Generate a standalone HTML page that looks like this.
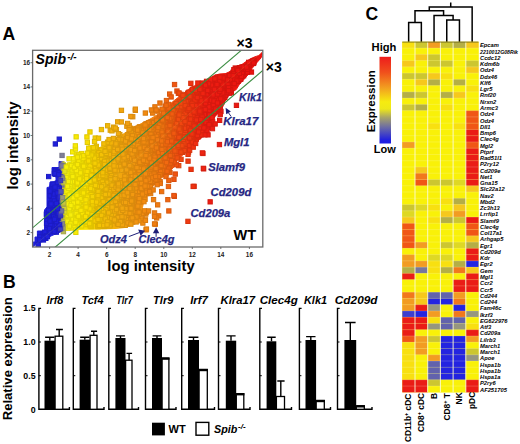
<!DOCTYPE html>
<html><head><meta charset="utf-8">
<style>
html,body{margin:0;padding:0;background:#fff;}
body{width:520px;height:444px;overflow:hidden;}
svg{display:block;font-family:"Liberation Sans",sans-serif;}
</style></head>
<body>
<svg width="520" height="444" viewBox="0 0 520 444">
<rect width="520" height="444" fill="#fff"/>
<!-- Panel A -->
<text x="2.4" y="40.3" font-size="17.6" font-weight="bold">A</text>
<defs><clipPath id="fr"><rect x="32.6" y="50.3" width="230.2" height="196.7"/></clipPath></defs>
<g clip-path="url(#fr)">
<defs><linearGradient id="sg" gradientUnits="userSpaceOnUse" x1="32.6" y1="0" x2="262.8" y2="0"><stop offset="0.0000" stop-color="#1f1fda"/><stop offset="0.1185" stop-color="#2020da"/><stop offset="0.1272" stop-color="#7878a0"/><stop offset="0.1358" stop-color="#c8c83c"/><stop offset="0.1433" stop-color="#f8f40a"/><stop offset="0.2288" stop-color="#fae200"/><stop offset="0.2908" stop-color="#f4c404"/><stop offset="0.3838" stop-color="#f2a60e"/><stop offset="0.4458" stop-color="#f29610"/><stop offset="0.5450" stop-color="#f17a10"/><stop offset="0.5946" stop-color="#f16210"/><stop offset="0.6380" stop-color="#f14a10"/><stop offset="0.6937" stop-color="#f03210"/><stop offset="0.7557" stop-color="#ee1e12"/><stop offset="1.0000" stop-color="#e9100e"/></linearGradient></defs><path d="M33.0 246.5 L40.0 242.0 L46.0 238.5 L52.0 235.5 L58.0 233.0 L61.7 231.5 L63.0 231.0 L70.0 229.8 L85.0 229.3 L100.0 229.0 L115.0 228.5 L125.0 227.5 L134.0 224.5 L138.7 221.0 L142.0 214.0 L142.5 207.3 L144.0 200.6 L149.0 193.8 L152.3 187.0 L159.0 180.0 L167.5 173.3 L174.0 167.0 L177.3 160.4 L183.6 154.1 L191.5 147.8 L197.8 141.5 L202.6 135.2 L207.3 128.9 L212.0 122.6 L215.2 116.3 L221.5 110.0 L225.0 101.0 L230.6 93.0 L236.3 89.5 L239.6 84.0 L243.0 80.5 L248.7 74.0 L252.0 68.5 L256.5 63.0 L261.0 58.0 L262.0 55.0 L262.0 52.5 L258.8 55.5 L254.3 57.0 L247.5 60.5 L241.9 64.5 L234.0 67.0 L231.8 70.5 L226.0 73.5 L219.4 74.0 L213.1 76.0 L205.2 80.5 L197.3 84.5 L191.0 87.5 L183.8 93.0 L172.3 102.0 L160.8 112.7 L149.2 119.6 L137.7 125.4 L126.2 132.3 L114.6 139.2 L103.0 146.2 L91.5 150.8 L80.0 157.7 L74.2 160.0 L67.0 164.0 L64.0 161.5 L59.0 161.5 L59.0 167.5 L52.0 167.5 L52.0 175.5 L56.0 177.0 L56.0 181.5 L50.0 182.0 L49.5 187.0 L47.0 187.5 L47.0 207.0 L44.5 210.0 L44.5 231.0 L37.4 231.0 L37.4 237.0 L35.0 237.0 L35.0 242.0 L33.2 242.0 Z" fill="url(#sg)" stroke="url(#sg)" stroke-width="1"/>
<rect x="107.2" y="188.4" width="4.3" height="4.3" fill="#f3b609" stroke="#daa308"/>
<rect x="58.9" y="225.3" width="4.3" height="4.3" fill="#5656b7" stroke="#4d4da4"/>
<rect x="109.8" y="208.1" width="4.3" height="4.3" fill="#f3b30a" stroke="#daa109"/>
<rect x="166.7" y="149.7" width="4.3" height="4.3" fill="#f16310" stroke="#d8590e"/>
<rect x="120.3" y="154.7" width="4.3" height="4.3" fill="#f2a40e" stroke="#d9930c"/>
<rect x="112.2" y="154.2" width="4.3" height="4.3" fill="#f3af0b" stroke="#da9d09"/>
<rect x="113.3" y="177.6" width="4.3" height="4.3" fill="#f3ae0b" stroke="#da9c09"/>
<rect x="102.8" y="156.7" width="4.3" height="4.3" fill="#f3bc07" stroke="#daa906"/>
<rect x="194.3" y="131.3" width="4.3" height="4.3" fill="#ef2c11" stroke="#d7270f"/>
<rect x="190.7" y="111.8" width="4.3" height="4.3" fill="#f03110" stroke="#d82c0e"/>
<rect x="76.5" y="174.6" width="4.3" height="4.3" fill="#f9e803" stroke="#e0d002"/>
<rect x="136.2" y="165.9" width="4.3" height="4.3" fill="#f29210" stroke="#d9830e"/>
<rect x="110.8" y="178.9" width="4.3" height="4.3" fill="#f3b10a" stroke="#da9f09"/>
<rect x="240.5" y="73.0" width="4.3" height="4.3" fill="#eb1510" stroke="#d3120e"/>
<rect x="242.2" y="70.3" width="4.3" height="4.3" fill="#ea1510" stroke="#d2120e"/>
<rect x="171.9" y="138.1" width="4.3" height="4.3" fill="#f15710" stroke="#d84e0e"/>
<rect x="174.2" y="109.1" width="4.3" height="4.3" fill="#f15110" stroke="#d8480e"/>
<rect x="132.4" y="167.4" width="4.3" height="4.3" fill="#f29710" stroke="#d9870e"/>
<rect x="130.2" y="219.3" width="4.3" height="4.3" fill="#f29910" stroke="#d9890e"/>
<rect x="164.2" y="128.0" width="4.3" height="4.3" fill="#f16910" stroke="#d85e0e"/>
<rect x="99.8" y="191.1" width="4.3" height="4.3" fill="#f4c105" stroke="#dbad04"/>
<rect x="121.9" y="164.1" width="4.3" height="4.3" fill="#f2a30e" stroke="#d9920c"/>
<rect x="69.9" y="171.4" width="4.3" height="4.3" fill="#f9ee07" stroke="#e0d606"/>
<rect x="212.1" y="84.3" width="4.3" height="4.3" fill="#ed1c12" stroke="#d51910"/>
<rect x="149.4" y="120.0" width="4.3" height="4.3" fill="#f18210" stroke="#d8750e"/>
<rect x="84.6" y="202.4" width="4.3" height="4.3" fill="#f9df00" stroke="#e0c800"/>
<rect x="69.2" y="174.6" width="4.3" height="4.3" fill="#f9ef07" stroke="#e0d706"/>
<rect x="135.3" y="178.0" width="4.3" height="4.3" fill="#f29310" stroke="#d9840e"/>
<rect x="211.0" y="101.6" width="4.3" height="4.3" fill="#ed1c12" stroke="#d51910"/>
<rect x="54.4" y="186.2" width="4.3" height="4.3" fill="#2020da" stroke="#1c1cc4"/>
<rect x="217.8" y="92.9" width="4.3" height="4.3" fill="#ed1b11" stroke="#d5180f"/>
<rect x="87.3" y="206.6" width="4.3" height="4.3" fill="#f8d901" stroke="#dfc300"/>
<rect x="70.0" y="166.0" width="4.3" height="4.3" fill="#f9ee07" stroke="#e0d606"/>
<rect x="77.6" y="191.9" width="4.3" height="4.3" fill="#f9e703" stroke="#e0cf02"/>
<rect x="233.8" y="74.5" width="4.3" height="4.3" fill="#eb1710" stroke="#d3140e"/>
<rect x="101.6" y="148.8" width="4.3" height="4.3" fill="#f4be06" stroke="#dbab05"/>
<rect x="116.8" y="143.8" width="4.3" height="4.3" fill="#f2a90d" stroke="#d9980b"/>
<rect x="138.6" y="163.3" width="4.3" height="4.3" fill="#f28f10" stroke="#d9800e"/>
<rect x="197.7" y="119.6" width="4.3" height="4.3" fill="#ef2711" stroke="#d7230f"/>
<rect x="125.2" y="150.2" width="4.3" height="4.3" fill="#f29f0f" stroke="#d98f0d"/>
<rect x="207.7" y="119.4" width="4.3" height="4.3" fill="#ee1d12" stroke="#d61a10"/>
<rect x="75.4" y="157.3" width="4.3" height="4.3" fill="#f9e904" stroke="#e0d103"/>
<rect x="156.5" y="213.7" width="4.3" height="4.3" fill="#f17910" stroke="#d86c0e"/>
<rect x="135.5" y="197.8" width="4.3" height="4.3" fill="#f29310" stroke="#d9840e"/>
<rect x="197.1" y="133.7" width="4.3" height="4.3" fill="#ef2811" stroke="#d7240f"/>
<rect x="158.0" y="179.5" width="4.3" height="4.3" fill="#f17610" stroke="#d86a0e"/>
<rect x="131.3" y="157.6" width="4.3" height="4.3" fill="#f29810" stroke="#d9880e"/>
<rect x="160.7" y="116.3" width="4.3" height="4.3" fill="#f17010" stroke="#d8640e"/>
<rect x="108.0" y="185.6" width="4.3" height="4.3" fill="#f3b509" stroke="#daa208"/>
<rect x="100.7" y="193.7" width="4.3" height="4.3" fill="#f4bf06" stroke="#dbab05"/>
<rect x="235.5" y="67.6" width="4.3" height="4.3" fill="#eb1610" stroke="#d3130e"/>
<rect x="41.3" y="237.8" width="4.3" height="4.3" fill="#1f1fda" stroke="#1b1bc4"/>
<rect x="73.3" y="218.7" width="4.3" height="4.3" fill="#f9eb05" stroke="#e0d304"/>
<rect x="145.1" y="170.2" width="4.3" height="4.3" fill="#f18710" stroke="#d8790e"/>
<rect x="69.9" y="167.7" width="4.3" height="4.3" fill="#f9ee07" stroke="#e0d606"/>
<rect x="196.9" y="129.7" width="4.3" height="4.3" fill="#ef2911" stroke="#d7240f"/>
<rect x="85.5" y="177.1" width="4.3" height="4.3" fill="#f9dd01" stroke="#e0c600"/>
<rect x="93.2" y="161.9" width="4.3" height="4.3" fill="#f6cd03" stroke="#ddb802"/>
<rect x="131.6" y="162.3" width="4.3" height="4.3" fill="#f29810" stroke="#d9880e"/>
<rect x="94.2" y="144.3" width="4.3" height="4.3" fill="#f5cb03" stroke="#dcb602"/>
<rect x="47.5" y="213.4" width="4.3" height="4.3" fill="#1f1fda" stroke="#1b1bc4"/>
<rect x="97.5" y="177.5" width="4.3" height="4.3" fill="#f4c404" stroke="#dbb003"/>
<rect x="143.7" y="147.5" width="4.3" height="4.3" fill="#f28910" stroke="#d97b0e"/>
<rect x="123.6" y="184.3" width="4.3" height="4.3" fill="#f2a10f" stroke="#d9900d"/>
<rect x="94.4" y="196.0" width="4.3" height="4.3" fill="#f5ca03" stroke="#dcb502"/>
<rect x="124.7" y="140.3" width="4.3" height="4.3" fill="#f29f0f" stroke="#d98f0d"/>
<rect x="152.7" y="159.1" width="4.3" height="4.3" fill="#f17e10" stroke="#d8710e"/>
<rect x="212.1" y="81.7" width="4.3" height="4.3" fill="#ed1c12" stroke="#d51910"/>
<rect x="96.9" y="196.8" width="4.3" height="4.3" fill="#f4c504" stroke="#dbb103"/>
<rect x="164.2" y="147.7" width="4.3" height="4.3" fill="#f16910" stroke="#d85e0e"/>
<rect x="204.4" y="110.6" width="4.3" height="4.3" fill="#ee1e12" stroke="#d61b10"/>
<rect x="186.4" y="103.2" width="4.3" height="4.3" fill="#f03910" stroke="#d8330e"/>
<rect x="126.8" y="163.0" width="4.3" height="4.3" fill="#f29d0f" stroke="#d98d0d"/>
<rect x="153.7" y="179.3" width="4.3" height="4.3" fill="#f17d10" stroke="#d8700e"/>
<rect x="83.3" y="166.1" width="4.3" height="4.3" fill="#fae200" stroke="#e1cb00"/>
<rect x="117.9" y="156.4" width="4.3" height="4.3" fill="#f2a70e" stroke="#d9960c"/>
<rect x="170.3" y="151.7" width="4.3" height="4.3" fill="#f15b10" stroke="#d8510e"/>
<rect x="163.8" y="171.8" width="4.3" height="4.3" fill="#f16910" stroke="#d85e0e"/>
<rect x="95.4" y="213.6" width="4.3" height="4.3" fill="#f5c803" stroke="#dcb402"/>
<rect x="84.4" y="183.5" width="4.3" height="4.3" fill="#f9df00" stroke="#e0c800"/>
<rect x="50.9" y="192.8" width="4.3" height="4.3" fill="#2020da" stroke="#1c1cc4"/>
<rect x="45.6" y="218.0" width="4.3" height="4.3" fill="#1f1fda" stroke="#1b1bc4"/>
<rect x="192.0" y="114.4" width="4.3" height="4.3" fill="#f02f10" stroke="#d82a0e"/>
<rect x="137.7" y="182.6" width="4.3" height="4.3" fill="#f29010" stroke="#d9810e"/>
<rect x="153.3" y="126.9" width="4.3" height="4.3" fill="#f17d10" stroke="#d8700e"/>
<rect x="92.4" y="167.7" width="4.3" height="4.3" fill="#f6cf03" stroke="#ddba02"/>
<rect x="41.1" y="231.4" width="4.3" height="4.3" fill="#1f1fda" stroke="#1b1bc4"/>
<rect x="127.5" y="193.3" width="4.3" height="4.3" fill="#f29c0f" stroke="#d98c0d"/>
<rect x="66.8" y="219.4" width="4.3" height="4.3" fill="#f8f108" stroke="#dfd807"/>
<rect x="86.9" y="173.6" width="4.3" height="4.3" fill="#f8da01" stroke="#dfc400"/>
<rect x="105.4" y="169.1" width="4.3" height="4.3" fill="#f3b908" stroke="#daa607"/>
<rect x="158.1" y="150.5" width="4.3" height="4.3" fill="#f17510" stroke="#d8690e"/>
<rect x="125.6" y="213.2" width="4.3" height="4.3" fill="#f29e0f" stroke="#d98e0d"/>
<rect x="201.7" y="110.1" width="4.3" height="4.3" fill="#ee2212" stroke="#d61e10"/>
<rect x="102.1" y="215.3" width="4.3" height="4.3" fill="#f4bd06" stroke="#dbaa05"/>
<rect x="204.9" y="128.1" width="4.3" height="4.3" fill="#ee1e12" stroke="#d61b10"/>
<rect x="102.0" y="206.3" width="4.3" height="4.3" fill="#f4be06" stroke="#dbab05"/>
<rect x="103.8" y="207.6" width="4.3" height="4.3" fill="#f3bb07" stroke="#daa806"/>
<rect x="128.6" y="206.1" width="4.3" height="4.3" fill="#f29b0f" stroke="#d98b0d"/>
<rect x="133.4" y="148.0" width="4.3" height="4.3" fill="#f29610" stroke="#d9870e"/>
<rect x="108.5" y="170.5" width="4.3" height="4.3" fill="#f3b409" stroke="#daa208"/>
<rect x="115.4" y="193.9" width="4.3" height="4.3" fill="#f2ab0c" stroke="#d9990a"/>
<rect x="73.7" y="162.5" width="4.3" height="4.3" fill="#f9eb05" stroke="#e0d304"/>
<rect x="161.6" y="127.7" width="4.3" height="4.3" fill="#f16e10" stroke="#d8630e"/>
<rect x="53.1" y="168.3" width="4.3" height="4.3" fill="#2020da" stroke="#1c1cc4"/>
<rect x="158.7" y="167.4" width="4.3" height="4.3" fill="#f17410" stroke="#d8680e"/>
<rect x="112.8" y="190.9" width="4.3" height="4.3" fill="#f3ae0b" stroke="#da9c09"/>
<rect x="69.8" y="181.2" width="4.3" height="4.3" fill="#f9ee07" stroke="#e0d606"/>
<rect x="122.5" y="163.3" width="4.3" height="4.3" fill="#f2a20f" stroke="#d9910d"/>
<rect x="174.5" y="107.3" width="4.3" height="4.3" fill="#f15110" stroke="#d8480e"/>
<rect x="95.6" y="223.7" width="4.3" height="4.3" fill="#f5c803" stroke="#dcb402"/>
<rect x="200.3" y="88.4" width="4.3" height="4.3" fill="#ef2411" stroke="#d7200f"/>
<rect x="124.2" y="192.8" width="4.3" height="4.3" fill="#f2a00f" stroke="#d9900d"/>
<rect x="94.0" y="187.2" width="4.3" height="4.3" fill="#f5cb03" stroke="#dcb602"/>
<rect x="118.2" y="205.4" width="4.3" height="4.3" fill="#f2a70e" stroke="#d9960c"/>
<rect x="83.8" y="217.3" width="4.3" height="4.3" fill="#fae100" stroke="#e1ca00"/>
<rect x="201.3" y="85.8" width="4.3" height="4.3" fill="#ee2212" stroke="#d61e10"/>
<rect x="152.7" y="166.0" width="4.3" height="4.3" fill="#f17e10" stroke="#d8710e"/>
<rect x="95.1" y="165.0" width="4.3" height="4.3" fill="#f5c903" stroke="#dcb402"/>
<rect x="142.6" y="147.7" width="4.3" height="4.3" fill="#f28a10" stroke="#d97c0e"/>
<rect x="195.2" y="123.4" width="4.3" height="4.3" fill="#ef2b11" stroke="#d7260f"/>
<rect x="158.3" y="116.6" width="4.3" height="4.3" fill="#f17510" stroke="#d8690e"/>
<rect x="104.3" y="194.0" width="4.3" height="4.3" fill="#f3ba07" stroke="#daa706"/>
<rect x="53.7" y="209.3" width="4.3" height="4.3" fill="#2020da" stroke="#1c1cc4"/>
<rect x="247.4" y="63.2" width="4.3" height="4.3" fill="#ea130f" stroke="#d2110d"/>
<rect x="62.5" y="217.5" width="4.3" height="4.3" fill="#dddb27" stroke="#c6c523"/>
<rect x="58.0" y="196.5" width="4.3" height="4.3" fill="#2d2dd1" stroke="#2828bc"/>
<rect x="180.6" y="142.3" width="4.3" height="4.3" fill="#f14410" stroke="#d83d0e"/>
<rect x="59.1" y="224.7" width="4.3" height="4.3" fill="#5b5bb3" stroke="#5151a1"/>
<rect x="156.2" y="131.2" width="4.3" height="4.3" fill="#f17910" stroke="#d86c0e"/>
<rect x="58.9" y="222.6" width="4.3" height="4.3" fill="#5454b8" stroke="#4b4ba5"/>
<rect x="54.5" y="194.9" width="4.3" height="4.3" fill="#2020da" stroke="#1c1cc4"/>
<rect x="106.1" y="151.6" width="4.3" height="4.3" fill="#f3b808" stroke="#daa507"/>
<rect x="146.8" y="150.0" width="4.3" height="4.3" fill="#f18510" stroke="#d8770e"/>
<rect x="155.7" y="109.0" width="4.3" height="4.3" fill="#f17a10" stroke="#d86d0e"/>
<rect x="115.4" y="199.2" width="4.3" height="4.3" fill="#f2ab0c" stroke="#d9990a"/>
<rect x="57.0" y="214.3" width="4.3" height="4.3" fill="#2020da" stroke="#1c1cc4"/>
<rect x="64.3" y="221.4" width="4.3" height="4.3" fill="#f8f30a" stroke="#dfda09"/>
<rect x="121.6" y="213.6" width="4.3" height="4.3" fill="#f2a30e" stroke="#d9920c"/>
<rect x="56.4" y="226.9" width="4.3" height="4.3" fill="#2020da" stroke="#1c1cc4"/>
<rect x="250.3" y="61.0" width="4.3" height="4.3" fill="#ea130f" stroke="#d2110d"/>
<rect x="52.0" y="192.4" width="4.3" height="4.3" fill="#2020da" stroke="#1c1cc4"/>
<rect x="184.1" y="113.8" width="4.3" height="4.3" fill="#f03d10" stroke="#d8360e"/>
<rect x="148.6" y="156.6" width="4.3" height="4.3" fill="#f18310" stroke="#d8750e"/>
<rect x="160.1" y="133.0" width="4.3" height="4.3" fill="#f17110" stroke="#d8650e"/>
<rect x="243.4" y="70.0" width="4.3" height="4.3" fill="#ea1410" stroke="#d2120e"/>
<rect x="189.2" y="126.9" width="4.3" height="4.3" fill="#f03410" stroke="#d82e0e"/>
<rect x="170.9" y="105.6" width="4.3" height="4.3" fill="#f15910" stroke="#d8500e"/>
<rect x="99.0" y="171.0" width="4.3" height="4.3" fill="#f4c205" stroke="#dbae04"/>
<rect x="145.0" y="138.6" width="4.3" height="4.3" fill="#f18710" stroke="#d8790e"/>
<rect x="84.7" y="194.4" width="4.3" height="4.3" fill="#f9df00" stroke="#e0c800"/>
<rect x="93.3" y="210.8" width="4.3" height="4.3" fill="#f6cd03" stroke="#ddb802"/>
<rect x="60.4" y="180.8" width="4.3" height="4.3" fill="#93937f" stroke="#848472"/>
<rect x="138.0" y="139.5" width="4.3" height="4.3" fill="#f29010" stroke="#d9810e"/>
<rect x="188.3" y="132.8" width="4.3" height="4.3" fill="#f03610" stroke="#d8300e"/>
<rect x="130.2" y="199.7" width="4.3" height="4.3" fill="#f29910" stroke="#d9890e"/>
<rect x="126.7" y="219.9" width="4.3" height="4.3" fill="#f29d0f" stroke="#d98d0d"/>
<rect x="175.5" y="102.0" width="4.3" height="4.3" fill="#f14e10" stroke="#d8460e"/>
<rect x="72.6" y="183.8" width="4.3" height="4.3" fill="#f9ec05" stroke="#e0d404"/>
<rect x="62.7" y="190.1" width="4.3" height="4.3" fill="#e3e120" stroke="#ccca1c"/>
<rect x="121.4" y="167.7" width="4.3" height="4.3" fill="#f2a30e" stroke="#d9920c"/>
<rect x="47.6" y="228.3" width="4.3" height="4.3" fill="#1f1fda" stroke="#1b1bc4"/>
<rect x="85.3" y="199.7" width="4.3" height="4.3" fill="#f9dd01" stroke="#e0c600"/>
<rect x="137.3" y="180.5" width="4.3" height="4.3" fill="#f29110" stroke="#d9820e"/>
<rect x="77.4" y="208.7" width="4.3" height="4.3" fill="#f9e703" stroke="#e0cf02"/>
<rect x="167.9" y="153.8" width="4.3" height="4.3" fill="#f16110" stroke="#d8570e"/>
<rect x="193.7" y="132.9" width="4.3" height="4.3" fill="#f02d10" stroke="#d8280e"/>
<rect x="118.0" y="209.2" width="4.3" height="4.3" fill="#f2a70e" stroke="#d9960c"/>
<rect x="199.4" y="107.6" width="4.3" height="4.3" fill="#ef2511" stroke="#d7210f"/>
<rect x="85.3" y="215.4" width="4.3" height="4.3" fill="#f9dd01" stroke="#e0c600"/>
<rect x="104.8" y="168.0" width="4.3" height="4.3" fill="#f3ba07" stroke="#daa706"/>
<rect x="132.0" y="177.9" width="4.3" height="4.3" fill="#f29710" stroke="#d9870e"/>
<rect x="55.6" y="171.8" width="4.3" height="4.3" fill="#2020da" stroke="#1c1cc4"/>
<rect x="111.4" y="213.1" width="4.3" height="4.3" fill="#f3b00b" stroke="#da9e09"/>
<rect x="46.5" y="174.4" width="4.3" height="4.3" fill="#1f1fda" stroke="#1b1bc4"/>
<rect x="122.8" y="215.3" width="4.3" height="4.3" fill="#f2a20f" stroke="#d9910d"/>
<rect x="86.3" y="210.8" width="4.3" height="4.3" fill="#f9db01" stroke="#e0c500"/>
<rect x="147.3" y="163.4" width="4.3" height="4.3" fill="#f18510" stroke="#d8770e"/>
<rect x="131.3" y="170.7" width="4.3" height="4.3" fill="#f29810" stroke="#d9880e"/>
<rect x="145.9" y="144.8" width="4.3" height="4.3" fill="#f18610" stroke="#d8780e"/>
<rect x="212.8" y="94.5" width="4.3" height="4.3" fill="#ed1c11" stroke="#d5190f"/>
<rect x="77.9" y="166.1" width="4.3" height="4.3" fill="#f9e703" stroke="#e0cf02"/>
<rect x="80.5" y="200.0" width="4.3" height="4.3" fill="#fae401" stroke="#e1cd00"/>
<rect x="148.3" y="183.9" width="4.3" height="4.3" fill="#f18310" stroke="#d8750e"/>
<rect x="90.2" y="168.2" width="4.3" height="4.3" fill="#f7d302" stroke="#debd01"/>
<rect x="55.1" y="217.2" width="4.3" height="4.3" fill="#2020da" stroke="#1c1cc4"/>
<rect x="72.1" y="165.9" width="4.3" height="4.3" fill="#f9ec06" stroke="#e0d405"/>
<rect x="143.4" y="183.0" width="4.3" height="4.3" fill="#f28910" stroke="#d97b0e"/>
<rect x="113.6" y="174.0" width="4.3" height="4.3" fill="#f2ad0c" stroke="#d99b0a"/>
<rect x="128.4" y="148.4" width="4.3" height="4.3" fill="#f29b0f" stroke="#d98b0d"/>
<rect x="82.2" y="214.8" width="4.3" height="4.3" fill="#fae300" stroke="#e1cc00"/>
<rect x="148.6" y="173.2" width="4.3" height="4.3" fill="#f18310" stroke="#d8750e"/>
<rect x="130.1" y="210.8" width="4.3" height="4.3" fill="#f29910" stroke="#d9890e"/>
<rect x="144.4" y="191.4" width="4.3" height="4.3" fill="#f28810" stroke="#d97a0e"/>
<rect x="190.0" y="117.8" width="4.3" height="4.3" fill="#f03210" stroke="#d82d0e"/>
<rect x="134.2" y="155.6" width="4.3" height="4.3" fill="#f29510" stroke="#d9860e"/>
<rect x="88.9" y="206.7" width="4.3" height="4.3" fill="#f8d602" stroke="#dfc001"/>
<rect x="201.8" y="102.2" width="4.3" height="4.3" fill="#ee2212" stroke="#d61e10"/>
<rect x="218.1" y="93.3" width="4.3" height="4.3" fill="#ed1b11" stroke="#d5180f"/>
<rect x="63.7" y="189.4" width="4.3" height="4.3" fill="#f8f40a" stroke="#dfdb09"/>
<rect x="133.7" y="190.3" width="4.3" height="4.3" fill="#f29510" stroke="#d9860e"/>
<rect x="130.6" y="196.7" width="4.3" height="4.3" fill="#f29910" stroke="#d9890e"/>
<rect x="187.5" y="93.9" width="4.3" height="4.3" fill="#f03710" stroke="#d8310e"/>
<rect x="229.9" y="80.2" width="4.3" height="4.3" fill="#ec1810" stroke="#d4150e"/>
<rect x="81.3" y="166.9" width="4.3" height="4.3" fill="#fae401" stroke="#e1cd00"/>
<rect x="51.6" y="207.7" width="4.3" height="4.3" fill="#2020da" stroke="#1c1cc4"/>
<rect x="101.6" y="186.2" width="4.3" height="4.3" fill="#f4be06" stroke="#dbab05"/>
<rect x="136.2" y="209.7" width="4.3" height="4.3" fill="#f29210" stroke="#d9830e"/>
<rect x="55.9" y="214.9" width="4.3" height="4.3" fill="#2020da" stroke="#1c1cc4"/>
<rect x="108.6" y="194.6" width="4.3" height="4.3" fill="#f3b409" stroke="#daa208"/>
<rect x="207.6" y="109.6" width="4.3" height="4.3" fill="#ee1d12" stroke="#d61a10"/>
<rect x="207.3" y="119.8" width="4.3" height="4.3" fill="#ee1d12" stroke="#d61a10"/>
<rect x="128.2" y="194.8" width="4.3" height="4.3" fill="#f29b0f" stroke="#d98b0d"/>
<rect x="71.4" y="156.6" width="4.3" height="4.3" fill="#f9ed06" stroke="#e0d505"/>
<rect x="106.5" y="205.0" width="4.3" height="4.3" fill="#f3b708" stroke="#daa407"/>
<rect x="150.2" y="180.3" width="4.3" height="4.3" fill="#f18110" stroke="#d8740e"/>
<rect x="45.7" y="223.2" width="4.3" height="4.3" fill="#1f1fda" stroke="#1b1bc4"/>
<rect x="148.1" y="130.0" width="4.3" height="4.3" fill="#f18410" stroke="#d8760e"/>
<rect x="166.1" y="136.6" width="4.3" height="4.3" fill="#f16510" stroke="#d85a0e"/>
<rect x="102.1" y="150.3" width="4.3" height="4.3" fill="#f4bd06" stroke="#dbaa05"/>
<rect x="56.4" y="224.6" width="4.3" height="4.3" fill="#2020da" stroke="#1c1cc4"/>
<rect x="148.5" y="191.4" width="4.3" height="4.3" fill="#f18310" stroke="#d8750e"/>
<rect x="196.8" y="88.8" width="4.3" height="4.3" fill="#ef2911" stroke="#d7240f"/>
<rect x="138.5" y="171.5" width="4.3" height="4.3" fill="#f28f10" stroke="#d9800e"/>
<rect x="108.1" y="128.0" width="4.3" height="4.3" fill="#f3b509" stroke="#daa208"/>
<rect x="90.2" y="206.6" width="4.3" height="4.3" fill="#f7d302" stroke="#debd01"/>
<rect x="178.4" y="134.3" width="4.3" height="4.3" fill="#f14810" stroke="#d8400e"/>
<rect x="119.2" y="209.7" width="4.3" height="4.3" fill="#f2a60e" stroke="#d9950c"/>
<rect x="177.8" y="137.0" width="4.3" height="4.3" fill="#f14910" stroke="#d8410e"/>
<rect x="61.1" y="163.1" width="4.3" height="4.3" fill="#b0b05a" stroke="#9e9e51"/>
<rect x="144.1" y="184.6" width="4.3" height="4.3" fill="#f28810" stroke="#d97a0e"/>
<rect x="74.2" y="213.1" width="4.3" height="4.3" fill="#f9ea05" stroke="#e0d204"/>
<rect x="55.2" y="180.9" width="4.3" height="4.3" fill="#2020da" stroke="#1c1cc4"/>
<rect x="215.5" y="102.0" width="4.3" height="4.3" fill="#ed1b11" stroke="#d5180f"/>
<rect x="202.1" y="110.1" width="4.3" height="4.3" fill="#ee2112" stroke="#d61d10"/>
<rect x="179.0" y="126.8" width="4.3" height="4.3" fill="#f14710" stroke="#d83f0e"/>
<rect x="109.4" y="173.5" width="4.3" height="4.3" fill="#f3b30a" stroke="#daa109"/>
<rect x="190.7" y="94.7" width="4.3" height="4.3" fill="#f03110" stroke="#d82c0e"/>
<rect x="165.8" y="141.7" width="4.3" height="4.3" fill="#f16510" stroke="#d85a0e"/>
<rect x="94.0" y="214.1" width="4.3" height="4.3" fill="#f5cb03" stroke="#dcb602"/>
<rect x="75.3" y="206.2" width="4.3" height="4.3" fill="#f9e904" stroke="#e0d103"/>
<rect x="120.6" y="212.1" width="4.3" height="4.3" fill="#f2a40e" stroke="#d9930c"/>
<rect x="47.0" y="210.9" width="4.3" height="4.3" fill="#1f1fda" stroke="#1b1bc4"/>
<rect x="180.3" y="113.0" width="4.3" height="4.3" fill="#f14410" stroke="#d83d0e"/>
<rect x="106.4" y="213.5" width="4.3" height="4.3" fill="#f3b708" stroke="#daa407"/>
<rect x="121.0" y="163.4" width="4.3" height="4.3" fill="#f2a40e" stroke="#d9930c"/>
<rect x="177.5" y="137.1" width="4.3" height="4.3" fill="#f14a10" stroke="#d8420e"/>
<rect x="113.7" y="182.9" width="4.3" height="4.3" fill="#f2ad0c" stroke="#d99b0a"/>
<rect x="161.4" y="149.1" width="4.3" height="4.3" fill="#f16e10" stroke="#d8630e"/>
<rect x="168.5" y="153.8" width="4.3" height="4.3" fill="#f15f10" stroke="#d8550e"/>
<rect x="86.1" y="169.7" width="4.3" height="4.3" fill="#f9dc01" stroke="#e0c600"/>
<rect x="163.1" y="104.1" width="4.3" height="4.3" fill="#f16b10" stroke="#d8600e"/>
<rect x="168.5" y="131.9" width="4.3" height="4.3" fill="#f15f10" stroke="#d8550e"/>
<rect x="103.7" y="220.5" width="4.3" height="4.3" fill="#f3bb07" stroke="#daa806"/>
<rect x="209.2" y="84.1" width="4.3" height="4.3" fill="#ee1d12" stroke="#d61a10"/>
<rect x="86.5" y="220.2" width="4.3" height="4.3" fill="#f9db01" stroke="#e0c500"/>
<rect x="152.1" y="120.9" width="4.3" height="4.3" fill="#f17f10" stroke="#d8720e"/>
<rect x="181.7" y="94.8" width="4.3" height="4.3" fill="#f14210" stroke="#d83b0e"/>
<rect x="141.3" y="181.8" width="4.3" height="4.3" fill="#f28c10" stroke="#d97e0e"/>
<rect x="76.2" y="163.2" width="4.3" height="4.3" fill="#f9e804" stroke="#e0d003"/>
<rect x="143.2" y="136.6" width="4.3" height="4.3" fill="#f28a10" stroke="#d97c0e"/>
<rect x="124.8" y="184.0" width="4.3" height="4.3" fill="#f29f0f" stroke="#d98f0d"/>
<rect x="212.4" y="86.8" width="4.3" height="4.3" fill="#ed1c12" stroke="#d51910"/>
<rect x="101.5" y="152.2" width="4.3" height="4.3" fill="#f4be06" stroke="#dbab05"/>
<rect x="212.7" y="103.9" width="4.3" height="4.3" fill="#ed1c11" stroke="#d5190f"/>
<rect x="107.5" y="158.0" width="4.3" height="4.3" fill="#f3b609" stroke="#daa308"/>
<rect x="166.8" y="125.6" width="4.3" height="4.3" fill="#f16310" stroke="#d8590e"/>
<rect x="134.1" y="165.4" width="4.3" height="4.3" fill="#f29510" stroke="#d9860e"/>
<rect x="206.4" y="109.2" width="4.3" height="4.3" fill="#ee1e12" stroke="#d61b10"/>
<rect x="198.5" y="104.2" width="4.3" height="4.3" fill="#ef2611" stroke="#d7220f"/>
<rect x="87.9" y="154.2" width="4.3" height="4.3" fill="#f8d801" stroke="#dfc200"/>
<rect x="215.7" y="91.2" width="4.3" height="4.3" fill="#ed1b11" stroke="#d5180f"/>
<rect x="68.5" y="211.3" width="4.3" height="4.3" fill="#f9ef07" stroke="#e0d706"/>
<rect x="72.1" y="188.9" width="4.3" height="4.3" fill="#f9ec06" stroke="#e0d405"/>
<rect x="150.1" y="165.5" width="4.3" height="4.3" fill="#f18110" stroke="#d8740e"/>
<rect x="115.6" y="221.3" width="4.3" height="4.3" fill="#f2aa0d" stroke="#d9990b"/>
<rect x="125.1" y="165.4" width="4.3" height="4.3" fill="#f29f0f" stroke="#d98f0d"/>
<rect x="135.7" y="195.3" width="4.3" height="4.3" fill="#f29310" stroke="#d9840e"/>
<rect x="203.1" y="106.2" width="4.3" height="4.3" fill="#ee2012" stroke="#d61c10"/>
<rect x="124.1" y="208.6" width="4.3" height="4.3" fill="#f2a00f" stroke="#d9900d"/>
<rect x="98.3" y="166.0" width="4.3" height="4.3" fill="#f4c304" stroke="#dbaf03"/>
<rect x="83.6" y="217.5" width="4.3" height="4.3" fill="#fae100" stroke="#e1ca00"/>
<rect x="54.9" y="205.6" width="4.3" height="4.3" fill="#2020da" stroke="#1c1cc4"/>
<rect x="140.7" y="220.9" width="4.3" height="4.3" fill="#f28d10" stroke="#d97e0e"/>
<rect x="233.1" y="65.9" width="4.3" height="4.3" fill="#eb1710" stroke="#d3140e"/>
<rect x="84.7" y="181.4" width="4.3" height="4.3" fill="#f9df00" stroke="#e0c800"/>
<rect x="149.6" y="143.5" width="4.3" height="4.3" fill="#f18210" stroke="#d8750e"/>
<rect x="184.4" y="106.0" width="4.3" height="4.3" fill="#f03d10" stroke="#d8360e"/>
<rect x="69.0" y="225.6" width="4.3" height="4.3" fill="#f9ef07" stroke="#e0d706"/>
<rect x="201.3" y="98.9" width="4.3" height="4.3" fill="#ee2212" stroke="#d61e10"/>
<rect x="227.1" y="88.8" width="4.3" height="4.3" fill="#ec1811" stroke="#d4150f"/>
<rect x="124.3" y="173.6" width="4.3" height="4.3" fill="#f2a00f" stroke="#d9900d"/>
<rect x="134.4" y="162.8" width="4.3" height="4.3" fill="#f29410" stroke="#d9850e"/>
<rect x="221.9" y="89.0" width="4.3" height="4.3" fill="#ec1a11" stroke="#d4170f"/>
<rect x="138.4" y="178.0" width="4.3" height="4.3" fill="#f29010" stroke="#d9810e"/>
<rect x="91.7" y="197.0" width="4.3" height="4.3" fill="#f6d002" stroke="#ddbb01"/>
<rect x="174.0" y="104.5" width="4.3" height="4.3" fill="#f15210" stroke="#d8490e"/>
<rect x="226.7" y="73.3" width="4.3" height="4.3" fill="#ec1811" stroke="#d4150f"/>
<rect x="99.4" y="203.5" width="4.3" height="4.3" fill="#f4c105" stroke="#dbad04"/>
<rect x="194.1" y="137.0" width="4.3" height="4.3" fill="#ef2c11" stroke="#d7270f"/>
<rect x="141.1" y="172.8" width="4.3" height="4.3" fill="#f28c10" stroke="#d97e0e"/>
<rect x="191.6" y="125.0" width="4.3" height="4.3" fill="#f03010" stroke="#d82b0e"/>
<rect x="60.8" y="212.7" width="4.3" height="4.3" fill="#a3a36a" stroke="#92925f"/>
<rect x="135.8" y="127.2" width="4.3" height="4.3" fill="#f29310" stroke="#d9840e"/>
<rect x="200.3" y="108.2" width="4.3" height="4.3" fill="#ef2411" stroke="#d7200f"/>
<rect x="93.1" y="135.9" width="4.3" height="4.3" fill="#f6cd03" stroke="#ddb802"/>
<rect x="215.1" y="74.9" width="4.3" height="4.3" fill="#ed1b11" stroke="#d5180f"/>
<rect x="153.3" y="122.9" width="4.3" height="4.3" fill="#f17d10" stroke="#d8700e"/>
<rect x="97.5" y="196.4" width="4.3" height="4.3" fill="#f4c404" stroke="#dbb003"/>
<rect x="89.3" y="152.4" width="4.3" height="4.3" fill="#f7d502" stroke="#debf01"/>
<rect x="221.6" y="86.2" width="4.3" height="4.3" fill="#ec1a11" stroke="#d4170f"/>
<rect x="63.3" y="192.1" width="4.3" height="4.3" fill="#f3f00f" stroke="#dad80d"/>
<rect x="74.0" y="184.2" width="4.3" height="4.3" fill="#f9ea05" stroke="#e0d204"/>
<rect x="60.3" y="189.9" width="4.3" height="4.3" fill="#8e8e85" stroke="#7f7f77"/>
<rect x="208.5" y="120.2" width="4.3" height="4.3" fill="#ee1d12" stroke="#d61a10"/>
<rect x="124.6" y="203.4" width="4.3" height="4.3" fill="#f29f0f" stroke="#d98f0d"/>
<rect x="201.9" y="96.2" width="4.3" height="4.3" fill="#ee2212" stroke="#d61e10"/>
<rect x="66.2" y="181.9" width="4.3" height="4.3" fill="#f8f109" stroke="#dfd808"/>
<rect x="75.6" y="212.1" width="4.3" height="4.3" fill="#f9e904" stroke="#e0d103"/>
<rect x="138.2" y="184.9" width="4.3" height="4.3" fill="#f29010" stroke="#d9810e"/>
<rect x="104.8" y="193.1" width="4.3" height="4.3" fill="#f3ba07" stroke="#daa706"/>
<rect x="236.0" y="79.1" width="4.3" height="4.3" fill="#eb1610" stroke="#d3130e"/>
<rect x="90.5" y="182.6" width="4.3" height="4.3" fill="#f7d202" stroke="#debd01"/>
<rect x="196.2" y="134.7" width="4.3" height="4.3" fill="#ef2911" stroke="#d7240f"/>
<rect x="241.3" y="66.6" width="4.3" height="4.3" fill="#eb1510" stroke="#d3120e"/>
<rect x="90.1" y="211.7" width="4.3" height="4.3" fill="#f7d302" stroke="#debd01"/>
<rect x="74.1" y="152.1" width="4.3" height="4.3" fill="#f9ea05" stroke="#e0d204"/>
<rect x="167.8" y="170.3" width="4.3" height="4.3" fill="#f16110" stroke="#d8570e"/>
<rect x="109.4" y="168.0" width="4.3" height="4.3" fill="#f3b30a" stroke="#daa109"/>
<rect x="196.2" y="117.4" width="4.3" height="4.3" fill="#ef2911" stroke="#d7240f"/>
<rect x="243.7" y="66.4" width="4.3" height="4.3" fill="#ea1410" stroke="#d2120e"/>
<rect x="75.6" y="215.7" width="4.3" height="4.3" fill="#f9e904" stroke="#e0d103"/>
<rect x="184.1" y="114.8" width="4.3" height="4.3" fill="#f03d10" stroke="#d8360e"/>
<rect x="137.4" y="189.8" width="4.3" height="4.3" fill="#f29110" stroke="#d9820e"/>
<rect x="85.7" y="194.0" width="4.3" height="4.3" fill="#f9dd01" stroke="#e0c600"/>
<rect x="201.6" y="115.4" width="4.3" height="4.3" fill="#ee2212" stroke="#d61e10"/>
<rect x="190.4" y="88.6" width="4.3" height="4.3" fill="#f03210" stroke="#d82d0e"/>
<rect x="221.3" y="90.3" width="4.3" height="4.3" fill="#ec1a11" stroke="#d4170f"/>
<rect x="111.7" y="151.9" width="4.3" height="4.3" fill="#f3b00b" stroke="#da9e09"/>
<rect x="53.4" y="222.1" width="4.3" height="4.3" fill="#2020da" stroke="#1c1cc4"/>
<rect x="110.0" y="180.0" width="4.3" height="4.3" fill="#f3b20a" stroke="#daa009"/>
<rect x="145.9" y="149.0" width="4.3" height="4.3" fill="#f18610" stroke="#d8780e"/>
<rect x="161.2" y="147.1" width="4.3" height="4.3" fill="#f16f10" stroke="#d8630e"/>
<rect x="134.4" y="159.8" width="4.3" height="4.3" fill="#f29410" stroke="#d9850e"/>
<rect x="77.6" y="215.5" width="4.3" height="4.3" fill="#f9e703" stroke="#e0cf02"/>
<rect x="109.3" y="156.6" width="4.3" height="4.3" fill="#f3b30a" stroke="#daa109"/>
<rect x="71.3" y="200.4" width="4.3" height="4.3" fill="#f9ed06" stroke="#e0d505"/>
<rect x="151.0" y="187.8" width="4.3" height="4.3" fill="#f18010" stroke="#d8730e"/>
<rect x="131.6" y="150.8" width="4.3" height="4.3" fill="#f29810" stroke="#d9880e"/>
<rect x="117.6" y="196.8" width="4.3" height="4.3" fill="#f2a80d" stroke="#d9970b"/>
<rect x="211.9" y="110.1" width="4.3" height="4.3" fill="#ed1c12" stroke="#d51910"/>
<rect x="133.7" y="126.4" width="4.3" height="4.3" fill="#f29510" stroke="#d9860e"/>
<rect x="118.2" y="142.1" width="4.3" height="4.3" fill="#f2a70e" stroke="#d9960c"/>
<rect x="232.3" y="72.1" width="4.3" height="4.3" fill="#eb1710" stroke="#d3140e"/>
<rect x="150.1" y="153.3" width="4.3" height="4.3" fill="#f18110" stroke="#d8740e"/>
<rect x="173.0" y="103.1" width="4.3" height="4.3" fill="#f15410" stroke="#d84b0e"/>
<rect x="89.1" y="224.4" width="4.3" height="4.3" fill="#f7d502" stroke="#debf01"/>
<rect x="114.4" y="185.0" width="4.3" height="4.3" fill="#f2ac0c" stroke="#d99a0a"/>
<rect x="124.7" y="124.1" width="4.3" height="4.3" fill="#f29f0f" stroke="#d98f0d"/>
<rect x="116.9" y="151.3" width="4.3" height="4.3" fill="#f2a90d" stroke="#d9980b"/>
<rect x="127.6" y="149.8" width="4.3" height="4.3" fill="#f29c0f" stroke="#d98c0d"/>
<rect x="139.7" y="175.3" width="4.3" height="4.3" fill="#f28e10" stroke="#d97f0e"/>
<rect x="130.5" y="187.2" width="4.3" height="4.3" fill="#f29910" stroke="#d9890e"/>
<rect x="187.2" y="110.2" width="4.3" height="4.3" fill="#f03710" stroke="#d8310e"/>
<rect x="104.4" y="174.9" width="4.3" height="4.3" fill="#f3ba07" stroke="#daa706"/>
<rect x="60.5" y="192.4" width="4.3" height="4.3" fill="#96967a" stroke="#87876d"/>
<rect x="81.3" y="183.0" width="4.3" height="4.3" fill="#fae401" stroke="#e1cd00"/>
<rect x="181.0" y="105.8" width="4.3" height="4.3" fill="#f14310" stroke="#d83c0e"/>
<rect x="126.1" y="148.0" width="4.3" height="4.3" fill="#f29e0f" stroke="#d98e0d"/>
<rect x="247.1" y="63.6" width="4.3" height="4.3" fill="#ea130f" stroke="#d2110d"/>
<rect x="149.8" y="151.1" width="4.3" height="4.3" fill="#f18210" stroke="#d8750e"/>
<rect x="61.1" y="206.6" width="4.3" height="4.3" fill="#b0b05a" stroke="#9e9e51"/>
<rect x="194.8" y="118.3" width="4.3" height="4.3" fill="#ef2b11" stroke="#d7260f"/>
<rect x="111.5" y="195.7" width="4.3" height="4.3" fill="#f3b00b" stroke="#da9e09"/>
<rect x="98.5" y="203.8" width="4.3" height="4.3" fill="#f4c205" stroke="#dbae04"/>
<rect x="218.8" y="109.3" width="4.3" height="4.3" fill="#ed1a11" stroke="#d5170f"/>
<rect x="155.1" y="166.6" width="4.3" height="4.3" fill="#f17b10" stroke="#d86e0e"/>
<rect x="209.0" y="122.8" width="4.3" height="4.3" fill="#ee1d12" stroke="#d61a10"/>
<rect x="68.2" y="176.8" width="4.3" height="4.3" fill="#f8f008" stroke="#dfd807"/>
<rect x="69.0" y="212.1" width="4.3" height="4.3" fill="#f9ef07" stroke="#e0d706"/>
<rect x="130.1" y="191.4" width="4.3" height="4.3" fill="#f29910" stroke="#d9890e"/>
<rect x="103.9" y="175.0" width="4.3" height="4.3" fill="#f3bb07" stroke="#daa806"/>
<rect x="217.5" y="118.2" width="4.3" height="4.3" fill="#ed1b11" stroke="#d5180f"/>
<rect x="155.5" y="125.7" width="4.3" height="4.3" fill="#f17a10" stroke="#d86d0e"/>
<rect x="77.8" y="192.3" width="4.3" height="4.3" fill="#f9e703" stroke="#e0cf02"/>
<rect x="82.8" y="179.1" width="4.3" height="4.3" fill="#fae200" stroke="#e1cb00"/>
<rect x="80.9" y="206.4" width="4.3" height="4.3" fill="#fae401" stroke="#e1cd00"/>
<rect x="81.2" y="170.3" width="4.3" height="4.3" fill="#fae401" stroke="#e1cd00"/>
<rect x="36.1" y="242.5" width="4.3" height="4.3" fill="#1f1fda" stroke="#1b1bc4"/>
<rect x="137.8" y="156.3" width="4.3" height="4.3" fill="#f29010" stroke="#d9810e"/>
<rect x="119.1" y="137.5" width="4.3" height="4.3" fill="#f2a60e" stroke="#d9950c"/>
<rect x="122.3" y="188.7" width="4.3" height="4.3" fill="#f2a20e" stroke="#d9910c"/>
<rect x="113.4" y="215.0" width="4.3" height="4.3" fill="#f3ae0b" stroke="#da9c09"/>
<rect x="145.6" y="160.7" width="4.3" height="4.3" fill="#f18710" stroke="#d8790e"/>
<rect x="190.5" y="98.0" width="4.3" height="4.3" fill="#f03210" stroke="#d82d0e"/>
<rect x="115.4" y="141.8" width="4.3" height="4.3" fill="#f2ab0c" stroke="#d9990a"/>
<rect x="89.0" y="200.4" width="4.3" height="4.3" fill="#f8d602" stroke="#dfc001"/>
<rect x="152.7" y="138.0" width="4.3" height="4.3" fill="#f17e10" stroke="#d8710e"/>
<rect x="182.9" y="104.6" width="4.3" height="4.3" fill="#f14010" stroke="#d8390e"/>
<rect x="96.2" y="157.3" width="4.3" height="4.3" fill="#f5c704" stroke="#dcb303"/>
<rect x="79.5" y="179.9" width="4.3" height="4.3" fill="#fae502" stroke="#e1ce01"/>
<rect x="167.2" y="129.1" width="4.3" height="4.3" fill="#f16210" stroke="#d8580e"/>
<rect x="70.0" y="204.5" width="4.3" height="4.3" fill="#f9ee07" stroke="#e0d606"/>
<rect x="60.9" y="169.4" width="4.3" height="4.3" fill="#a9a963" stroke="#989859"/>
<rect x="165.2" y="135.6" width="4.3" height="4.3" fill="#f16710" stroke="#d85c0e"/>
<rect x="65.8" y="171.3" width="4.3" height="4.3" fill="#f8f209" stroke="#dfd908"/>
<rect x="205.3" y="93.3" width="4.3" height="4.3" fill="#ee1e12" stroke="#d61b10"/>
<rect x="67.5" y="206.8" width="4.3" height="4.3" fill="#f8f008" stroke="#dfd807"/>
<rect x="125.2" y="221.4" width="4.3" height="4.3" fill="#f29f0f" stroke="#d98f0d"/>
<rect x="164.3" y="145.4" width="4.3" height="4.3" fill="#f16810" stroke="#d85d0e"/>
<rect x="84.9" y="222.5" width="4.3" height="4.3" fill="#f9de00" stroke="#e0c700"/>
<rect x="61.5" y="209.5" width="4.3" height="4.3" fill="#c1c145" stroke="#adad3e"/>
<rect x="117.0" y="191.9" width="4.3" height="4.3" fill="#f2a80d" stroke="#d9970b"/>
<rect x="109.9" y="152.6" width="4.3" height="4.3" fill="#f3b20a" stroke="#daa009"/>
<rect x="147.8" y="127.7" width="4.3" height="4.3" fill="#f18410" stroke="#d8760e"/>
<rect x="165.4" y="138.6" width="4.3" height="4.3" fill="#f16610" stroke="#d85b0e"/>
<rect x="143.6" y="211.9" width="4.3" height="4.3" fill="#f28910" stroke="#d97b0e"/>
<rect x="85.0" y="208.2" width="4.3" height="4.3" fill="#f9de01" stroke="#e0c700"/>
<rect x="139.1" y="131.5" width="4.3" height="4.3" fill="#f28f10" stroke="#d9800e"/>
<rect x="98.1" y="223.5" width="4.3" height="4.3" fill="#f4c304" stroke="#dbaf03"/>
<rect x="180.8" y="127.7" width="4.3" height="4.3" fill="#f14410" stroke="#d83d0e"/>
<rect x="137.5" y="195.0" width="4.3" height="4.3" fill="#f29110" stroke="#d9820e"/>
<rect x="149.0" y="130.2" width="4.3" height="4.3" fill="#f18210" stroke="#d8750e"/>
<rect x="58.3" y="192.2" width="4.3" height="4.3" fill="#3939ca" stroke="#3333b5"/>
<rect x="137.5" y="151.2" width="4.3" height="4.3" fill="#f29110" stroke="#d9820e"/>
<rect x="76.6" y="203.3" width="4.3" height="4.3" fill="#f9e803" stroke="#e0d002"/>
<rect x="109.8" y="128.7" width="4.3" height="4.3" fill="#f3b30a" stroke="#daa109"/>
<rect x="105.1" y="174.2" width="4.3" height="4.3" fill="#f3b908" stroke="#daa607"/>
<rect x="56.1" y="195.4" width="4.3" height="4.3" fill="#2020da" stroke="#1c1cc4"/>
<rect x="76.3" y="180.7" width="4.3" height="4.3" fill="#f9e803" stroke="#e0d002"/>
<rect x="155.3" y="162.2" width="4.3" height="4.3" fill="#f17b10" stroke="#d86e0e"/>
<rect x="65.1" y="213.3" width="4.3" height="4.3" fill="#f8f209" stroke="#dfd908"/>
<rect x="104.8" y="142.0" width="4.3" height="4.3" fill="#f3ba07" stroke="#daa706"/>
<rect x="79.2" y="161.6" width="4.3" height="4.3" fill="#fae602" stroke="#e1cf01"/>
<rect x="161.1" y="171.0" width="4.3" height="4.3" fill="#f16f10" stroke="#d8630e"/>
<rect x="166.5" y="153.3" width="4.3" height="4.3" fill="#f16410" stroke="#d85a0e"/>
<rect x="168.1" y="153.4" width="4.3" height="4.3" fill="#f16010" stroke="#d8560e"/>
<rect x="165.3" y="120.8" width="4.3" height="4.3" fill="#f16610" stroke="#d85b0e"/>
<rect x="96.4" y="136.0" width="4.3" height="4.3" fill="#f4c604" stroke="#dbb203"/>
<rect x="76.4" y="161.4" width="4.3" height="4.3" fill="#f9e803" stroke="#e0d002"/>
<rect x="135.5" y="157.8" width="4.3" height="4.3" fill="#f29310" stroke="#d9840e"/>
<rect x="141.7" y="141.6" width="4.3" height="4.3" fill="#f28b10" stroke="#d97d0e"/>
<rect x="112.8" y="149.5" width="4.3" height="4.3" fill="#f3ae0b" stroke="#da9c09"/>
<rect x="192.6" y="91.8" width="4.3" height="4.3" fill="#f02f10" stroke="#d82a0e"/>
<rect x="142.7" y="192.0" width="4.3" height="4.3" fill="#f28a10" stroke="#d97c0e"/>
<rect x="149.1" y="167.1" width="4.3" height="4.3" fill="#f18210" stroke="#d8750e"/>
<rect x="131.7" y="134.5" width="4.3" height="4.3" fill="#f29810" stroke="#d9880e"/>
<rect x="102.6" y="186.7" width="4.3" height="4.3" fill="#f4bd06" stroke="#dbaa05"/>
<rect x="156.8" y="123.0" width="4.3" height="4.3" fill="#f17810" stroke="#d86c0e"/>
<rect x="195.0" y="113.5" width="4.3" height="4.3" fill="#ef2b11" stroke="#d7260f"/>
<rect x="147.6" y="176.8" width="4.3" height="4.3" fill="#f18410" stroke="#d8760e"/>
<rect x="90.3" y="151.3" width="4.3" height="4.3" fill="#f7d302" stroke="#debd01"/>
<rect x="192.4" y="117.7" width="4.3" height="4.3" fill="#f02f10" stroke="#d82a0e"/>
<rect x="96.4" y="196.8" width="4.3" height="4.3" fill="#f4c604" stroke="#dbb203"/>
<rect x="143.6" y="187.6" width="4.3" height="4.3" fill="#f28910" stroke="#d97b0e"/>
<rect x="80.5" y="181.8" width="4.3" height="4.3" fill="#fae401" stroke="#e1cd00"/>
<rect x="92.4" y="160.8" width="4.3" height="4.3" fill="#f6cf03" stroke="#ddba02"/>
<rect x="123.7" y="209.1" width="4.3" height="4.3" fill="#f2a10f" stroke="#d9900d"/>
<rect x="93.6" y="206.7" width="4.3" height="4.3" fill="#f6cc03" stroke="#ddb702"/>
<rect x="119.9" y="205.8" width="4.3" height="4.3" fill="#f2a50e" stroke="#d9940c"/>
<rect x="128.2" y="126.1" width="4.3" height="4.3" fill="#f29b0f" stroke="#d98b0d"/>
<rect x="103.7" y="172.4" width="4.3" height="4.3" fill="#f3bb07" stroke="#daa806"/>
<rect x="117.6" y="204.1" width="4.3" height="4.3" fill="#f2a80d" stroke="#d9970b"/>
<rect x="199.9" y="114.1" width="4.3" height="4.3" fill="#ef2411" stroke="#d7200f"/>
<rect x="243.2" y="65.5" width="4.3" height="4.3" fill="#ea1410" stroke="#d2120e"/>
<rect x="166.1" y="144.5" width="4.3" height="4.3" fill="#f16510" stroke="#d85a0e"/>
<rect x="51.4" y="214.6" width="4.3" height="4.3" fill="#2020da" stroke="#1c1cc4"/>
<rect x="95.7" y="169.7" width="4.3" height="4.3" fill="#f5c804" stroke="#dcb403"/>
<rect x="186.0" y="119.4" width="4.3" height="4.3" fill="#f03a10" stroke="#d8340e"/>
<rect x="52.3" y="171.4" width="4.3" height="4.3" fill="#2020da" stroke="#1c1cc4"/>
<rect x="143.5" y="179.5" width="4.3" height="4.3" fill="#f28910" stroke="#d97b0e"/>
<rect x="210.3" y="95.0" width="4.3" height="4.3" fill="#ed1d12" stroke="#d51a10"/>
<rect x="194.7" y="124.8" width="4.3" height="4.3" fill="#ef2c11" stroke="#d7270f"/>
<rect x="123.4" y="200.6" width="4.3" height="4.3" fill="#f2a10f" stroke="#d9900d"/>
<rect x="207.8" y="119.1" width="4.3" height="4.3" fill="#ee1d12" stroke="#d61a10"/>
<rect x="103.7" y="150.4" width="4.3" height="4.3" fill="#f3bb07" stroke="#daa806"/>
<rect x="154.9" y="130.6" width="4.3" height="4.3" fill="#f17b10" stroke="#d86e0e"/>
<rect x="186.3" y="112.7" width="4.3" height="4.3" fill="#f03910" stroke="#d8330e"/>
<rect x="195.0" y="119.2" width="4.3" height="4.3" fill="#ef2b11" stroke="#d7260f"/>
<rect x="195.8" y="92.5" width="4.3" height="4.3" fill="#ef2a11" stroke="#d7250f"/>
<rect x="165.9" y="127.3" width="4.3" height="4.3" fill="#f16510" stroke="#d85a0e"/>
<rect x="169.6" y="121.2" width="4.3" height="4.3" fill="#f15c10" stroke="#d8520e"/>
<rect x="174.2" y="133.8" width="4.3" height="4.3" fill="#f15210" stroke="#d8490e"/>
<rect x="55.5" y="212.2" width="4.3" height="4.3" fill="#2020da" stroke="#1c1cc4"/>
<rect x="83.4" y="165.1" width="4.3" height="4.3" fill="#fae100" stroke="#e1ca00"/>
<rect x="192.1" y="127.9" width="4.3" height="4.3" fill="#f02f10" stroke="#d82a0e"/>
<rect x="191.1" y="139.1" width="4.3" height="4.3" fill="#f03110" stroke="#d82c0e"/>
<rect x="186.4" y="149.9" width="4.3" height="4.3" fill="#f03910" stroke="#d8330e"/>
<rect x="91.1" y="160.0" width="4.3" height="4.3" fill="#f7d102" stroke="#debc01"/>
<rect x="68.8" y="210.4" width="4.3" height="4.3" fill="#f9ef07" stroke="#e0d706"/>
<rect x="116.9" y="217.7" width="4.3" height="4.3" fill="#f2a90d" stroke="#d9980b"/>
<rect x="54.2" y="230.0" width="4.3" height="4.3" fill="#2020da" stroke="#1c1cc4"/>
<rect x="117.0" y="205.6" width="4.3" height="4.3" fill="#f2a90d" stroke="#d9980b"/>
<rect x="116.6" y="194.9" width="4.3" height="4.3" fill="#f2a90d" stroke="#d9980b"/>
<rect x="180.4" y="150.2" width="4.3" height="4.3" fill="#f14410" stroke="#d83d0e"/>
<rect x="93.4" y="205.2" width="4.3" height="4.3" fill="#f6cc03" stroke="#ddb702"/>
<rect x="151.8" y="124.6" width="4.3" height="4.3" fill="#f17f10" stroke="#d8720e"/>
<rect x="59.7" y="187.2" width="4.3" height="4.3" fill="#78789f" stroke="#6c6c8f"/>
<rect x="170.0" y="137.1" width="4.3" height="4.3" fill="#f15b10" stroke="#d8510e"/>
<rect x="74.0" y="218.5" width="4.3" height="4.3" fill="#f9ea05" stroke="#e0d204"/>
<rect x="143.0" y="145.5" width="4.3" height="4.3" fill="#f28a10" stroke="#d97c0e"/>
<rect x="124.9" y="211.6" width="4.3" height="4.3" fill="#f29f0f" stroke="#d98f0d"/>
<rect x="129.0" y="218.2" width="4.3" height="4.3" fill="#f29b0f" stroke="#d98b0d"/>
<rect x="58.4" y="168.5" width="4.3" height="4.3" fill="#3c3cc8" stroke="#3636b4"/>
<rect x="215.9" y="103.5" width="4.3" height="4.3" fill="#ed1b11" stroke="#d5180f"/>
<rect x="48.3" y="217.6" width="4.3" height="4.3" fill="#2020da" stroke="#1c1cc4"/>
<rect x="121.2" y="199.5" width="4.3" height="4.3" fill="#f2a30e" stroke="#d9920c"/>
<rect x="86.5" y="167.2" width="4.3" height="4.3" fill="#f9db01" stroke="#e0c500"/>
<rect x="54.0" y="185.0" width="4.3" height="4.3" fill="#2020da" stroke="#1c1cc4"/>
<rect x="192.4" y="134.5" width="4.3" height="4.3" fill="#f02f10" stroke="#d82a0e"/>
<rect x="107.8" y="152.4" width="4.3" height="4.3" fill="#f3b509" stroke="#daa208"/>
<rect x="106.9" y="216.9" width="4.3" height="4.3" fill="#f3b708" stroke="#daa407"/>
<rect x="157.6" y="114.9" width="4.3" height="4.3" fill="#f17610" stroke="#d86a0e"/>
<rect x="94.7" y="211.4" width="4.3" height="4.3" fill="#f5ca03" stroke="#dcb502"/>
<rect x="189.6" y="128.1" width="4.3" height="4.3" fill="#f03310" stroke="#d82d0e"/>
<rect x="81.3" y="187.9" width="4.3" height="4.3" fill="#fae401" stroke="#e1cd00"/>
<rect x="170.3" y="138.9" width="4.3" height="4.3" fill="#f15b10" stroke="#d8510e"/>
<rect x="67.4" y="164.2" width="4.3" height="4.3" fill="#f8f008" stroke="#dfd807"/>
<rect x="148.0" y="166.5" width="4.3" height="4.3" fill="#f18410" stroke="#d8760e"/>
<rect x="68.7" y="180.4" width="4.3" height="4.3" fill="#f9ef07" stroke="#e0d706"/>
<rect x="190.5" y="133.0" width="4.3" height="4.3" fill="#f03110" stroke="#d82c0e"/>
<rect x="229.2" y="90.5" width="4.3" height="4.3" fill="#ec1810" stroke="#d4150e"/>
<rect x="131.3" y="214.5" width="4.3" height="4.3" fill="#f29810" stroke="#d9880e"/>
<rect x="89.7" y="177.4" width="4.3" height="4.3" fill="#f7d402" stroke="#debe01"/>
<rect x="90.7" y="219.2" width="4.3" height="4.3" fill="#f7d202" stroke="#debd01"/>
<rect x="131.9" y="133.9" width="4.3" height="4.3" fill="#f29710" stroke="#d9870e"/>
<rect x="89.9" y="204.6" width="4.3" height="4.3" fill="#f7d402" stroke="#debe01"/>
<rect x="84.6" y="206.5" width="4.3" height="4.3" fill="#f9df00" stroke="#e0c800"/>
<rect x="157.8" y="126.1" width="4.3" height="4.3" fill="#f17610" stroke="#d86a0e"/>
<rect x="117.6" y="186.8" width="4.3" height="4.3" fill="#f2a80d" stroke="#d9970b"/>
<rect x="94.3" y="154.3" width="4.3" height="4.3" fill="#f5cb03" stroke="#dcb602"/>
<rect x="200.5" y="112.9" width="4.3" height="4.3" fill="#ef2411" stroke="#d7200f"/>
<rect x="171.9" y="103.8" width="4.3" height="4.3" fill="#f15710" stroke="#d84e0e"/>
<rect x="215.9" y="81.2" width="4.3" height="4.3" fill="#ed1b11" stroke="#d5180f"/>
<rect x="64.0" y="194.9" width="4.3" height="4.3" fill="#f8f30a" stroke="#dfda09"/>
<rect x="46.4" y="208.2" width="4.3" height="4.3" fill="#1f1fda" stroke="#1b1bc4"/>
<rect x="130.6" y="114.6" width="4.3" height="4.3" fill="#f29910" stroke="#d9890e"/>
<rect x="245.9" y="62.6" width="4.3" height="4.3" fill="#ea140f" stroke="#d2120d"/>
<rect x="100.1" y="193.4" width="4.3" height="4.3" fill="#f4c005" stroke="#dbac04"/>
<rect x="197.6" y="127.8" width="4.3" height="4.3" fill="#ef2811" stroke="#d7240f"/>
<rect x="60.4" y="218.4" width="4.3" height="4.3" fill="#94947d" stroke="#858570"/>
<rect x="218.6" y="79.3" width="4.3" height="4.3" fill="#ed1a11" stroke="#d5170f"/>
<rect x="44.2" y="212.0" width="4.3" height="4.3" fill="#1f1fda" stroke="#1b1bc4"/>
<rect x="158.1" y="181.3" width="4.3" height="4.3" fill="#f17510" stroke="#d8690e"/>
<rect x="143.3" y="126.5" width="4.3" height="4.3" fill="#f28910" stroke="#d97b0e"/>
<rect x="227.3" y="91.0" width="4.3" height="4.3" fill="#ec1811" stroke="#d4150f"/>
<rect x="42.0" y="234.6" width="4.3" height="4.3" fill="#1f1fda" stroke="#1b1bc4"/>
<rect x="51.3" y="184.5" width="4.3" height="4.3" fill="#2020da" stroke="#1c1cc4"/>
<rect x="130.8" y="219.6" width="4.3" height="4.3" fill="#f29910" stroke="#d9890e"/>
<rect x="129.7" y="188.1" width="4.3" height="4.3" fill="#f29a10" stroke="#d98a0e"/>
<rect x="90.5" y="152.0" width="4.3" height="4.3" fill="#f7d202" stroke="#debd01"/>
<rect x="126.1" y="169.6" width="4.3" height="4.3" fill="#f29e0f" stroke="#d98e0d"/>
<rect x="116.4" y="186.7" width="4.3" height="4.3" fill="#f2a90d" stroke="#d9980b"/>
<rect x="197.1" y="105.4" width="4.3" height="4.3" fill="#ef2811" stroke="#d7240f"/>
<rect x="174.5" y="139.5" width="4.3" height="4.3" fill="#f15110" stroke="#d8480e"/>
<rect x="124.4" y="183.4" width="4.3" height="4.3" fill="#f2a00f" stroke="#d9900d"/>
<rect x="102.7" y="174.4" width="4.3" height="4.3" fill="#f4bd06" stroke="#dbaa05"/>
<rect x="151.9" y="146.6" width="4.3" height="4.3" fill="#f17f10" stroke="#d8720e"/>
<rect x="157.1" y="116.2" width="4.3" height="4.3" fill="#f17710" stroke="#d86b0e"/>
<rect x="107.9" y="146.4" width="4.3" height="4.3" fill="#f3b509" stroke="#daa208"/>
<rect x="205.9" y="91.8" width="4.3" height="4.3" fill="#ee1e12" stroke="#d61b10"/>
<rect x="144.8" y="177.2" width="4.3" height="4.3" fill="#f18810" stroke="#d87a0e"/>
<rect x="153.4" y="152.5" width="4.3" height="4.3" fill="#f17d10" stroke="#d8700e"/>
<rect x="101.9" y="152.5" width="4.3" height="4.3" fill="#f4be06" stroke="#dbab05"/>
<rect x="176.5" y="124.4" width="4.3" height="4.3" fill="#f14c10" stroke="#d8440e"/>
<rect x="115.4" y="186.9" width="4.3" height="4.3" fill="#f2ab0c" stroke="#d9990a"/>
<rect x="182.2" y="104.6" width="4.3" height="4.3" fill="#f14110" stroke="#d83a0e"/>
<rect x="164.9" y="134.4" width="4.3" height="4.3" fill="#f16710" stroke="#d85c0e"/>
<rect x="140.2" y="180.7" width="4.3" height="4.3" fill="#f28d10" stroke="#d97e0e"/>
<rect x="152.0" y="161.2" width="4.3" height="4.3" fill="#f17f10" stroke="#d8720e"/>
<rect x="137.9" y="125.6" width="4.3" height="4.3" fill="#f29010" stroke="#d9810e"/>
<rect x="108.5" y="175.7" width="4.3" height="4.3" fill="#f3b409" stroke="#daa208"/>
<rect x="145.2" y="134.5" width="4.3" height="4.3" fill="#f18710" stroke="#d8790e"/>
<rect x="135.4" y="215.4" width="4.3" height="4.3" fill="#f29310" stroke="#d9840e"/>
<rect x="136.4" y="197.1" width="4.3" height="4.3" fill="#f29210" stroke="#d9830e"/>
<rect x="120.9" y="199.9" width="4.3" height="4.3" fill="#f2a40e" stroke="#d9930c"/>
<rect x="91.8" y="175.7" width="4.3" height="4.3" fill="#f6d002" stroke="#ddbb01"/>
<rect x="95.2" y="197.3" width="4.3" height="4.3" fill="#f5c903" stroke="#dcb402"/>
<rect x="100.8" y="212.0" width="4.3" height="4.3" fill="#f4bf06" stroke="#dbab05"/>
<rect x="115.2" y="221.4" width="4.3" height="4.3" fill="#f2ab0c" stroke="#d9990a"/>
<rect x="88.7" y="145.9" width="4.3" height="4.3" fill="#f8d602" stroke="#dfc001"/>
<rect x="72.9" y="202.4" width="4.3" height="4.3" fill="#f9eb05" stroke="#e0d304"/>
<rect x="48.1" y="219.3" width="4.3" height="4.3" fill="#2020da" stroke="#1c1cc4"/>
<rect x="85.2" y="171.5" width="4.3" height="4.3" fill="#f9de01" stroke="#e0c700"/>
<rect x="189.5" y="129.9" width="4.3" height="4.3" fill="#f03310" stroke="#d82d0e"/>
<rect x="92.6" y="207.8" width="4.3" height="4.3" fill="#f6ce03" stroke="#ddb902"/>
<rect x="140.4" y="193.9" width="4.3" height="4.3" fill="#f28d10" stroke="#d97e0e"/>
<rect x="121.0" y="148.2" width="4.3" height="4.3" fill="#f2a40e" stroke="#d9930c"/>
<rect x="106.0" y="183.5" width="4.3" height="4.3" fill="#f3b808" stroke="#daa507"/>
<rect x="91.4" y="210.7" width="4.3" height="4.3" fill="#f7d102" stroke="#debc01"/>
<rect x="201.4" y="124.5" width="4.3" height="4.3" fill="#ee2212" stroke="#d61e10"/>
<rect x="82.8" y="184.1" width="4.3" height="4.3" fill="#fae200" stroke="#e1cb00"/>
<rect x="207.6" y="112.9" width="4.3" height="4.3" fill="#ee1d12" stroke="#d61a10"/>
<rect x="127.3" y="169.1" width="4.3" height="4.3" fill="#f29c0f" stroke="#d98c0d"/>
<rect x="150.8" y="127.8" width="4.3" height="4.3" fill="#f18010" stroke="#d8730e"/>
<rect x="211.1" y="85.5" width="4.3" height="4.3" fill="#ed1c12" stroke="#d51910"/>
<rect x="182.3" y="123.1" width="4.3" height="4.3" fill="#f14110" stroke="#d83a0e"/>
<rect x="56.4" y="214.3" width="4.3" height="4.3" fill="#2020da" stroke="#1c1cc4"/>
<rect x="232.3" y="75.7" width="4.3" height="4.3" fill="#eb1710" stroke="#d3140e"/>
<rect x="171.6" y="119.0" width="4.3" height="4.3" fill="#f15810" stroke="#d84f0e"/>
<rect x="75.4" y="205.1" width="4.3" height="4.3" fill="#f9e904" stroke="#e0d103"/>
<rect x="140.5" y="179.5" width="4.3" height="4.3" fill="#f28d10" stroke="#d97e0e"/>
<rect x="207.6" y="116.3" width="4.3" height="4.3" fill="#ee1d12" stroke="#d61a10"/>
<rect x="151.5" y="165.4" width="4.3" height="4.3" fill="#f17f10" stroke="#d8720e"/>
<rect x="162.2" y="115.4" width="4.3" height="4.3" fill="#f16d10" stroke="#d8620e"/>
<rect x="85.6" y="190.2" width="4.3" height="4.3" fill="#f9dd01" stroke="#e0c600"/>
<rect x="201.5" y="99.7" width="4.3" height="4.3" fill="#ee2212" stroke="#d61e10"/>
<rect x="108.2" y="177.6" width="4.3" height="4.3" fill="#f3b509" stroke="#daa208"/>
<rect x="195.7" y="80.9" width="4.3" height="4.3" fill="#ef2a11" stroke="#d7250f"/>
<rect x="194.1" y="122.0" width="4.3" height="4.3" fill="#ef2c11" stroke="#d7270f"/>
<rect x="188.5" y="99.8" width="4.3" height="4.3" fill="#f03510" stroke="#d82f0e"/>
<rect x="189.6" y="129.2" width="4.3" height="4.3" fill="#f03310" stroke="#d82d0e"/>
<rect x="125.2" y="178.6" width="4.3" height="4.3" fill="#f29f0f" stroke="#d98f0d"/>
<rect x="141.5" y="211.3" width="4.3" height="4.3" fill="#f28c10" stroke="#d97e0e"/>
<rect x="82.9" y="181.3" width="4.3" height="4.3" fill="#fae200" stroke="#e1cb00"/>
<rect x="62.4" y="201.3" width="4.3" height="4.3" fill="#dcda28" stroke="#c6c424"/>
<rect x="181.5" y="100.2" width="4.3" height="4.3" fill="#f14210" stroke="#d83b0e"/>
<rect x="159.3" y="162.6" width="4.3" height="4.3" fill="#f17310" stroke="#d8670e"/>
<rect x="156.1" y="120.2" width="4.3" height="4.3" fill="#f17a10" stroke="#d86d0e"/>
<rect x="188.6" y="97.8" width="4.3" height="4.3" fill="#f03510" stroke="#d82f0e"/>
<rect x="95.7" y="191.1" width="4.3" height="4.3" fill="#f5c804" stroke="#dcb403"/>
<rect x="204.4" y="109.3" width="4.3" height="4.3" fill="#ee1e12" stroke="#d61b10"/>
<rect x="144.6" y="175.5" width="4.3" height="4.3" fill="#f18810" stroke="#d87a0e"/>
<rect x="67.4" y="162.8" width="4.3" height="4.3" fill="#f8f008" stroke="#dfd807"/>
<rect x="109.1" y="201.2" width="4.3" height="4.3" fill="#f3b409" stroke="#daa208"/>
<rect x="92.7" y="213.0" width="4.3" height="4.3" fill="#f6ce03" stroke="#ddb902"/>
<rect x="199.6" y="129.0" width="4.3" height="4.3" fill="#ef2511" stroke="#d7210f"/>
<rect x="181.1" y="141.2" width="4.3" height="4.3" fill="#f14310" stroke="#d83c0e"/>
<rect x="177.1" y="99.2" width="4.3" height="4.3" fill="#f14a10" stroke="#d8420e"/>
<rect x="106.1" y="213.8" width="4.3" height="4.3" fill="#f3b808" stroke="#daa507"/>
<rect x="188.3" y="130.3" width="4.3" height="4.3" fill="#f03510" stroke="#d82f0e"/>
<rect x="143.1" y="174.9" width="4.3" height="4.3" fill="#f28a10" stroke="#d97c0e"/>
<rect x="168.5" y="118.4" width="4.3" height="4.3" fill="#f15f10" stroke="#d8550e"/>
<rect x="114.6" y="191.0" width="4.3" height="4.3" fill="#f2ac0c" stroke="#d99a0a"/>
<rect x="78.5" y="208.3" width="4.3" height="4.3" fill="#fae602" stroke="#e1cf01"/>
<rect x="129.3" y="185.1" width="4.3" height="4.3" fill="#f29a0f" stroke="#d98a0d"/>
<rect x="198.3" y="94.1" width="4.3" height="4.3" fill="#ef2711" stroke="#d7230f"/>
<rect x="203.3" y="113.2" width="4.3" height="4.3" fill="#ee2012" stroke="#d61c10"/>
<rect x="144.0" y="186.7" width="4.3" height="4.3" fill="#f28910" stroke="#d97b0e"/>
<rect x="124.8" y="215.2" width="4.3" height="4.3" fill="#f29f0f" stroke="#d98f0d"/>
<rect x="66.2" y="216.5" width="4.3" height="4.3" fill="#f8f109" stroke="#dfd808"/>
<rect x="148.9" y="120.5" width="4.3" height="4.3" fill="#f18310" stroke="#d8750e"/>
<rect x="68.7" y="197.1" width="4.3" height="4.3" fill="#f9ef07" stroke="#e0d706"/>
<rect x="48.7" y="190.7" width="4.3" height="4.3" fill="#2020da" stroke="#1c1cc4"/>
<rect x="198.8" y="85.3" width="4.3" height="4.3" fill="#ef2611" stroke="#d7220f"/>
<rect x="188.2" y="91.4" width="4.3" height="4.3" fill="#f03610" stroke="#d8300e"/>
<rect x="77.4" y="214.6" width="4.3" height="4.3" fill="#f9e703" stroke="#e0cf02"/>
<rect x="110.4" y="194.1" width="4.3" height="4.3" fill="#f3b20a" stroke="#daa009"/>
<rect x="199.0" y="124.1" width="4.3" height="4.3" fill="#ef2611" stroke="#d7220f"/>
<rect x="198.9" y="117.5" width="4.3" height="4.3" fill="#ef2611" stroke="#d7220f"/>
<rect x="89.6" y="183.6" width="4.3" height="4.3" fill="#f7d402" stroke="#debe01"/>
<rect x="165.6" y="135.6" width="4.3" height="4.3" fill="#f16610" stroke="#d85b0e"/>
<rect x="95.6" y="201.9" width="4.3" height="4.3" fill="#f5c804" stroke="#dcb403"/>
<rect x="117.8" y="164.1" width="4.3" height="4.3" fill="#f2a70e" stroke="#d9960c"/>
<rect x="199.9" y="115.5" width="4.3" height="4.3" fill="#ef2411" stroke="#d7200f"/>
<rect x="208.4" y="89.5" width="4.3" height="4.3" fill="#ee1d12" stroke="#d61a10"/>
<rect x="189.6" y="101.1" width="4.3" height="4.3" fill="#f03310" stroke="#d82d0e"/>
<rect x="102.6" y="222.9" width="4.3" height="4.3" fill="#f4bd06" stroke="#dbaa05"/>
<rect x="86.0" y="195.1" width="4.3" height="4.3" fill="#f9dc01" stroke="#e0c600"/>
<rect x="98.2" y="187.4" width="4.3" height="4.3" fill="#f4c304" stroke="#dbaf03"/>
<rect x="53.5" y="207.6" width="4.3" height="4.3" fill="#2020da" stroke="#1c1cc4"/>
<rect x="111.8" y="186.6" width="4.3" height="4.3" fill="#f3b00b" stroke="#da9e09"/>
<rect x="49.9" y="196.9" width="4.3" height="4.3" fill="#2020da" stroke="#1c1cc4"/>
<rect x="193.6" y="123.8" width="4.3" height="4.3" fill="#f02d10" stroke="#d8280e"/>
<rect x="74.1" y="176.8" width="4.3" height="4.3" fill="#f9ea05" stroke="#e0d204"/>
<rect x="115.2" y="208.9" width="4.3" height="4.3" fill="#f2ab0c" stroke="#d9990a"/>
<rect x="119.1" y="178.7" width="4.3" height="4.3" fill="#f2a60e" stroke="#d9950c"/>
<rect x="135.3" y="140.8" width="4.3" height="4.3" fill="#f29310" stroke="#d9840e"/>
<rect x="132.5" y="142.6" width="4.3" height="4.3" fill="#f29710" stroke="#d9870e"/>
<rect x="221.8" y="94.5" width="4.3" height="4.3" fill="#ec1a11" stroke="#d4170f"/>
<rect x="55.7" y="217.6" width="4.3" height="4.3" fill="#2020da" stroke="#1c1cc4"/>
<rect x="104.2" y="191.9" width="4.3" height="4.3" fill="#f3ba07" stroke="#daa706"/>
<rect x="177.8" y="137.1" width="4.3" height="4.3" fill="#f14910" stroke="#d8410e"/>
<rect x="139.7" y="185.4" width="4.3" height="4.3" fill="#f28e10" stroke="#d97f0e"/>
<rect x="141.4" y="133.6" width="4.3" height="4.3" fill="#f28c10" stroke="#d97e0e"/>
<rect x="221.7" y="85.2" width="4.3" height="4.3" fill="#ec1a11" stroke="#d4170f"/>
<rect x="214.4" y="89.2" width="4.3" height="4.3" fill="#ed1c11" stroke="#d5190f"/>
<rect x="129.8" y="185.9" width="4.3" height="4.3" fill="#f29a10" stroke="#d98a0e"/>
<rect x="52.1" y="198.3" width="4.3" height="4.3" fill="#2020da" stroke="#1c1cc4"/>
<rect x="83.3" y="193.9" width="4.3" height="4.3" fill="#fae200" stroke="#e1cb00"/>
<rect x="222.4" y="88.3" width="4.3" height="4.3" fill="#ec1a11" stroke="#d4170f"/>
<rect x="139.0" y="155.6" width="4.3" height="4.3" fill="#f28f10" stroke="#d9800e"/>
<rect x="131.4" y="197.1" width="4.3" height="4.3" fill="#f29810" stroke="#d9880e"/>
<rect x="58.3" y="213.4" width="4.3" height="4.3" fill="#3838ca" stroke="#3232b5"/>
<rect x="184.8" y="146.6" width="4.3" height="4.3" fill="#f03c10" stroke="#d8360e"/>
<rect x="203.3" y="99.3" width="4.3" height="4.3" fill="#ee2012" stroke="#d61c10"/>
<rect x="127.2" y="180.9" width="4.3" height="4.3" fill="#f29d0f" stroke="#d98d0d"/>
<rect x="150.9" y="142.3" width="4.3" height="4.3" fill="#f18010" stroke="#d8730e"/>
<rect x="79.2" y="190.1" width="4.3" height="4.3" fill="#fae602" stroke="#e1cf01"/>
<rect x="110.4" y="182.7" width="4.3" height="4.3" fill="#f3b20a" stroke="#daa009"/>
<rect x="156.4" y="128.6" width="4.3" height="4.3" fill="#f17910" stroke="#d86c0e"/>
<rect x="135.5" y="154.2" width="4.3" height="4.3" fill="#f29310" stroke="#d9840e"/>
<rect x="67.6" y="180.9" width="4.3" height="4.3" fill="#f8f008" stroke="#dfd807"/>
<rect x="166.7" y="122.3" width="4.3" height="4.3" fill="#f16310" stroke="#d8590e"/>
<rect x="220.4" y="87.9" width="4.3" height="4.3" fill="#ed1a11" stroke="#d5170f"/>
<rect x="131.9" y="170.4" width="4.3" height="4.3" fill="#f29710" stroke="#d9870e"/>
<rect x="108.3" y="222.5" width="4.3" height="4.3" fill="#f3b509" stroke="#daa208"/>
<rect x="164.2" y="160.1" width="4.3" height="4.3" fill="#f16910" stroke="#d85e0e"/>
<rect x="75.8" y="178.2" width="4.3" height="4.3" fill="#f9e904" stroke="#e0d103"/>
<rect x="176.6" y="163.5" width="4.3" height="4.3" fill="#f14c10" stroke="#d8440e"/>
<rect x="180.2" y="103.9" width="4.3" height="4.3" fill="#f14510" stroke="#d83e0e"/>
<rect x="219.4" y="91.4" width="4.3" height="4.3" fill="#ed1a11" stroke="#d5170f"/>
<rect x="181.2" y="137.3" width="4.3" height="4.3" fill="#f14310" stroke="#d83c0e"/>
<rect x="152.3" y="172.6" width="4.3" height="4.3" fill="#f17e10" stroke="#d8710e"/>
<rect x="132.5" y="165.4" width="4.3" height="4.3" fill="#f29710" stroke="#d9870e"/>
<rect x="59.9" y="199.3" width="4.3" height="4.3" fill="#7e7e98" stroke="#717188"/>
<rect x="176.5" y="142.6" width="4.3" height="4.3" fill="#f14c10" stroke="#d8440e"/>
<rect x="88.1" y="223.9" width="4.3" height="4.3" fill="#f8d701" stroke="#dfc100"/>
<rect x="144.4" y="171.4" width="4.3" height="4.3" fill="#f28810" stroke="#d97a0e"/>
<rect x="183.2" y="128.1" width="4.3" height="4.3" fill="#f13f10" stroke="#d8380e"/>
<rect x="88.4" y="179.3" width="4.3" height="4.3" fill="#f8d701" stroke="#dfc100"/>
<rect x="129.4" y="137.2" width="4.3" height="4.3" fill="#f29a0f" stroke="#d98a0d"/>
<rect x="126.0" y="154.6" width="4.3" height="4.3" fill="#f29e0f" stroke="#d98e0d"/>
<rect x="151.6" y="179.2" width="4.3" height="4.3" fill="#f17f10" stroke="#d8720e"/>
<rect x="118.2" y="214.0" width="4.3" height="4.3" fill="#f2a70e" stroke="#d9960c"/>
<rect x="191.4" y="121.5" width="4.3" height="4.3" fill="#f03010" stroke="#d82b0e"/>
<rect x="129.2" y="210.2" width="4.3" height="4.3" fill="#f29a0f" stroke="#d98a0d"/>
<rect x="94.5" y="204.4" width="4.3" height="4.3" fill="#f5ca03" stroke="#dcb502"/>
<rect x="120.9" y="152.4" width="4.3" height="4.3" fill="#f2a40e" stroke="#d9930c"/>
<rect x="152.7" y="142.4" width="4.3" height="4.3" fill="#f17e10" stroke="#d8710e"/>
<rect x="139.5" y="149.9" width="4.3" height="4.3" fill="#f28e10" stroke="#d97f0e"/>
<rect x="121.3" y="190.4" width="4.3" height="4.3" fill="#f2a30e" stroke="#d9920c"/>
<rect x="121.6" y="195.6" width="4.3" height="4.3" fill="#f2a30e" stroke="#d9920c"/>
<rect x="174.7" y="123.5" width="4.3" height="4.3" fill="#f15010" stroke="#d8480e"/>
<rect x="77.8" y="166.0" width="4.3" height="4.3" fill="#f9e703" stroke="#e0cf02"/>
<rect x="213.8" y="108.7" width="4.3" height="4.3" fill="#ed1c11" stroke="#d5190f"/>
<rect x="174.1" y="112.1" width="4.3" height="4.3" fill="#f15210" stroke="#d8490e"/>
<rect x="59.6" y="196.6" width="4.3" height="4.3" fill="#7373a3" stroke="#676792"/>
<rect x="159.3" y="117.4" width="4.3" height="4.3" fill="#f17310" stroke="#d8670e"/>
<rect x="167.5" y="164.1" width="4.3" height="4.3" fill="#f16210" stroke="#d8580e"/>
<rect x="137.3" y="124.7" width="4.3" height="4.3" fill="#f29110" stroke="#d9820e"/>
<rect x="105.4" y="140.0" width="4.3" height="4.3" fill="#f3b908" stroke="#daa607"/>
<rect x="82.6" y="180.9" width="4.3" height="4.3" fill="#fae300" stroke="#e1cc00"/>
<rect x="91.2" y="215.7" width="4.3" height="4.3" fill="#f7d102" stroke="#debc01"/>
<rect x="87.0" y="146.5" width="4.3" height="4.3" fill="#f8da01" stroke="#dfc400"/>
<rect x="204.4" y="79.2" width="4.3" height="4.3" fill="#ee1e12" stroke="#d61b10"/>
<rect x="83.7" y="213.4" width="4.3" height="4.3" fill="#fae100" stroke="#e1ca00"/>
<rect x="150.6" y="123.2" width="4.3" height="4.3" fill="#f18010" stroke="#d8730e"/>
<rect x="97.9" y="161.9" width="4.3" height="4.3" fill="#f4c304" stroke="#dbaf03"/>
<rect x="65.8" y="191.8" width="4.3" height="4.3" fill="#f8f209" stroke="#dfd908"/>
<rect x="190.4" y="128.3" width="4.3" height="4.3" fill="#f03210" stroke="#d82d0e"/>
<rect x="127.2" y="149.9" width="4.3" height="4.3" fill="#f29d0f" stroke="#d98d0d"/>
<rect x="194.7" y="104.6" width="4.3" height="4.3" fill="#ef2c11" stroke="#d7270f"/>
<rect x="116.5" y="147.8" width="4.3" height="4.3" fill="#f2a90d" stroke="#d9980b"/>
<rect x="127.4" y="152.8" width="4.3" height="4.3" fill="#f29c0f" stroke="#d98c0d"/>
<rect x="48.4" y="218.6" width="4.3" height="4.3" fill="#2020da" stroke="#1c1cc4"/>
<rect x="155.2" y="153.0" width="4.3" height="4.3" fill="#f17b10" stroke="#d86e0e"/>
<rect x="135.9" y="139.1" width="4.3" height="4.3" fill="#f29310" stroke="#d9840e"/>
<rect x="64.8" y="195.3" width="4.3" height="4.3" fill="#f8f309" stroke="#dfda08"/>
<rect x="108.6" y="177.7" width="4.3" height="4.3" fill="#f3b409" stroke="#daa208"/>
<rect x="83.6" y="196.0" width="4.3" height="4.3" fill="#fae100" stroke="#e1ca00"/>
<rect x="228.5" y="87.7" width="4.3" height="4.3" fill="#ec1810" stroke="#d4150e"/>
<rect x="55.4" y="207.2" width="4.3" height="4.3" fill="#2020da" stroke="#1c1cc4"/>
<rect x="76.6" y="163.2" width="4.3" height="4.3" fill="#f9e803" stroke="#e0d002"/>
<rect x="140.2" y="146.4" width="4.3" height="4.3" fill="#f28d10" stroke="#d97e0e"/>
<rect x="178.0" y="130.2" width="4.3" height="4.3" fill="#f14910" stroke="#d8410e"/>
<rect x="72.6" y="193.6" width="4.3" height="4.3" fill="#f9ec05" stroke="#e0d404"/>
<rect x="77.2" y="191.6" width="4.3" height="4.3" fill="#f9e703" stroke="#e0cf02"/>
<rect x="140.5" y="128.2" width="4.3" height="4.3" fill="#f28d10" stroke="#d97e0e"/>
<rect x="90.6" y="175.6" width="4.3" height="4.3" fill="#f7d202" stroke="#debd01"/>
<rect x="164.2" y="108.5" width="4.3" height="4.3" fill="#f16810" stroke="#d85d0e"/>
<rect x="204.4" y="83.6" width="4.3" height="4.3" fill="#ee1e12" stroke="#d61b10"/>
<rect x="124.1" y="136.3" width="4.3" height="4.3" fill="#f2a00f" stroke="#d9900d"/>
<rect x="49.4" y="194.1" width="4.3" height="4.3" fill="#2020da" stroke="#1c1cc4"/>
<rect x="126.8" y="170.7" width="4.3" height="4.3" fill="#f29d0f" stroke="#d98d0d"/>
<rect x="147.3" y="164.8" width="4.3" height="4.3" fill="#f18510" stroke="#d8770e"/>
<rect x="194.8" y="121.7" width="4.3" height="4.3" fill="#ef2c11" stroke="#d7270f"/>
<rect x="42.6" y="230.0" width="4.3" height="4.3" fill="#1f1fda" stroke="#1b1bc4"/>
<rect x="117.5" y="195.0" width="4.3" height="4.3" fill="#f2a80d" stroke="#d9970b"/>
<rect x="155.0" y="182.5" width="4.3" height="4.3" fill="#f17b10" stroke="#d86e0e"/>
<rect x="99.0" y="203.0" width="4.3" height="4.3" fill="#f4c205" stroke="#dbae04"/>
<rect x="65.8" y="213.9" width="4.3" height="4.3" fill="#f8f209" stroke="#dfd908"/>
<rect x="125.4" y="132.6" width="4.3" height="4.3" fill="#f29f0f" stroke="#d98f0d"/>
<rect x="189.1" y="140.3" width="4.3" height="4.3" fill="#f03410" stroke="#d82e0e"/>
<rect x="188.7" y="121.4" width="4.3" height="4.3" fill="#f03510" stroke="#d82f0e"/>
<rect x="107.5" y="147.0" width="4.3" height="4.3" fill="#f3b609" stroke="#daa308"/>
<rect x="156.7" y="127.6" width="4.3" height="4.3" fill="#f17810" stroke="#d86c0e"/>
<rect x="127.7" y="211.5" width="4.3" height="4.3" fill="#f29c0f" stroke="#d98c0d"/>
<rect x="211.4" y="110.9" width="4.3" height="4.3" fill="#ed1c12" stroke="#d51910"/>
<rect x="78.0" y="209.3" width="4.3" height="4.3" fill="#f9e703" stroke="#e0cf02"/>
<rect x="221.2" y="95.9" width="4.3" height="4.3" fill="#ec1a11" stroke="#d4170f"/>
<rect x="138.8" y="183.1" width="4.3" height="4.3" fill="#f28f10" stroke="#d9800e"/>
<rect x="79.4" y="221.9" width="4.3" height="4.3" fill="#fae502" stroke="#e1ce01"/>
<rect x="144.9" y="156.0" width="4.3" height="4.3" fill="#f18810" stroke="#d87a0e"/>
<rect x="210.5" y="119.7" width="4.3" height="4.3" fill="#ed1c12" stroke="#d51910"/>
<rect x="220.8" y="83.7" width="4.3" height="4.3" fill="#ec1a11" stroke="#d4170f"/>
<rect x="146.6" y="124.5" width="4.3" height="4.3" fill="#f18510" stroke="#d8770e"/>
<rect x="107.4" y="181.2" width="4.3" height="4.3" fill="#f3b609" stroke="#daa308"/>
<rect x="145.2" y="150.5" width="4.3" height="4.3" fill="#f18710" stroke="#d8790e"/>
<rect x="192.3" y="117.3" width="4.3" height="4.3" fill="#f02f10" stroke="#d82a0e"/>
<rect x="116.5" y="137.1" width="4.3" height="4.3" fill="#f2a90d" stroke="#d9980b"/>
<rect x="161.0" y="117.2" width="4.3" height="4.3" fill="#f16f10" stroke="#d8630e"/>
<rect x="167.0" y="132.0" width="4.3" height="4.3" fill="#f16310" stroke="#d8590e"/>
<rect x="120.6" y="191.0" width="4.3" height="4.3" fill="#f2a40e" stroke="#d9930c"/>
<rect x="213.5" y="77.1" width="4.3" height="4.3" fill="#ed1c11" stroke="#d5190f"/>
<rect x="57.2" y="192.3" width="4.3" height="4.3" fill="#2020da" stroke="#1c1cc4"/>
<rect x="251.8" y="58.3" width="4.3" height="4.3" fill="#ea120f" stroke="#d2100d"/>
<rect x="177.1" y="136.9" width="4.3" height="4.3" fill="#f14a10" stroke="#d8420e"/>
<rect x="113.5" y="189.3" width="4.3" height="4.3" fill="#f2ad0c" stroke="#d99b0a"/>
<rect x="116.4" y="209.8" width="4.3" height="4.3" fill="#f2a90d" stroke="#d9980b"/>
<rect x="201.8" y="114.2" width="4.3" height="4.3" fill="#ee2212" stroke="#d61e10"/>
<rect x="66.3" y="165.5" width="4.3" height="4.3" fill="#f8f109" stroke="#dfd808"/>
<rect x="139.7" y="135.6" width="4.3" height="4.3" fill="#f28e10" stroke="#d97f0e"/>
<rect x="119.1" y="207.1" width="4.3" height="4.3" fill="#f2a60e" stroke="#d9950c"/>
<rect x="150.8" y="137.1" width="4.3" height="4.3" fill="#f18010" stroke="#d8730e"/>
<rect x="223.2" y="89.3" width="4.3" height="4.3" fill="#ec1911" stroke="#d4160f"/>
<rect x="157.1" y="156.9" width="4.3" height="4.3" fill="#f17810" stroke="#d86c0e"/>
<rect x="107.9" y="202.5" width="4.3" height="4.3" fill="#f3b509" stroke="#daa208"/>
<rect x="57.3" y="205.0" width="4.3" height="4.3" fill="#2020da" stroke="#1c1cc4"/>
<rect x="125.6" y="180.4" width="4.3" height="4.3" fill="#f29e0f" stroke="#d98e0d"/>
<rect x="165.8" y="130.0" width="4.3" height="4.3" fill="#f16510" stroke="#d85a0e"/>
<rect x="160.1" y="153.5" width="4.3" height="4.3" fill="#f17110" stroke="#d8650e"/>
<rect x="84.6" y="207.9" width="4.3" height="4.3" fill="#f9df00" stroke="#e0c800"/>
<rect x="153.3" y="177.2" width="4.3" height="4.3" fill="#f17d10" stroke="#d8700e"/>
<rect x="199.0" y="119.5" width="4.3" height="4.3" fill="#ef2611" stroke="#d7220f"/>
<rect x="92.4" y="139.4" width="4.3" height="4.3" fill="#f6cf03" stroke="#ddba02"/>
<rect x="114.2" y="204.9" width="4.3" height="4.3" fill="#f2ac0c" stroke="#d99a0a"/>
<rect x="71.5" y="209.3" width="4.3" height="4.3" fill="#f9ed06" stroke="#e0d505"/>
<rect x="37.6" y="234.7" width="4.3" height="4.3" fill="#1f1fda" stroke="#1b1bc4"/>
<rect x="164.3" y="98.4" width="4.3" height="4.3" fill="#f16810" stroke="#d85d0e"/>
<rect x="166.5" y="136.4" width="4.3" height="4.3" fill="#f16410" stroke="#d85a0e"/>
<rect x="122.0" y="222.1" width="4.3" height="4.3" fill="#f2a20e" stroke="#d9910c"/>
<rect x="210.5" y="83.0" width="4.3" height="4.3" fill="#ed1c12" stroke="#d51910"/>
<rect x="178.2" y="124.3" width="4.3" height="4.3" fill="#f14810" stroke="#d8400e"/>
<rect x="158.6" y="168.5" width="4.3" height="4.3" fill="#f17410" stroke="#d8680e"/>
<rect x="71.5" y="204.1" width="4.3" height="4.3" fill="#f9ed06" stroke="#e0d505"/>
<rect x="69.7" y="172.9" width="4.3" height="4.3" fill="#f9ee07" stroke="#e0d606"/>
<rect x="139.9" y="216.3" width="4.3" height="4.3" fill="#f28e10" stroke="#d97f0e"/>
<rect x="123.2" y="194.1" width="4.3" height="4.3" fill="#f2a10f" stroke="#d9900d"/>
<rect x="130.1" y="145.4" width="4.3" height="4.3" fill="#f29910" stroke="#d9890e"/>
<rect x="130.6" y="155.5" width="4.3" height="4.3" fill="#f29910" stroke="#d9890e"/>
<rect x="120.9" y="147.2" width="4.3" height="4.3" fill="#f2a40e" stroke="#d9930c"/>
<rect x="181.7" y="141.6" width="4.3" height="4.3" fill="#f14210" stroke="#d83b0e"/>
<rect x="153.8" y="142.6" width="4.3" height="4.3" fill="#f17d10" stroke="#d8700e"/>
<rect x="223.0" y="83.4" width="4.3" height="4.3" fill="#ec1911" stroke="#d4160f"/>
<rect x="182.4" y="114.3" width="4.3" height="4.3" fill="#f14110" stroke="#d83a0e"/>
<rect x="141.9" y="162.0" width="4.3" height="4.3" fill="#f28b10" stroke="#d97d0e"/>
<rect x="79.1" y="160.6" width="4.3" height="4.3" fill="#fae602" stroke="#e1cf01"/>
<rect x="133.8" y="156.8" width="4.3" height="4.3" fill="#f29510" stroke="#d9860e"/>
<rect x="107.1" y="162.7" width="4.3" height="4.3" fill="#f3b609" stroke="#daa308"/>
<rect x="179.4" y="117.5" width="4.3" height="4.3" fill="#f14610" stroke="#d83f0e"/>
<rect x="220.5" y="74.8" width="4.3" height="4.3" fill="#ec1a11" stroke="#d4170f"/>
<rect x="251.6" y="60.1" width="4.3" height="4.3" fill="#ea120f" stroke="#d2100d"/>
<rect x="81.7" y="187.4" width="4.3" height="4.3" fill="#fae301" stroke="#e1cc00"/>
<rect x="191.2" y="104.6" width="4.3" height="4.3" fill="#f03010" stroke="#d82b0e"/>
<rect x="199.0" y="125.4" width="4.3" height="4.3" fill="#ef2611" stroke="#d7220f"/>
<rect x="145.7" y="128.8" width="4.3" height="4.3" fill="#f18710" stroke="#d8790e"/>
<rect x="71.7" y="179.5" width="4.3" height="4.3" fill="#f9ec06" stroke="#e0d405"/>
<rect x="139.7" y="160.9" width="4.3" height="4.3" fill="#f28e10" stroke="#d97f0e"/>
<rect x="152.9" y="161.5" width="4.3" height="4.3" fill="#f17e10" stroke="#d8710e"/>
<rect x="129.9" y="176.5" width="4.3" height="4.3" fill="#f29a10" stroke="#d98a0e"/>
<rect x="161.8" y="146.8" width="4.3" height="4.3" fill="#f16e10" stroke="#d8630e"/>
<rect x="234.2" y="74.8" width="4.3" height="4.3" fill="#eb1710" stroke="#d3140e"/>
<rect x="172.1" y="109.3" width="4.3" height="4.3" fill="#f15710" stroke="#d84e0e"/>
<rect x="108.1" y="191.4" width="4.3" height="4.3" fill="#f3b509" stroke="#daa208"/>
<rect x="244.7" y="66.2" width="4.3" height="4.3" fill="#ea140f" stroke="#d2120d"/>
<rect x="134.6" y="158.6" width="4.3" height="4.3" fill="#f29410" stroke="#d9850e"/>
<rect x="133.3" y="127.5" width="4.3" height="4.3" fill="#f29610" stroke="#d9870e"/>
<rect x="162.8" y="153.5" width="4.3" height="4.3" fill="#f16c10" stroke="#d8610e"/>
<rect x="138.4" y="141.4" width="4.3" height="4.3" fill="#f28f10" stroke="#d9800e"/>
<rect x="130.4" y="169.1" width="4.3" height="4.3" fill="#f29910" stroke="#d9890e"/>
<rect x="74.5" y="170.9" width="4.3" height="4.3" fill="#f9ea04" stroke="#e0d203"/>
<rect x="85.9" y="193.4" width="4.3" height="4.3" fill="#f9dc01" stroke="#e0c600"/>
<rect x="158.6" y="135.7" width="4.3" height="4.3" fill="#f17410" stroke="#d8680e"/>
<rect x="195.5" y="127.5" width="4.3" height="4.3" fill="#ef2a11" stroke="#d7250f"/>
<rect x="174.2" y="162.6" width="4.3" height="4.3" fill="#f15110" stroke="#d8480e"/>
<rect x="189.1" y="134.3" width="4.3" height="4.3" fill="#f03410" stroke="#d82e0e"/>
<rect x="126.4" y="171.0" width="4.3" height="4.3" fill="#f29d0f" stroke="#d98d0d"/>
<rect x="186.4" y="91.0" width="4.3" height="4.3" fill="#f03910" stroke="#d8330e"/>
<rect x="94.9" y="209.8" width="4.3" height="4.3" fill="#f5c903" stroke="#dcb402"/>
<rect x="169.3" y="139.9" width="4.3" height="4.3" fill="#f15d10" stroke="#d8530e"/>
<rect x="89.2" y="188.7" width="4.3" height="4.3" fill="#f7d502" stroke="#debf01"/>
<rect x="144.4" y="161.2" width="4.3" height="4.3" fill="#f28810" stroke="#d97a0e"/>
<rect x="171.6" y="126.6" width="4.3" height="4.3" fill="#f15810" stroke="#d84f0e"/>
<rect x="144.4" y="155.2" width="4.3" height="4.3" fill="#f28810" stroke="#d97a0e"/>
<rect x="177.0" y="112.2" width="4.3" height="4.3" fill="#f14b10" stroke="#d8430e"/>
<rect x="113.9" y="152.2" width="4.3" height="4.3" fill="#f2ad0c" stroke="#d99b0a"/>
<rect x="62.8" y="188.7" width="4.3" height="4.3" fill="#e6e41d" stroke="#cfcd1a"/>
<rect x="53.3" y="172.0" width="4.3" height="4.3" fill="#2020da" stroke="#1c1cc4"/>
<rect x="79.5" y="151.4" width="4.3" height="4.3" fill="#fae502" stroke="#e1ce01"/>
<rect x="218.6" y="100.6" width="4.3" height="4.3" fill="#ed1a11" stroke="#d5170f"/>
<rect x="178.9" y="92.2" width="4.3" height="4.3" fill="#f14710" stroke="#d83f0e"/>
<rect x="135.7" y="128.1" width="4.3" height="4.3" fill="#f29310" stroke="#d9840e"/>
<rect x="159.7" y="145.5" width="4.3" height="4.3" fill="#f17210" stroke="#d8660e"/>
<rect x="63.9" y="218.4" width="4.3" height="4.3" fill="#f8f40a" stroke="#dfdb09"/>
<rect x="111.0" y="145.1" width="4.3" height="4.3" fill="#f3b10a" stroke="#da9f09"/>
<rect x="90.3" y="186.3" width="4.3" height="4.3" fill="#f7d302" stroke="#debd01"/>
<rect x="99.7" y="200.2" width="4.3" height="4.3" fill="#f4c105" stroke="#dbad04"/>
<rect x="138.6" y="196.4" width="4.3" height="4.3" fill="#f28f10" stroke="#d9800e"/>
<rect x="63.1" y="196.0" width="4.3" height="4.3" fill="#f0ec13" stroke="#d8d411"/>
<rect x="142.6" y="159.1" width="4.3" height="4.3" fill="#f28a10" stroke="#d97c0e"/>
<rect x="74.7" y="180.2" width="4.3" height="4.3" fill="#f9ea04" stroke="#e0d203"/>
<rect x="126.3" y="218.6" width="4.3" height="4.3" fill="#f29e0f" stroke="#d98e0d"/>
<rect x="57.1" y="184.7" width="4.3" height="4.3" fill="#2020da" stroke="#1c1cc4"/>
<rect x="179.1" y="118.0" width="4.3" height="4.3" fill="#f14710" stroke="#d83f0e"/>
<rect x="219.6" y="77.3" width="4.3" height="4.3" fill="#ed1a11" stroke="#d5170f"/>
<rect x="115.1" y="193.3" width="4.3" height="4.3" fill="#f2ab0c" stroke="#d9990a"/>
<rect x="67.6" y="191.1" width="4.3" height="4.3" fill="#f8f008" stroke="#dfd807"/>
<rect x="215.8" y="107.0" width="4.3" height="4.3" fill="#ed1b11" stroke="#d5180f"/>
<rect x="177.5" y="123.3" width="4.3" height="4.3" fill="#f14a10" stroke="#d8420e"/>
<rect x="167.2" y="131.5" width="4.3" height="4.3" fill="#f16210" stroke="#d8580e"/>
<rect x="64.7" y="165.2" width="4.3" height="4.3" fill="#f8f309" stroke="#dfda08"/>
<rect x="220.0" y="78.3" width="4.3" height="4.3" fill="#ed1a11" stroke="#d5170f"/>
<rect x="111.8" y="165.2" width="4.3" height="4.3" fill="#f3b00b" stroke="#da9e09"/>
<rect x="60.6" y="210.2" width="4.3" height="4.3" fill="#9c9c73" stroke="#8c8c67"/>
<rect x="107.4" y="204.2" width="4.3" height="4.3" fill="#f3b609" stroke="#daa308"/>
<rect x="100.5" y="168.6" width="4.3" height="4.3" fill="#f4c005" stroke="#dbac04"/>
<rect x="202.8" y="118.5" width="4.3" height="4.3" fill="#ee2012" stroke="#d61c10"/>
<rect x="135.5" y="174.9" width="4.3" height="4.3" fill="#f29310" stroke="#d9840e"/>
<rect x="123.6" y="146.9" width="4.3" height="4.3" fill="#f2a10f" stroke="#d9900d"/>
<rect x="117.7" y="152.6" width="4.3" height="4.3" fill="#f2a80d" stroke="#d9970b"/>
<rect x="136.7" y="180.6" width="4.3" height="4.3" fill="#f29210" stroke="#d9830e"/>
<rect x="104.8" y="217.8" width="4.3" height="4.3" fill="#f3ba07" stroke="#daa706"/>
<rect x="139.8" y="127.9" width="4.3" height="4.3" fill="#f28e10" stroke="#d97f0e"/>
<rect x="94.6" y="166.2" width="4.3" height="4.3" fill="#f5ca03" stroke="#dcb502"/>
<rect x="109.2" y="163.7" width="4.3" height="4.3" fill="#f3b30a" stroke="#daa109"/>
<rect x="154.3" y="164.4" width="4.3" height="4.3" fill="#f17c10" stroke="#d86f0e"/>
<rect x="154.0" y="168.4" width="4.3" height="4.3" fill="#f17c10" stroke="#d86f0e"/>
<rect x="216.1" y="105.4" width="4.3" height="4.3" fill="#ed1b11" stroke="#d5180f"/>
<rect x="124.1" y="217.5" width="4.3" height="4.3" fill="#f2a00f" stroke="#d9900d"/>
<rect x="85.2" y="194.6" width="4.3" height="4.3" fill="#f9de01" stroke="#e0c700"/>
<rect x="107.0" y="206.5" width="4.3" height="4.3" fill="#f3b708" stroke="#daa407"/>
<rect x="123.4" y="139.0" width="4.3" height="4.3" fill="#f2a10f" stroke="#d9900d"/>
<rect x="218.1" y="105.2" width="4.3" height="4.3" fill="#ed1b11" stroke="#d5180f"/>
<rect x="90.8" y="175.6" width="4.3" height="4.3" fill="#f7d202" stroke="#debd01"/>
<rect x="151.0" y="165.1" width="4.3" height="4.3" fill="#f18010" stroke="#d8730e"/>
<rect x="137.0" y="125.7" width="4.3" height="4.3" fill="#f29110" stroke="#d9820e"/>
<rect x="97.2" y="224.0" width="4.3" height="4.3" fill="#f4c404" stroke="#dbb003"/>
<rect x="152.0" y="143.8" width="4.3" height="4.3" fill="#f17f10" stroke="#d8720e"/>
<rect x="208.9" y="107.3" width="4.3" height="4.3" fill="#ee1d12" stroke="#d61a10"/>
<rect x="84.5" y="160.3" width="4.3" height="4.3" fill="#f9df00" stroke="#e0c800"/>
<rect x="85.8" y="219.0" width="4.3" height="4.3" fill="#f9dc01" stroke="#e0c600"/>
<rect x="59.3" y="223.6" width="4.3" height="4.3" fill="#6565ac" stroke="#5a5a9a"/>
<rect x="61.2" y="166.0" width="4.3" height="4.3" fill="#b4b455" stroke="#a2a24c"/>
<rect x="80.0" y="220.2" width="4.3" height="4.3" fill="#fae502" stroke="#e1ce01"/>
<rect x="224.2" y="81.1" width="4.3" height="4.3" fill="#ec1911" stroke="#d4160f"/>
<rect x="96.4" y="156.0" width="4.3" height="4.3" fill="#f4c604" stroke="#dbb203"/>
<rect x="191.6" y="119.3" width="4.3" height="4.3" fill="#f03010" stroke="#d82b0e"/>
<rect x="128.7" y="217.4" width="4.3" height="4.3" fill="#f29b0f" stroke="#d98b0d"/>
<rect x="86.6" y="210.0" width="4.3" height="4.3" fill="#f9db01" stroke="#e0c500"/>
<rect x="202.1" y="86.5" width="4.3" height="4.3" fill="#ee2112" stroke="#d61d10"/>
<rect x="70.3" y="211.7" width="4.3" height="4.3" fill="#f9ee07" stroke="#e0d606"/>
<rect x="85.9" y="213.8" width="4.3" height="4.3" fill="#f9dc01" stroke="#e0c600"/>
<rect x="106.7" y="223.5" width="4.3" height="4.3" fill="#f3b708" stroke="#daa407"/>
<rect x="112.3" y="193.6" width="4.3" height="4.3" fill="#f3af0b" stroke="#da9d09"/>
<rect x="108.0" y="169.3" width="4.3" height="4.3" fill="#f3b509" stroke="#daa208"/>
<rect x="55.1" y="169.6" width="4.3" height="4.3" fill="#2020da" stroke="#1c1cc4"/>
<rect x="204.1" y="88.0" width="4.3" height="4.3" fill="#ee1e12" stroke="#d61b10"/>
<rect x="122.7" y="168.3" width="4.3" height="4.3" fill="#f2a20f" stroke="#d9910d"/>
<rect x="95.1" y="191.6" width="4.3" height="4.3" fill="#f5c903" stroke="#dcb402"/>
<rect x="111.5" y="154.0" width="4.3" height="4.3" fill="#f3b00b" stroke="#da9e09"/>
<rect x="229.8" y="71.9" width="4.3" height="4.3" fill="#ec1810" stroke="#d4150e"/>
<rect x="139.2" y="144.0" width="4.3" height="4.3" fill="#f28f10" stroke="#d9800e"/>
<rect x="126.7" y="156.3" width="4.3" height="4.3" fill="#f29d0f" stroke="#d98d0d"/>
<rect x="95.9" y="221.9" width="4.3" height="4.3" fill="#f5c704" stroke="#dcb303"/>
<rect x="96.1" y="222.9" width="4.3" height="4.3" fill="#f5c704" stroke="#dcb303"/>
<rect x="134.5" y="198.7" width="4.3" height="4.3" fill="#f29410" stroke="#d9850e"/>
<rect x="112.2" y="209.3" width="4.3" height="4.3" fill="#f3af0b" stroke="#da9d09"/>
<rect x="124.6" y="209.2" width="4.3" height="4.3" fill="#f2a00f" stroke="#d9900d"/>
<rect x="95.4" y="204.6" width="4.3" height="4.3" fill="#f5c803" stroke="#dcb402"/>
<rect x="200.3" y="80.9" width="4.3" height="4.3" fill="#ef2411" stroke="#d7200f"/>
<rect x="147.3" y="160.8" width="4.3" height="4.3" fill="#f18510" stroke="#d8770e"/>
<rect x="49.9" y="191.2" width="4.3" height="4.3" fill="#2020da" stroke="#1c1cc4"/>
<rect x="79.5" y="177.8" width="4.3" height="4.3" fill="#fae502" stroke="#e1ce01"/>
<rect x="156.4" y="165.3" width="4.3" height="4.3" fill="#f17910" stroke="#d86c0e"/>
<rect x="147.3" y="176.2" width="4.3" height="4.3" fill="#f18510" stroke="#d8770e"/>
<rect x="96.0" y="153.0" width="4.3" height="4.3" fill="#f5c704" stroke="#dcb303"/>
<rect x="178.0" y="142.8" width="4.3" height="4.3" fill="#f14910" stroke="#d8410e"/>
<rect x="137.8" y="154.4" width="4.3" height="4.3" fill="#f29010" stroke="#d9810e"/>
<rect x="120.8" y="204.7" width="4.3" height="4.3" fill="#f2a40e" stroke="#d9930c"/>
<rect x="120.3" y="180.9" width="4.3" height="4.3" fill="#f2a40e" stroke="#d9930c"/>
<rect x="222.7" y="95.3" width="4.3" height="4.3" fill="#ec1911" stroke="#d4160f"/>
<rect x="154.0" y="131.1" width="4.3" height="4.3" fill="#f17c10" stroke="#d86f0e"/>
<rect x="55.4" y="187.1" width="4.3" height="4.3" fill="#2020da" stroke="#1c1cc4"/>
<rect x="84.3" y="178.9" width="4.3" height="4.3" fill="#fae000" stroke="#e1c900"/>
<rect x="200.4" y="124.9" width="4.3" height="4.3" fill="#ef2411" stroke="#d7200f"/>
<rect x="148.4" y="137.6" width="4.3" height="4.3" fill="#f18310" stroke="#d8750e"/>
<rect x="110.8" y="196.9" width="4.3" height="4.3" fill="#f3b10a" stroke="#da9f09"/>
<rect x="127.6" y="141.9" width="4.3" height="4.3" fill="#f29c0f" stroke="#d98c0d"/>
<rect x="75.1" y="179.1" width="4.3" height="4.3" fill="#f9e904" stroke="#e0d103"/>
<rect x="135.5" y="154.5" width="4.3" height="4.3" fill="#f29310" stroke="#d9840e"/>
<rect x="83.3" y="171.5" width="4.3" height="4.3" fill="#fae200" stroke="#e1cb00"/>
<rect x="152.8" y="104.7" width="4.3" height="4.3" fill="#f17e10" stroke="#d8710e"/>
<rect x="86.6" y="146.0" width="4.3" height="4.3" fill="#f9db01" stroke="#e0c500"/>
<rect x="132.9" y="161.0" width="4.3" height="4.3" fill="#f29610" stroke="#d9870e"/>
<rect x="186.9" y="112.8" width="4.3" height="4.3" fill="#f03810" stroke="#d8320e"/>
<rect x="47.9" y="193.6" width="4.3" height="4.3" fill="#1f1fda" stroke="#1b1bc4"/>
<rect x="223.5" y="93.0" width="4.3" height="4.3" fill="#ec1911" stroke="#d4160f"/>
<rect x="158.5" y="126.4" width="4.3" height="4.3" fill="#f17410" stroke="#d8680e"/>
<rect x="174.8" y="88.9" width="4.3" height="4.3" fill="#f15010" stroke="#d8480e"/>
<rect x="151.1" y="163.6" width="4.3" height="4.3" fill="#f18010" stroke="#d8730e"/>
<rect x="136.7" y="218.6" width="4.3" height="4.3" fill="#f29210" stroke="#d9830e"/>
<rect x="101.4" y="214.8" width="4.3" height="4.3" fill="#f4be06" stroke="#dbab05"/>
<rect x="200.7" y="104.1" width="4.3" height="4.3" fill="#ef2311" stroke="#d71f0f"/>
<rect x="82.2" y="211.4" width="4.3" height="4.3" fill="#fae300" stroke="#e1cc00"/>
<rect x="138.6" y="166.4" width="4.3" height="4.3" fill="#f28f10" stroke="#d9800e"/>
<rect x="194.1" y="122.3" width="4.3" height="4.3" fill="#ef2c11" stroke="#d7270f"/>
<rect x="224.6" y="90.4" width="4.3" height="4.3" fill="#ec1911" stroke="#d4160f"/>
<rect x="239.6" y="65.1" width="4.3" height="4.3" fill="#eb1510" stroke="#d3120e"/>
<rect x="180.8" y="148.7" width="4.3" height="4.3" fill="#f14410" stroke="#d83d0e"/>
<rect x="118.7" y="143.3" width="4.3" height="4.3" fill="#f2a60e" stroke="#d9950c"/>
<rect x="187.3" y="143.5" width="4.3" height="4.3" fill="#f03710" stroke="#d8310e"/>
<rect x="188.3" y="124.0" width="4.3" height="4.3" fill="#f03510" stroke="#d82f0e"/>
<rect x="99.1" y="208.8" width="4.3" height="4.3" fill="#f4c205" stroke="#dbae04"/>
<rect x="140.2" y="146.8" width="4.3" height="4.3" fill="#f28d10" stroke="#d97e0e"/>
<rect x="161.8" y="153.2" width="4.3" height="4.3" fill="#f16e10" stroke="#d8630e"/>
<rect x="123.3" y="156.9" width="4.3" height="4.3" fill="#f2a10f" stroke="#d9900d"/>
<rect x="129.4" y="156.7" width="4.3" height="4.3" fill="#f29a0f" stroke="#d98a0d"/>
<rect x="178.2" y="101.3" width="4.3" height="4.3" fill="#f14810" stroke="#d8400e"/>
<rect x="106.2" y="191.1" width="4.3" height="4.3" fill="#f3b808" stroke="#daa507"/>
<rect x="201.6" y="120.5" width="4.3" height="4.3" fill="#ee2212" stroke="#d61e10"/>
<rect x="134.3" y="151.2" width="4.3" height="4.3" fill="#f29410" stroke="#d9850e"/>
<rect x="80.2" y="207.2" width="4.3" height="4.3" fill="#fae502" stroke="#e1ce01"/>
<rect x="119.4" y="168.1" width="4.3" height="4.3" fill="#f2a50e" stroke="#d9940c"/>
<rect x="144.3" y="210.0" width="4.3" height="4.3" fill="#f28810" stroke="#d97a0e"/>
<rect x="142.7" y="182.3" width="4.3" height="4.3" fill="#f28a10" stroke="#d97c0e"/>
<rect x="205.2" y="121.5" width="4.3" height="4.3" fill="#ee1e12" stroke="#d61b10"/>
<rect x="127.8" y="178.3" width="4.3" height="4.3" fill="#f29c0f" stroke="#d98c0d"/>
<rect x="154.6" y="166.3" width="4.3" height="4.3" fill="#f17c10" stroke="#d86f0e"/>
<rect x="174.3" y="110.1" width="4.3" height="4.3" fill="#f15110" stroke="#d8480e"/>
<rect x="96.6" y="203.2" width="4.3" height="4.3" fill="#f4c604" stroke="#dbb203"/>
<rect x="214.0" y="85.9" width="4.3" height="4.3" fill="#ed1c11" stroke="#d5190f"/>
<rect x="94.7" y="217.1" width="4.3" height="4.3" fill="#f5ca03" stroke="#dcb502"/>
<rect x="251.1" y="61.3" width="4.3" height="4.3" fill="#ea120f" stroke="#d2100d"/>
<rect x="121.3" y="205.2" width="4.3" height="4.3" fill="#f2a30e" stroke="#d9920c"/>
<rect x="129.3" y="211.3" width="4.3" height="4.3" fill="#f29a0f" stroke="#d98a0d"/>
<rect x="125.2" y="194.2" width="4.3" height="4.3" fill="#f29f0f" stroke="#d98f0d"/>
<rect x="167.5" y="126.4" width="4.3" height="4.3" fill="#f16210" stroke="#d8580e"/>
<rect x="69.2" y="225.6" width="4.3" height="4.3" fill="#f9ef07" stroke="#e0d706"/>
<rect x="147.2" y="126.4" width="4.3" height="4.3" fill="#f18510" stroke="#d8770e"/>
<rect x="61.5" y="178.2" width="4.3" height="4.3" fill="#bebe48" stroke="#abab40"/>
<rect x="83.1" y="200.9" width="4.3" height="4.3" fill="#fae200" stroke="#e1cb00"/>
<rect x="98.5" y="184.1" width="4.3" height="4.3" fill="#f4c205" stroke="#dbae04"/>
<rect x="93.0" y="164.6" width="4.3" height="4.3" fill="#f6cd03" stroke="#ddb802"/>
<rect x="82.3" y="212.0" width="4.3" height="4.3" fill="#fae300" stroke="#e1cc00"/>
<rect x="89.5" y="212.6" width="4.3" height="4.3" fill="#f7d502" stroke="#debf01"/>
<rect x="142.1" y="189.2" width="4.3" height="4.3" fill="#f28b10" stroke="#d97d0e"/>
<rect x="122.3" y="161.5" width="4.3" height="4.3" fill="#f2a20e" stroke="#d9910c"/>
<rect x="163.8" y="128.0" width="4.3" height="4.3" fill="#f16910" stroke="#d85e0e"/>
<rect x="127.6" y="211.1" width="4.3" height="4.3" fill="#f29c0f" stroke="#d98c0d"/>
<rect x="102.6" y="179.1" width="4.3" height="4.3" fill="#f4bd06" stroke="#dbaa05"/>
<rect x="139.5" y="193.6" width="4.3" height="4.3" fill="#f28e10" stroke="#d97f0e"/>
<rect x="171.4" y="158.8" width="4.3" height="4.3" fill="#f15810" stroke="#d84f0e"/>
<rect x="109.1" y="187.3" width="4.3" height="4.3" fill="#f3b409" stroke="#daa208"/>
<rect x="164.9" y="124.8" width="4.3" height="4.3" fill="#f16710" stroke="#d85c0e"/>
<rect x="171.0" y="108.6" width="4.3" height="4.3" fill="#f15910" stroke="#d8500e"/>
<rect x="206.3" y="102.3" width="4.3" height="4.3" fill="#ee1e12" stroke="#d61b10"/>
<rect x="142.8" y="157.2" width="4.3" height="4.3" fill="#f28a10" stroke="#d97c0e"/>
<rect x="102.7" y="224.0" width="4.3" height="4.3" fill="#f4bd06" stroke="#dbaa05"/>
<rect x="227.6" y="73.6" width="4.3" height="4.3" fill="#ec1811" stroke="#d4150f"/>
<rect x="118.1" y="210.1" width="4.3" height="4.3" fill="#f2a70e" stroke="#d9960c"/>
<rect x="165.5" y="168.2" width="4.3" height="4.3" fill="#f16610" stroke="#d85b0e"/>
<rect x="121.3" y="205.4" width="4.3" height="4.3" fill="#f2a30e" stroke="#d9920c"/>
<rect x="109.8" y="202.9" width="4.3" height="4.3" fill="#f3b30a" stroke="#daa109"/>
<rect x="92.0" y="191.4" width="4.3" height="4.3" fill="#f6cf02" stroke="#ddba01"/>
<rect x="121.2" y="222.9" width="4.3" height="4.3" fill="#f2a30e" stroke="#d9920c"/>
<rect x="110.4" y="208.9" width="4.3" height="4.3" fill="#f3b20a" stroke="#daa009"/>
<rect x="98.4" y="154.6" width="4.3" height="4.3" fill="#f4c304" stroke="#dbaf03"/>
<rect x="82.2" y="216.5" width="4.3" height="4.3" fill="#fae300" stroke="#e1cc00"/>
<rect x="74.5" y="207.7" width="4.3" height="4.3" fill="#f9ea04" stroke="#e0d203"/>
<rect x="155.9" y="150.8" width="4.3" height="4.3" fill="#f17a10" stroke="#d86d0e"/>
<rect x="56.8" y="186.6" width="4.3" height="4.3" fill="#2020da" stroke="#1c1cc4"/>
<rect x="82.2" y="178.4" width="4.3" height="4.3" fill="#fae300" stroke="#e1cc00"/>
<rect x="103.9" y="205.5" width="4.3" height="4.3" fill="#f3bb07" stroke="#daa806"/>
<rect x="236.8" y="67.2" width="4.3" height="4.3" fill="#eb1610" stroke="#d3130e"/>
<rect x="190.0" y="121.3" width="4.3" height="4.3" fill="#f03210" stroke="#d82d0e"/>
<rect x="85.0" y="213.7" width="4.3" height="4.3" fill="#f9de01" stroke="#e0c700"/>
<rect x="239.8" y="71.9" width="4.3" height="4.3" fill="#eb1510" stroke="#d3120e"/>
<rect x="148.3" y="179.3" width="4.3" height="4.3" fill="#f18310" stroke="#d8750e"/>
<rect x="159.3" y="121.9" width="4.3" height="4.3" fill="#f17310" stroke="#d8670e"/>
<rect x="194.3" y="103.2" width="4.3" height="4.3" fill="#ef2c11" stroke="#d7270f"/>
<rect x="119.8" y="222.8" width="4.3" height="4.3" fill="#f2a50e" stroke="#d9940c"/>
<rect x="165.2" y="129.0" width="4.3" height="4.3" fill="#f16710" stroke="#d85c0e"/>
<rect x="115.3" y="202.1" width="4.3" height="4.3" fill="#f2ab0c" stroke="#d9990a"/>
<rect x="69.8" y="193.2" width="4.3" height="4.3" fill="#f9ee07" stroke="#e0d606"/>
<rect x="75.1" y="200.6" width="4.3" height="4.3" fill="#f9e904" stroke="#e0d103"/>
<rect x="161.7" y="126.1" width="4.3" height="4.3" fill="#f16e10" stroke="#d8630e"/>
<rect x="130.6" y="192.4" width="4.3" height="4.3" fill="#f29910" stroke="#d9890e"/>
<rect x="167.5" y="134.0" width="4.3" height="4.3" fill="#f16210" stroke="#d8580e"/>
<rect x="117.7" y="159.4" width="4.3" height="4.3" fill="#f2a80d" stroke="#d9970b"/>
<rect x="98.7" y="156.5" width="4.3" height="4.3" fill="#f4c205" stroke="#dbae04"/>
<rect x="136.2" y="158.9" width="4.3" height="4.3" fill="#f29210" stroke="#d9830e"/>
<rect x="96.9" y="150.0" width="4.3" height="4.3" fill="#f4c504" stroke="#dbb103"/>
<rect x="108.3" y="167.2" width="4.3" height="4.3" fill="#f3b509" stroke="#daa208"/>
<rect x="84.4" y="172.7" width="4.3" height="4.3" fill="#f9df00" stroke="#e0c800"/>
<rect x="72.6" y="222.4" width="4.3" height="4.3" fill="#f9ec05" stroke="#e0d404"/>
<rect x="192.7" y="132.3" width="4.3" height="4.3" fill="#f02e10" stroke="#d8290e"/>
<rect x="141.4" y="177.8" width="4.3" height="4.3" fill="#f28c10" stroke="#d97e0e"/>
<rect x="153.1" y="155.5" width="4.3" height="4.3" fill="#f17d10" stroke="#d8700e"/>
<rect x="60.1" y="175.9" width="4.3" height="4.3" fill="#88888b" stroke="#7a7a7d"/>
<rect x="108.2" y="189.5" width="4.3" height="4.3" fill="#f3b509" stroke="#daa208"/>
<rect x="143.1" y="143.7" width="4.3" height="4.3" fill="#f28a10" stroke="#d97c0e"/>
<rect x="111.5" y="152.6" width="4.3" height="4.3" fill="#f3b00b" stroke="#da9e09"/>
<rect x="143.8" y="121.7" width="4.3" height="4.3" fill="#f28910" stroke="#d97b0e"/>
<rect x="66.9" y="156.7" width="4.3" height="4.3" fill="#f8f108" stroke="#dfd807"/>
<rect x="115.3" y="219.8" width="4.3" height="4.3" fill="#f2ab0c" stroke="#d9990a"/>
<rect x="188.5" y="98.9" width="4.3" height="4.3" fill="#f03510" stroke="#d82f0e"/>
<rect x="80.5" y="207.8" width="4.3" height="4.3" fill="#fae401" stroke="#e1cd00"/>
<rect x="150.1" y="169.1" width="4.3" height="4.3" fill="#f18110" stroke="#d8740e"/>
<rect x="193.2" y="94.8" width="4.3" height="4.3" fill="#f02e10" stroke="#d8290e"/>
<rect x="159.9" y="136.0" width="4.3" height="4.3" fill="#f17210" stroke="#d8660e"/>
<rect x="105.2" y="204.8" width="4.3" height="4.3" fill="#f3b908" stroke="#daa607"/>
<rect x="130.7" y="205.2" width="4.3" height="4.3" fill="#f29910" stroke="#d9890e"/>
<rect x="151.3" y="145.2" width="4.3" height="4.3" fill="#f18010" stroke="#d8730e"/>
<rect x="147.7" y="123.3" width="4.3" height="4.3" fill="#f18410" stroke="#d8760e"/>
<rect x="103.6" y="207.6" width="4.3" height="4.3" fill="#f3bb07" stroke="#daa806"/>
<rect x="140.0" y="187.4" width="4.3" height="4.3" fill="#f28d10" stroke="#d97e0e"/>
<rect x="241.5" y="73.6" width="4.3" height="4.3" fill="#eb1510" stroke="#d3120e"/>
<rect x="162.7" y="134.2" width="4.3" height="4.3" fill="#f16c10" stroke="#d8610e"/>
<rect x="107.5" y="158.4" width="4.3" height="4.3" fill="#f3b609" stroke="#daa308"/>
<rect x="130.0" y="163.8" width="4.3" height="4.3" fill="#f29910" stroke="#d9890e"/>
<rect x="160.1" y="149.4" width="4.3" height="4.3" fill="#f17110" stroke="#d8650e"/>
<rect x="163.3" y="153.4" width="4.3" height="4.3" fill="#f16a10" stroke="#d85f0e"/>
<rect x="43.7" y="236.2" width="4.3" height="4.3" fill="#1f1fda" stroke="#1b1bc4"/>
<rect x="121.4" y="186.4" width="4.3" height="4.3" fill="#f2a30e" stroke="#d9920c"/>
<rect x="159.0" y="126.7" width="4.3" height="4.3" fill="#f17310" stroke="#d8670e"/>
<rect x="143.7" y="135.6" width="4.3" height="4.3" fill="#f28910" stroke="#d97b0e"/>
<rect x="201.8" y="107.5" width="4.3" height="4.3" fill="#ee2212" stroke="#d61e10"/>
<rect x="107.7" y="198.6" width="4.3" height="4.3" fill="#f3b609" stroke="#daa308"/>
<rect x="110.6" y="194.5" width="4.3" height="4.3" fill="#f3b10a" stroke="#da9f09"/>
<rect x="88.9" y="192.5" width="4.3" height="4.3" fill="#f8d602" stroke="#dfc001"/>
<rect x="57.0" y="198.8" width="4.3" height="4.3" fill="#2020da" stroke="#1c1cc4"/>
<rect x="115.3" y="168.6" width="4.3" height="4.3" fill="#f2ab0c" stroke="#d9990a"/>
<rect x="117.7" y="132.5" width="4.3" height="4.3" fill="#f2a80d" stroke="#d9970b"/>
<rect x="220.2" y="99.6" width="4.3" height="4.3" fill="#ed1a11" stroke="#d5170f"/>
<rect x="78.0" y="168.1" width="4.3" height="4.3" fill="#f9e703" stroke="#e0cf02"/>
<rect x="177.8" y="127.8" width="4.3" height="4.3" fill="#f14910" stroke="#d8410e"/>
<rect x="50.7" y="227.2" width="4.3" height="4.3" fill="#2020da" stroke="#1c1cc4"/>
<rect x="144.6" y="141.3" width="4.3" height="4.3" fill="#f18810" stroke="#d87a0e"/>
<rect x="45.4" y="218.3" width="4.3" height="4.3" fill="#1f1fda" stroke="#1b1bc4"/>
<rect x="210.0" y="91.6" width="4.3" height="4.3" fill="#ed1d12" stroke="#d51a10"/>
<rect x="235.4" y="77.2" width="4.3" height="4.3" fill="#eb1610" stroke="#d3130e"/>
<rect x="193.7" y="129.5" width="4.3" height="4.3" fill="#f02d10" stroke="#d8280e"/>
<rect x="51.4" y="194.5" width="4.3" height="4.3" fill="#2020da" stroke="#1c1cc4"/>
<rect x="48.7" y="218.9" width="4.3" height="4.3" fill="#2020da" stroke="#1c1cc4"/>
<rect x="131.8" y="217.8" width="4.3" height="4.3" fill="#f29710" stroke="#d9870e"/>
<rect x="150.3" y="136.3" width="4.3" height="4.3" fill="#f18110" stroke="#d8740e"/>
<rect x="131.0" y="171.9" width="4.3" height="4.3" fill="#f29810" stroke="#d9880e"/>
<rect x="140.2" y="171.1" width="4.3" height="4.3" fill="#f28d10" stroke="#d97e0e"/>
<rect x="98.7" y="148.3" width="4.3" height="4.3" fill="#f4c205" stroke="#dbae04"/>
<rect x="53.0" y="218.9" width="4.3" height="4.3" fill="#2020da" stroke="#1c1cc4"/>
<rect x="125.1" y="154.4" width="4.3" height="4.3" fill="#f29f0f" stroke="#d98f0d"/>
<rect x="163.8" y="174.4" width="4.3" height="4.3" fill="#f16910" stroke="#d85e0e"/>
<rect x="153.0" y="123.0" width="4.3" height="4.3" fill="#f17e10" stroke="#d8710e"/>
<rect x="205.9" y="132.7" width="4.3" height="4.3" fill="#ee1e12" stroke="#d61b10"/>
<rect x="44.8" y="218.3" width="4.3" height="4.3" fill="#1f1fda" stroke="#1b1bc4"/>
<rect x="130.1" y="148.2" width="4.3" height="4.3" fill="#f29910" stroke="#d9890e"/>
<rect x="129.3" y="198.0" width="4.3" height="4.3" fill="#f29a0f" stroke="#d98a0d"/>
<rect x="175.8" y="118.1" width="4.3" height="4.3" fill="#f14e10" stroke="#d8460e"/>
<rect x="88.6" y="208.9" width="4.3" height="4.3" fill="#f8d702" stroke="#dfc101"/>
<rect x="84.3" y="205.2" width="4.3" height="4.3" fill="#f9df00" stroke="#e0c800"/>
<rect x="106.6" y="192.0" width="4.3" height="4.3" fill="#f3b708" stroke="#daa407"/>
<rect x="123.9" y="181.7" width="4.3" height="4.3" fill="#f2a00f" stroke="#d9900d"/>
<rect x="92.5" y="157.0" width="4.3" height="4.3" fill="#f6ce03" stroke="#ddb902"/>
<rect x="84.7" y="211.6" width="4.3" height="4.3" fill="#f9df00" stroke="#e0c800"/>
<rect x="197.2" y="125.8" width="4.3" height="4.3" fill="#ef2811" stroke="#d7240f"/>
<rect x="129.0" y="130.4" width="4.3" height="4.3" fill="#f29b0f" stroke="#d98b0d"/>
<rect x="95.3" y="156.1" width="4.3" height="4.3" fill="#f5c803" stroke="#dcb402"/>
<rect x="75.1" y="181.8" width="4.3" height="4.3" fill="#f9e904" stroke="#e0d103"/>
<rect x="52.2" y="222.4" width="4.3" height="4.3" fill="#2020da" stroke="#1c1cc4"/>
<rect x="202.7" y="132.7" width="4.3" height="4.3" fill="#ee2012" stroke="#d61c10"/>
<rect x="65.9" y="219.6" width="4.3" height="4.3" fill="#f8f209" stroke="#dfd908"/>
<rect x="61.3" y="223.7" width="4.3" height="4.3" fill="#b8b850" stroke="#a5a548"/>
<rect x="130.5" y="151.8" width="4.3" height="4.3" fill="#f29910" stroke="#d9890e"/>
<rect x="84.1" y="193.4" width="4.3" height="4.3" fill="#fae000" stroke="#e1c900"/>
<rect x="83.9" y="183.8" width="4.3" height="4.3" fill="#fae000" stroke="#e1c900"/>
<rect x="250.3" y="58.9" width="4.3" height="4.3" fill="#ea130f" stroke="#d2110d"/>
<rect x="202.7" y="96.9" width="4.3" height="4.3" fill="#ee2012" stroke="#d61c10"/>
<rect x="60.3" y="177.0" width="4.3" height="4.3" fill="#8e8e84" stroke="#7f7f76"/>
<rect x="192.7" y="121.4" width="4.3" height="4.3" fill="#f02e10" stroke="#d8290e"/>
<rect x="151.1" y="168.7" width="4.3" height="4.3" fill="#f18010" stroke="#d8730e"/>
<rect x="148.3" y="148.4" width="4.3" height="4.3" fill="#f18310" stroke="#d8750e"/>
<rect x="175.7" y="139.8" width="4.3" height="4.3" fill="#f14e10" stroke="#d8460e"/>
<rect x="76.3" y="168.7" width="4.3" height="4.3" fill="#f9e803" stroke="#e0d002"/>
<rect x="73.9" y="208.6" width="4.3" height="4.3" fill="#f9ea05" stroke="#e0d204"/>
<rect x="156.5" y="132.2" width="4.3" height="4.3" fill="#f17910" stroke="#d86c0e"/>
<rect x="92.5" y="195.7" width="4.3" height="4.3" fill="#f6ce03" stroke="#ddb902"/>
<rect x="107.4" y="220.2" width="4.3" height="4.3" fill="#f3b609" stroke="#daa308"/>
<rect x="174.8" y="127.1" width="4.3" height="4.3" fill="#f15010" stroke="#d8480e"/>
<rect x="64.6" y="171.2" width="4.3" height="4.3" fill="#f8f309" stroke="#dfda08"/>
<rect x="143.8" y="140.5" width="4.3" height="4.3" fill="#f28910" stroke="#d97b0e"/>
<rect x="152.6" y="153.3" width="4.3" height="4.3" fill="#f17e10" stroke="#d8710e"/>
<rect x="70.5" y="174.4" width="4.3" height="4.3" fill="#f9ee06" stroke="#e0d605"/>
<rect x="151.2" y="170.5" width="4.3" height="4.3" fill="#f18010" stroke="#d8730e"/>
<rect x="203.0" y="101.7" width="4.3" height="4.3" fill="#ee2012" stroke="#d61c10"/>
<rect x="217.5" y="78.7" width="4.3" height="4.3" fill="#ed1b11" stroke="#d5180f"/>
<rect x="139.2" y="179.9" width="4.3" height="4.3" fill="#f28e10" stroke="#d97f0e"/>
<rect x="147.6" y="171.2" width="4.3" height="4.3" fill="#f18410" stroke="#d8760e"/>
<rect x="119.7" y="193.5" width="4.3" height="4.3" fill="#f2a50e" stroke="#d9940c"/>
<rect x="192.2" y="123.3" width="4.3" height="4.3" fill="#f02f10" stroke="#d82a0e"/>
<rect x="148.4" y="166.7" width="4.3" height="4.3" fill="#f18310" stroke="#d8750e"/>
<rect x="194.6" y="124.2" width="4.3" height="4.3" fill="#ef2c11" stroke="#d7270f"/>
<rect x="49.5" y="221.7" width="4.3" height="4.3" fill="#2020da" stroke="#1c1cc4"/>
<rect x="62.7" y="169.5" width="4.3" height="4.3" fill="#e3e120" stroke="#ccca1c"/>
<rect x="109.8" y="183.0" width="4.3" height="4.3" fill="#f3b30a" stroke="#daa109"/>
<rect x="109.9" y="209.2" width="4.3" height="4.3" fill="#f3b20a" stroke="#daa009"/>
<rect x="162.6" y="149.8" width="4.3" height="4.3" fill="#f16c10" stroke="#d8610e"/>
<rect x="131.8" y="155.2" width="4.3" height="4.3" fill="#f29710" stroke="#d9870e"/>
<rect x="89.9" y="212.4" width="4.3" height="4.3" fill="#f7d402" stroke="#debe01"/>
<rect x="78.5" y="198.6" width="4.3" height="4.3" fill="#fae602" stroke="#e1cf01"/>
<rect x="116.3" y="157.7" width="4.3" height="4.3" fill="#f2aa0d" stroke="#d9990b"/>
<rect x="149.2" y="125.5" width="4.3" height="4.3" fill="#f18210" stroke="#d8750e"/>
<rect x="77.8" y="161.6" width="4.3" height="4.3" fill="#f9e703" stroke="#e0cf02"/>
<rect x="182.2" y="126.0" width="4.3" height="4.3" fill="#f14110" stroke="#d83a0e"/>
<rect x="174.5" y="103.8" width="4.3" height="4.3" fill="#f15110" stroke="#d8480e"/>
<rect x="149.3" y="173.0" width="4.3" height="4.3" fill="#f18210" stroke="#d8750e"/>
<rect x="99.0" y="147.9" width="4.3" height="4.3" fill="#f4c205" stroke="#dbae04"/>
<rect x="55.8" y="218.5" width="4.3" height="4.3" fill="#2020da" stroke="#1c1cc4"/>
<rect x="107.8" y="223.7" width="4.3" height="4.3" fill="#f3b509" stroke="#daa208"/>
<rect x="132.8" y="216.6" width="4.3" height="4.3" fill="#f29610" stroke="#d9870e"/>
<rect x="140.2" y="131.8" width="4.3" height="4.3" fill="#f28d10" stroke="#d97e0e"/>
<rect x="171.7" y="131.1" width="4.3" height="4.3" fill="#f15810" stroke="#d84f0e"/>
<rect x="94.9" y="202.3" width="4.3" height="4.3" fill="#f5c903" stroke="#dcb402"/>
<rect x="111.7" y="187.5" width="4.3" height="4.3" fill="#f3b00b" stroke="#da9e09"/>
<rect x="200.2" y="99.9" width="4.3" height="4.3" fill="#ef2411" stroke="#d7200f"/>
<rect x="234.1" y="78.6" width="4.3" height="4.3" fill="#eb1710" stroke="#d3140e"/>
<rect x="112.1" y="212.5" width="4.3" height="4.3" fill="#f3af0b" stroke="#da9d09"/>
<rect x="83.3" y="169.0" width="4.3" height="4.3" fill="#fae200" stroke="#e1cb00"/>
<rect x="191.9" y="97.3" width="4.3" height="4.3" fill="#f03010" stroke="#d82b0e"/>
<rect x="145.5" y="123.0" width="4.3" height="4.3" fill="#f18710" stroke="#d8790e"/>
<rect x="178.9" y="157.2" width="4.3" height="4.3" fill="#f14710" stroke="#d83f0e"/>
<rect x="159.9" y="124.1" width="4.3" height="4.3" fill="#f17210" stroke="#d8660e"/>
<rect x="122.1" y="214.9" width="4.3" height="4.3" fill="#f2a20e" stroke="#d9910c"/>
<rect x="198.4" y="96.0" width="4.3" height="4.3" fill="#ef2611" stroke="#d7220f"/>
<rect x="162.6" y="160.1" width="4.3" height="4.3" fill="#f16c10" stroke="#d8610e"/>
<rect x="137.0" y="169.5" width="4.3" height="4.3" fill="#f29110" stroke="#d9820e"/>
<rect x="128.2" y="146.3" width="4.3" height="4.3" fill="#f29b0f" stroke="#d98b0d"/>
<rect x="138.8" y="172.7" width="4.3" height="4.3" fill="#f28f10" stroke="#d9800e"/>
<rect x="46.8" y="212.9" width="4.3" height="4.3" fill="#1f1fda" stroke="#1b1bc4"/>
<rect x="58.5" y="174.6" width="4.3" height="4.3" fill="#4141c4" stroke="#3a3ab0"/>
<rect x="186.9" y="98.8" width="4.3" height="4.3" fill="#f03810" stroke="#d8320e"/>
<rect x="215.1" y="78.5" width="4.3" height="4.3" fill="#ed1b11" stroke="#d5180f"/>
<rect x="213.6" y="83.0" width="4.3" height="4.3" fill="#ed1c11" stroke="#d5190f"/>
<rect x="209.4" y="92.5" width="4.3" height="4.3" fill="#ee1d12" stroke="#d61a10"/>
<rect x="139.9" y="144.7" width="4.3" height="4.3" fill="#f28e10" stroke="#d97f0e"/>
<rect x="179.7" y="143.5" width="4.3" height="4.3" fill="#f14610" stroke="#d83f0e"/>
<rect x="244.4" y="69.9" width="4.3" height="4.3" fill="#ea1410" stroke="#d2120e"/>
<rect x="118.1" y="159.7" width="4.3" height="4.3" fill="#f2a70e" stroke="#d9960c"/>
<rect x="95.9" y="224.5" width="4.3" height="4.3" fill="#f5c704" stroke="#dcb303"/>
<rect x="141.1" y="192.3" width="4.3" height="4.3" fill="#f28c10" stroke="#d97e0e"/>
<rect x="137.8" y="199.8" width="4.3" height="4.3" fill="#f29010" stroke="#d9810e"/>
<rect x="162.0" y="169.4" width="4.3" height="4.3" fill="#f16d10" stroke="#d8620e"/>
<rect x="173.9" y="140.6" width="4.3" height="4.3" fill="#f15210" stroke="#d8490e"/>
<rect x="68.2" y="180.0" width="4.3" height="4.3" fill="#f8f008" stroke="#dfd807"/>
<rect x="92.2" y="187.9" width="4.3" height="4.3" fill="#f6cf03" stroke="#ddba02"/>
<rect x="75.4" y="223.2" width="4.3" height="4.3" fill="#f9e904" stroke="#e0d103"/>
<rect x="172.0" y="159.8" width="4.3" height="4.3" fill="#f15710" stroke="#d84e0e"/>
<rect x="67.7" y="201.4" width="4.3" height="4.3" fill="#f8f008" stroke="#dfd807"/>
<rect x="168.4" y="161.0" width="4.3" height="4.3" fill="#f16010" stroke="#d8560e"/>
<rect x="137.4" y="128.0" width="4.3" height="4.3" fill="#f29110" stroke="#d9820e"/>
<rect x="184.4" y="98.9" width="4.3" height="4.3" fill="#f03d10" stroke="#d8360e"/>
<rect x="112.8" y="126.7" width="4.3" height="4.3" fill="#f3ae0b" stroke="#da9c09"/>
<rect x="217.3" y="87.5" width="4.3" height="4.3" fill="#ed1b11" stroke="#d5180f"/>
<rect x="151.9" y="152.9" width="4.3" height="4.3" fill="#f17f10" stroke="#d8720e"/>
<rect x="136.3" y="152.7" width="4.3" height="4.3" fill="#f29210" stroke="#d9830e"/>
<rect x="200.8" y="108.3" width="4.3" height="4.3" fill="#ef2311" stroke="#d71f0f"/>
<rect x="104.5" y="180.1" width="4.3" height="4.3" fill="#f3ba07" stroke="#daa706"/>
<rect x="123.5" y="210.5" width="4.3" height="4.3" fill="#f2a10f" stroke="#d9900d"/>
<rect x="216.6" y="104.9" width="4.3" height="4.3" fill="#ed1b11" stroke="#d5180f"/>
<rect x="115.0" y="178.0" width="4.3" height="4.3" fill="#f2ab0c" stroke="#d9990a"/>
<rect x="184.3" y="124.0" width="4.3" height="4.3" fill="#f03d10" stroke="#d8360e"/>
<rect x="77.9" y="168.6" width="4.3" height="4.3" fill="#f9e703" stroke="#e0cf02"/>
<rect x="232.0" y="77.3" width="4.3" height="4.3" fill="#eb1710" stroke="#d3140e"/>
<rect x="84.0" y="219.9" width="4.3" height="4.3" fill="#fae000" stroke="#e1c900"/>
<rect x="145.8" y="159.4" width="4.3" height="4.3" fill="#f18610" stroke="#d8780e"/>
<rect x="97.5" y="197.4" width="4.3" height="4.3" fill="#f4c404" stroke="#dbb003"/>
<rect x="135.2" y="158.7" width="4.3" height="4.3" fill="#f29310" stroke="#d9840e"/>
<rect x="136.1" y="158.2" width="4.3" height="4.3" fill="#f29210" stroke="#d9830e"/>
<rect x="41.8" y="235.7" width="4.3" height="4.3" fill="#1f1fda" stroke="#1b1bc4"/>
<rect x="62.2" y="183.8" width="4.3" height="4.3" fill="#d5d42f" stroke="#bfbe2a"/>
<rect x="205.6" y="88.3" width="4.3" height="4.3" fill="#ee1e12" stroke="#d61b10"/>
<rect x="76.4" y="152.9" width="4.3" height="4.3" fill="#f9e803" stroke="#e0d002"/>
<rect x="209.3" y="92.3" width="4.3" height="4.3" fill="#ee1d12" stroke="#d61a10"/>
<rect x="175.5" y="103.7" width="4.3" height="4.3" fill="#f14e10" stroke="#d8460e"/>
<rect x="228.6" y="78.2" width="4.3" height="4.3" fill="#ec1810" stroke="#d4150e"/>
<rect x="203.9" y="114.0" width="4.3" height="4.3" fill="#ee1f12" stroke="#d61b10"/>
<rect x="88.9" y="222.8" width="4.3" height="4.3" fill="#f8d602" stroke="#dfc001"/>
<rect x="148.1" y="120.1" width="4.3" height="4.3" fill="#f18410" stroke="#d8760e"/>
<rect x="78.7" y="208.5" width="4.3" height="4.3" fill="#fae602" stroke="#e1cf01"/>
<rect x="98.8" y="185.0" width="4.3" height="4.3" fill="#f4c205" stroke="#dbae04"/>
<rect x="231.1" y="81.4" width="4.3" height="4.3" fill="#ec1710" stroke="#d4140e"/>
<rect x="193.6" y="98.8" width="4.3" height="4.3" fill="#f02d10" stroke="#d8280e"/>
<rect x="57.7" y="219.7" width="4.3" height="4.3" fill="#2020da" stroke="#1c1cc4"/>
<rect x="95.8" y="209.3" width="4.3" height="4.3" fill="#f5c704" stroke="#dcb303"/>
<rect x="130.2" y="174.5" width="4.3" height="4.3" fill="#f29910" stroke="#d9890e"/>
<rect x="101.0" y="186.3" width="4.3" height="4.3" fill="#f4bf06" stroke="#dbab05"/>
<rect x="77.2" y="222.1" width="4.3" height="4.3" fill="#f9e703" stroke="#e0cf02"/>
<rect x="128.5" y="145.6" width="4.3" height="4.3" fill="#f29b0f" stroke="#d98b0d"/>
<rect x="116.3" y="158.6" width="4.3" height="4.3" fill="#f2aa0d" stroke="#d9990b"/>
<rect x="176.2" y="91.1" width="4.3" height="4.3" fill="#f14d10" stroke="#d8450e"/>
<rect x="61.3" y="229.5" width="4.3" height="4.3" fill="#b7b751" stroke="#a4a448"/>
<rect x="178.1" y="112.5" width="4.3" height="4.3" fill="#f14910" stroke="#d8410e"/>
<rect x="90.5" y="201.8" width="4.3" height="4.3" fill="#f7d202" stroke="#debd01"/>
<rect x="176.6" y="128.2" width="4.3" height="4.3" fill="#f14c10" stroke="#d8440e"/>
<rect x="187.5" y="148.1" width="4.3" height="4.3" fill="#f03710" stroke="#d8310e"/>
<rect x="164.8" y="115.9" width="4.3" height="4.3" fill="#f16710" stroke="#d85c0e"/>
<rect x="135.6" y="153.7" width="4.3" height="4.3" fill="#f29310" stroke="#d9840e"/>
<rect x="182.6" y="134.9" width="4.3" height="4.3" fill="#f14010" stroke="#d8390e"/>
<rect x="84.1" y="181.5" width="4.3" height="4.3" fill="#fae000" stroke="#e1c900"/>
<rect x="77.7" y="198.6" width="4.3" height="4.3" fill="#f9e703" stroke="#e0cf02"/>
<rect x="209.4" y="112.7" width="4.3" height="4.3" fill="#ee1d12" stroke="#d61a10"/>
<rect x="200.8" y="91.2" width="4.3" height="4.3" fill="#ef2311" stroke="#d71f0f"/>
<rect x="123.8" y="206.5" width="4.3" height="4.3" fill="#f2a00f" stroke="#d9900d"/>
<rect x="119.3" y="157.8" width="4.3" height="4.3" fill="#f2a50e" stroke="#d9940c"/>
<rect x="187.8" y="131.3" width="4.3" height="4.3" fill="#f03610" stroke="#d8300e"/>
<rect x="167.1" y="157.8" width="4.3" height="4.3" fill="#f16210" stroke="#d8580e"/>
<rect x="126.9" y="127.5" width="4.3" height="4.3" fill="#f29d0f" stroke="#d98d0d"/>
<rect x="49.9" y="223.4" width="4.3" height="4.3" fill="#2020da" stroke="#1c1cc4"/>
<rect x="105.9" y="218.0" width="4.3" height="4.3" fill="#f3b808" stroke="#daa507"/>
<rect x="124.0" y="163.3" width="4.3" height="4.3" fill="#f2a00f" stroke="#d9900d"/>
<rect x="134.5" y="195.1" width="4.3" height="4.3" fill="#f29410" stroke="#d9850e"/>
<rect x="159.8" y="130.0" width="4.3" height="4.3" fill="#f17210" stroke="#d8660e"/>
<rect x="96.3" y="173.2" width="4.3" height="4.3" fill="#f4c604" stroke="#dbb203"/>
<rect x="145.2" y="135.1" width="4.3" height="4.3" fill="#f18710" stroke="#d8790e"/>
<rect x="160.2" y="135.4" width="4.3" height="4.3" fill="#f17110" stroke="#d8650e"/>
<rect x="80.4" y="198.6" width="4.3" height="4.3" fill="#fae501" stroke="#e1ce00"/>
<rect x="173.9" y="101.5" width="4.3" height="4.3" fill="#f15210" stroke="#d8490e"/>
<rect x="194.2" y="117.9" width="4.3" height="4.3" fill="#ef2c11" stroke="#d7270f"/>
<rect x="225.0" y="80.6" width="4.3" height="4.3" fill="#ec1911" stroke="#d4160f"/>
<rect x="86.9" y="159.1" width="4.3" height="4.3" fill="#f8da01" stroke="#dfc400"/>
<rect x="96.9" y="191.5" width="4.3" height="4.3" fill="#f4c504" stroke="#dbb103"/>
<rect x="154.7" y="177.4" width="4.3" height="4.3" fill="#f17b10" stroke="#d86e0e"/>
<rect x="186.8" y="125.6" width="4.3" height="4.3" fill="#f03810" stroke="#d8320e"/>
<rect x="98.0" y="175.3" width="4.3" height="4.3" fill="#f4c304" stroke="#dbaf03"/>
<rect x="76.6" y="159.7" width="4.3" height="4.3" fill="#f9e803" stroke="#e0d002"/>
<rect x="178.2" y="129.5" width="4.3" height="4.3" fill="#f14810" stroke="#d8400e"/>
<rect x="70.5" y="149.7" width="4.3" height="4.3" fill="#f9ee06" stroke="#e0d605"/>
<rect x="89.1" y="173.2" width="4.3" height="4.3" fill="#f7d502" stroke="#debf01"/>
<rect x="142.6" y="165.6" width="4.3" height="4.3" fill="#f28a10" stroke="#d97c0e"/>
<rect x="164.5" y="136.8" width="4.3" height="4.3" fill="#f16810" stroke="#d85d0e"/>
<rect x="146.1" y="155.0" width="4.3" height="4.3" fill="#f18610" stroke="#d8780e"/>
<rect x="156.0" y="124.4" width="4.3" height="4.3" fill="#f17a10" stroke="#d86d0e"/>
<rect x="126.9" y="220.5" width="4.3" height="4.3" fill="#f29d0f" stroke="#d98d0d"/>
<rect x="220.7" y="96.1" width="4.3" height="4.3" fill="#ec1a11" stroke="#d4170f"/>
<rect x="50.8" y="182.1" width="4.3" height="4.3" fill="#2020da" stroke="#1c1cc4"/>
<rect x="159.1" y="152.4" width="4.3" height="4.3" fill="#f17310" stroke="#d8670e"/>
<rect x="138.6" y="195.7" width="4.3" height="4.3" fill="#f28f10" stroke="#d9800e"/>
<rect x="106.8" y="220.1" width="4.3" height="4.3" fill="#f3b708" stroke="#daa407"/>
<rect x="115.5" y="119.7" width="4.3" height="4.3" fill="#f2ab0c" stroke="#d9990a"/>
<rect x="48.1" y="201.2" width="4.3" height="4.3" fill="#2020da" stroke="#1c1cc4"/>
<rect x="206.3" y="81.6" width="4.3" height="4.3" fill="#ee1e12" stroke="#d61b10"/>
<rect x="98.9" y="168.9" width="4.3" height="4.3" fill="#f4c205" stroke="#dbae04"/>
<rect x="80.6" y="186.2" width="4.3" height="4.3" fill="#fae401" stroke="#e1cd00"/>
<rect x="207.0" y="108.9" width="4.3" height="4.3" fill="#ee1d12" stroke="#d61a10"/>
<rect x="146.3" y="120.7" width="4.3" height="4.3" fill="#f18610" stroke="#d8780e"/>
<rect x="70.8" y="217.1" width="4.3" height="4.3" fill="#f9ed06" stroke="#e0d505"/>
<rect x="184.0" y="93.2" width="4.3" height="4.3" fill="#f03e10" stroke="#d8370e"/>
<rect x="183.4" y="126.1" width="4.3" height="4.3" fill="#f13f10" stroke="#d8380e"/>
<rect x="190.2" y="100.4" width="4.3" height="4.3" fill="#f03210" stroke="#d82d0e"/>
<rect x="181.9" y="100.7" width="4.3" height="4.3" fill="#f14110" stroke="#d83a0e"/>
<rect x="143.2" y="124.5" width="4.3" height="4.3" fill="#f28a10" stroke="#d97c0e"/>
<rect x="95.0" y="159.8" width="4.3" height="4.3" fill="#f5c903" stroke="#dcb402"/>
<rect x="220.4" y="78.6" width="4.3" height="4.3" fill="#ed1a11" stroke="#d5170f"/>
<rect x="160.2" y="135.2" width="4.3" height="4.3" fill="#f17110" stroke="#d8650e"/>
<rect x="94.6" y="165.0" width="4.3" height="4.3" fill="#f5ca03" stroke="#dcb502"/>
<rect x="150.9" y="142.2" width="4.3" height="4.3" fill="#f18010" stroke="#d8730e"/>
<rect x="144.0" y="126.6" width="4.3" height="4.3" fill="#f28910" stroke="#d97b0e"/>
<rect x="81.2" y="153.5" width="4.3" height="4.3" fill="#fae401" stroke="#e1cd00"/>
<rect x="77.8" y="164.7" width="4.3" height="4.3" fill="#f9e703" stroke="#e0cf02"/>
<rect x="137.4" y="134.6" width="4.3" height="4.3" fill="#f29110" stroke="#d9820e"/>
<rect x="145.5" y="176.2" width="4.3" height="4.3" fill="#f18710" stroke="#d8790e"/>
<rect x="221.7" y="90.4" width="4.3" height="4.3" fill="#ec1a11" stroke="#d4170f"/>
<rect x="142.7" y="137.2" width="4.3" height="4.3" fill="#f28a10" stroke="#d97c0e"/>
<rect x="66.3" y="179.3" width="4.3" height="4.3" fill="#f8f109" stroke="#dfd808"/>
<rect x="114.3" y="127.5" width="4.3" height="4.3" fill="#f2ac0c" stroke="#d99a0a"/>
<rect x="106.9" y="147.4" width="4.3" height="4.3" fill="#f3b708" stroke="#daa407"/>
<rect x="162.9" y="150.7" width="4.3" height="4.3" fill="#f16b10" stroke="#d8600e"/>
<rect x="165.6" y="137.8" width="4.3" height="4.3" fill="#f16610" stroke="#d85b0e"/>
<rect x="123.1" y="223.2" width="4.3" height="4.3" fill="#f2a10f" stroke="#d9900d"/>
<rect x="161.1" y="114.7" width="4.3" height="4.3" fill="#f16f10" stroke="#d8630e"/>
<rect x="96.9" y="169.8" width="4.3" height="4.3" fill="#f4c504" stroke="#dbb103"/>
<rect x="238.6" y="77.1" width="4.3" height="4.3" fill="#eb1510" stroke="#d3120e"/>
<rect x="119.5" y="220.8" width="4.3" height="4.3" fill="#f2a50e" stroke="#d9940c"/>
<rect x="110.1" y="200.2" width="4.3" height="4.3" fill="#f3b20a" stroke="#daa009"/>
<rect x="57.4" y="226.8" width="4.3" height="4.3" fill="#2020da" stroke="#1c1cc4"/>
<rect x="142.1" y="193.6" width="4.3" height="4.3" fill="#f28b10" stroke="#d97d0e"/>
<rect x="91.5" y="156.4" width="4.3" height="4.3" fill="#f6d002" stroke="#ddbb01"/>
<rect x="118.3" y="203.0" width="4.3" height="4.3" fill="#f2a70e" stroke="#d9960c"/>
<rect x="52.6" y="207.5" width="4.3" height="4.3" fill="#2020da" stroke="#1c1cc4"/>
<rect x="73.6" y="217.9" width="4.3" height="4.3" fill="#f9eb05" stroke="#e0d304"/>
<rect x="113.4" y="139.6" width="4.3" height="4.3" fill="#f3ae0b" stroke="#da9c09"/>
<rect x="163.6" y="147.5" width="4.3" height="4.3" fill="#f16a10" stroke="#d85f0e"/>
<rect x="85.0" y="169.3" width="4.3" height="4.3" fill="#f9de01" stroke="#e0c700"/>
<rect x="174.4" y="123.1" width="4.3" height="4.3" fill="#f15110" stroke="#d8480e"/>
<rect x="60.2" y="177.9" width="4.3" height="4.3" fill="#89898a" stroke="#7b7b7c"/>
<rect x="83.9" y="215.9" width="4.3" height="4.3" fill="#fae000" stroke="#e1c900"/>
<rect x="57.4" y="190.4" width="4.3" height="4.3" fill="#2020da" stroke="#1c1cc4"/>
<rect x="44.2" y="233.5" width="4.3" height="4.3" fill="#1f1fda" stroke="#1b1bc4"/>
<rect x="72.5" y="205.6" width="4.3" height="4.3" fill="#f9ec05" stroke="#e0d404"/>
<rect x="163.9" y="105.3" width="4.3" height="4.3" fill="#f16910" stroke="#d85e0e"/>
<rect x="234.8" y="68.7" width="4.3" height="4.3" fill="#eb1610" stroke="#d3130e"/>
<rect x="179.1" y="104.6" width="4.3" height="4.3" fill="#f14710" stroke="#d83f0e"/>
<rect x="145.4" y="147.9" width="4.3" height="4.3" fill="#f18710" stroke="#d8790e"/>
<rect x="112.4" y="208.9" width="4.3" height="4.3" fill="#f3af0b" stroke="#da9d09"/>
<rect x="230.9" y="70.1" width="4.3" height="4.3" fill="#ec1710" stroke="#d4140e"/>
<rect x="115.8" y="188.9" width="4.3" height="4.3" fill="#f2aa0d" stroke="#d9990b"/>
<rect x="190.2" y="108.6" width="4.3" height="4.3" fill="#f03210" stroke="#d82d0e"/>
<rect x="125.3" y="187.1" width="4.3" height="4.3" fill="#f29f0f" stroke="#d98f0d"/>
<rect x="77.0" y="180.1" width="4.3" height="4.3" fill="#f9e803" stroke="#e0d002"/>
<rect x="115.8" y="180.5" width="4.3" height="4.3" fill="#f2aa0d" stroke="#d9990b"/>
<rect x="142.5" y="133.0" width="4.3" height="4.3" fill="#f28a10" stroke="#d97c0e"/>
<rect x="63.7" y="199.2" width="4.3" height="4.3" fill="#f8f40a" stroke="#dfdb09"/>
<rect x="64.9" y="205.3" width="4.3" height="4.3" fill="#f8f309" stroke="#dfda08"/>
<rect x="72.9" y="211.1" width="4.3" height="4.3" fill="#f9eb05" stroke="#e0d304"/>
<rect x="65.2" y="201.7" width="4.3" height="4.3" fill="#f8f209" stroke="#dfd908"/>
<rect x="48.5" y="222.7" width="4.3" height="4.3" fill="#2020da" stroke="#1c1cc4"/>
<rect x="99.5" y="165.4" width="4.3" height="4.3" fill="#f4c105" stroke="#dbad04"/>
<rect x="102.6" y="199.9" width="4.3" height="4.3" fill="#f4bd06" stroke="#dbaa05"/>
<rect x="87.0" y="207.6" width="4.3" height="4.3" fill="#f8da01" stroke="#dfc400"/>
<rect x="108.2" y="166.7" width="4.3" height="4.3" fill="#f3b509" stroke="#daa208"/>
<rect x="203.1" y="82.9" width="4.3" height="4.3" fill="#ee2012" stroke="#d61c10"/>
<rect x="53.9" y="188.6" width="4.3" height="4.3" fill="#2020da" stroke="#1c1cc4"/>
<rect x="143.9" y="168.7" width="4.3" height="4.3" fill="#f28910" stroke="#d97b0e"/>
<rect x="204.8" y="116.7" width="4.3" height="4.3" fill="#ee1e12" stroke="#d61b10"/>
<rect x="69.3" y="163.4" width="4.3" height="4.3" fill="#f9ef07" stroke="#e0d706"/>
<rect x="103.9" y="186.9" width="4.3" height="4.3" fill="#f3bb07" stroke="#daa806"/>
<rect x="79.5" y="223.8" width="4.3" height="4.3" fill="#fae502" stroke="#e1ce01"/>
<rect x="160.8" y="168.6" width="4.3" height="4.3" fill="#f17010" stroke="#d8640e"/>
<rect x="122.7" y="174.2" width="4.3" height="4.3" fill="#f2a20f" stroke="#d9910d"/>
<rect x="78.9" y="198.0" width="4.3" height="4.3" fill="#fae602" stroke="#e1cf01"/>
<rect x="143.4" y="188.1" width="4.3" height="4.3" fill="#f28910" stroke="#d97b0e"/>
<rect x="112.0" y="149.5" width="4.3" height="4.3" fill="#f3b00b" stroke="#da9e09"/>
<rect x="131.1" y="170.0" width="4.3" height="4.3" fill="#f29810" stroke="#d9880e"/>
<rect x="101.7" y="141.7" width="4.3" height="4.3" fill="#f4be06" stroke="#dbab05"/>
<rect x="61.3" y="219.3" width="4.3" height="4.3" fill="#b8b850" stroke="#a5a548"/>
<rect x="99.4" y="195.8" width="4.3" height="4.3" fill="#f4c105" stroke="#dbad04"/>
<rect x="219.0" y="88.8" width="4.3" height="4.3" fill="#ed1a11" stroke="#d5170f"/>
<rect x="94.9" y="186.1" width="4.3" height="4.3" fill="#f5c903" stroke="#dcb402"/>
<rect x="91.2" y="151.0" width="4.3" height="4.3" fill="#f7d102" stroke="#debc01"/>
<rect x="53.4" y="216.0" width="4.3" height="4.3" fill="#2020da" stroke="#1c1cc4"/>
<rect x="134.0" y="158.1" width="4.3" height="4.3" fill="#f29510" stroke="#d9860e"/>
<rect x="131.4" y="151.4" width="4.3" height="4.3" fill="#f29810" stroke="#d9880e"/>
<rect x="217.7" y="86.8" width="4.3" height="4.3" fill="#ed1b11" stroke="#d5180f"/>
<rect x="113.1" y="191.8" width="4.3" height="4.3" fill="#f3ae0b" stroke="#da9c09"/>
<rect x="127.4" y="201.4" width="4.3" height="4.3" fill="#f29c0f" stroke="#d98c0d"/>
<rect x="113.9" y="185.2" width="4.3" height="4.3" fill="#f2ad0c" stroke="#d99b0a"/>
<rect x="100.9" y="179.2" width="4.3" height="4.3" fill="#f4bf06" stroke="#dbab05"/>
<rect x="201.7" y="125.7" width="4.3" height="4.3" fill="#ee2212" stroke="#d61e10"/>
<rect x="141.4" y="156.6" width="4.3" height="4.3" fill="#f28c10" stroke="#d97e0e"/>
<rect x="128.4" y="186.6" width="4.3" height="4.3" fill="#f29b0f" stroke="#d98b0d"/>
<rect x="133.1" y="208.9" width="4.3" height="4.3" fill="#f29610" stroke="#d9870e"/>
<rect x="111.7" y="155.5" width="4.3" height="4.3" fill="#f3b00b" stroke="#da9e09"/>
<rect x="161.6" y="146.2" width="4.3" height="4.3" fill="#f16e10" stroke="#d8630e"/>
<rect x="219.9" y="80.3" width="4.3" height="4.3" fill="#ed1a11" stroke="#d5170f"/>
<rect x="84.8" y="134.8" width="4.3" height="4.3" fill="#f9df00" stroke="#e0c800"/>
<rect x="127.1" y="123.3" width="4.3" height="4.3" fill="#f29d0f" stroke="#d98d0d"/>
<rect x="59.8" y="182.8" width="4.3" height="4.3" fill="#7c7c9b" stroke="#6f6f8b"/>
<rect x="121.7" y="159.4" width="4.3" height="4.3" fill="#f2a30e" stroke="#d9920c"/>
<rect x="206.9" y="104.7" width="4.3" height="4.3" fill="#ee1d12" stroke="#d61a10"/>
<rect x="47.9" y="203.1" width="4.3" height="4.3" fill="#1f1fda" stroke="#1b1bc4"/>
<rect x="68.3" y="222.6" width="4.3" height="4.3" fill="#f8f008" stroke="#dfd807"/>
<rect x="187.3" y="110.9" width="4.3" height="4.3" fill="#f03710" stroke="#d8310e"/>
<rect x="52.1" y="191.8" width="4.3" height="4.3" fill="#2020da" stroke="#1c1cc4"/>
<rect x="77.3" y="154.7" width="4.3" height="4.3" fill="#f9e703" stroke="#e0cf02"/>
<rect x="175.0" y="155.7" width="4.3" height="4.3" fill="#f15010" stroke="#d8480e"/>
<rect x="133.9" y="214.8" width="4.3" height="4.3" fill="#f29510" stroke="#d9860e"/>
<rect x="142.0" y="152.4" width="4.3" height="4.3" fill="#f28b10" stroke="#d97d0e"/>
<rect x="94.7" y="192.6" width="4.3" height="4.3" fill="#f5ca03" stroke="#dcb502"/>
<rect x="94.7" y="198.5" width="4.3" height="4.3" fill="#f5ca03" stroke="#dcb502"/>
<rect x="131.0" y="198.1" width="4.3" height="4.3" fill="#f29810" stroke="#d9880e"/>
<rect x="140.2" y="185.2" width="4.3" height="4.3" fill="#f28d10" stroke="#d97e0e"/>
<rect x="134.1" y="158.3" width="4.3" height="4.3" fill="#f29510" stroke="#d9860e"/>
<rect x="217.7" y="92.9" width="4.3" height="4.3" fill="#ed1b11" stroke="#d5180f"/>
<rect x="78.7" y="192.8" width="4.3" height="4.3" fill="#fae602" stroke="#e1cf01"/>
<rect x="202.7" y="84.8" width="4.3" height="4.3" fill="#ee2012" stroke="#d61c10"/>
<rect x="166.2" y="102.3" width="4.3" height="4.3" fill="#f16410" stroke="#d85a0e"/>
<rect x="176.9" y="126.9" width="4.3" height="4.3" fill="#f14b10" stroke="#d8430e"/>
<rect x="45.3" y="234.5" width="4.3" height="4.3" fill="#1f1fda" stroke="#1b1bc4"/>
<rect x="167.5" y="143.9" width="4.3" height="4.3" fill="#f16210" stroke="#d8580e"/>
<rect x="109.1" y="213.5" width="4.3" height="4.3" fill="#f3b409" stroke="#daa208"/>
<rect x="143.2" y="171.7" width="4.3" height="4.3" fill="#f28a10" stroke="#d97c0e"/>
<rect x="158.3" y="118.9" width="4.3" height="4.3" fill="#f17510" stroke="#d8690e"/>
<rect x="198.0" y="101.9" width="4.3" height="4.3" fill="#ef2711" stroke="#d7230f"/>
<rect x="157.6" y="122.8" width="4.3" height="4.3" fill="#f17610" stroke="#d86a0e"/>
<rect x="181.2" y="96.3" width="4.3" height="4.3" fill="#f14310" stroke="#d83c0e"/>
<rect x="73.7" y="230.2" width="4.3" height="4.3" fill="#f9eb05" stroke="#e0d304"/>
<rect x="151.4" y="153.3" width="4.3" height="4.3" fill="#f18010" stroke="#d8730e"/>
<rect x="131.0" y="161.2" width="4.3" height="4.3" fill="#f29810" stroke="#d9880e"/>
<rect x="237.6" y="65.5" width="4.3" height="4.3" fill="#eb1610" stroke="#d3130e"/>
<rect x="67.6" y="212.8" width="4.3" height="4.3" fill="#f8f008" stroke="#dfd807"/>
<rect x="114.3" y="207.5" width="4.3" height="4.3" fill="#f2ac0c" stroke="#d99a0a"/>
<rect x="130.3" y="133.3" width="4.3" height="4.3" fill="#f29910" stroke="#d9890e"/>
<rect x="225.5" y="84.4" width="4.3" height="4.3" fill="#ec1911" stroke="#d4160f"/>
<rect x="214.1" y="105.0" width="4.3" height="4.3" fill="#ed1c11" stroke="#d5190f"/>
<rect x="133.6" y="172.7" width="4.3" height="4.3" fill="#f29510" stroke="#d9860e"/>
<rect x="82.2" y="185.1" width="4.3" height="4.3" fill="#fae300" stroke="#e1cc00"/>
<rect x="106.9" y="137.4" width="4.3" height="4.3" fill="#f3b708" stroke="#daa407"/>
<rect x="102.1" y="224.3" width="4.3" height="4.3" fill="#f4bd06" stroke="#dbaa05"/>
<rect x="182.3" y="117.0" width="4.3" height="4.3" fill="#f14110" stroke="#d83a0e"/>
<rect x="148.7" y="132.1" width="4.3" height="4.3" fill="#f18310" stroke="#d8750e"/>
<rect x="67.9" y="184.4" width="4.3" height="4.3" fill="#f8f008" stroke="#dfd807"/>
<rect x="94.9" y="195.0" width="4.3" height="4.3" fill="#f5c903" stroke="#dcb402"/>
<rect x="200.9" y="119.9" width="4.3" height="4.3" fill="#ee2312" stroke="#d61f10"/>
<rect x="86.1" y="159.1" width="4.3" height="4.3" fill="#f9dc01" stroke="#e0c600"/>
<rect x="185.6" y="91.0" width="4.3" height="4.3" fill="#f03a10" stroke="#d8340e"/>
<rect x="78.2" y="175.6" width="4.3" height="4.3" fill="#f9e703" stroke="#e0cf02"/>
<rect x="107.8" y="166.0" width="4.3" height="4.3" fill="#f3b509" stroke="#daa208"/>
<rect x="142.4" y="208.7" width="4.3" height="4.3" fill="#f28b10" stroke="#d97d0e"/>
<rect x="210.3" y="91.1" width="4.3" height="4.3" fill="#ed1d12" stroke="#d51a10"/>
<rect x="50.0" y="218.4" width="4.3" height="4.3" fill="#2020da" stroke="#1c1cc4"/>
<rect x="186.7" y="125.6" width="4.3" height="4.3" fill="#f03910" stroke="#d8330e"/>
<rect x="92.4" y="177.8" width="4.3" height="4.3" fill="#f6ce03" stroke="#ddb902"/>
<rect x="135.2" y="193.5" width="4.3" height="4.3" fill="#f29310" stroke="#d9840e"/>
<rect x="114.6" y="216.7" width="4.3" height="4.3" fill="#f2ac0c" stroke="#d99a0a"/>
<rect x="101.7" y="219.4" width="4.3" height="4.3" fill="#f4be06" stroke="#dbab05"/>
<rect x="65.7" y="213.2" width="4.3" height="4.3" fill="#f8f209" stroke="#dfd908"/>
<rect x="146.3" y="177.0" width="4.3" height="4.3" fill="#f18610" stroke="#d8780e"/>
<rect x="147.1" y="152.0" width="4.3" height="4.3" fill="#f18510" stroke="#d8770e"/>
<rect x="179.8" y="116.8" width="4.3" height="4.3" fill="#f14510" stroke="#d83e0e"/>
<rect x="191.0" y="131.6" width="4.3" height="4.3" fill="#f03110" stroke="#d82c0e"/>
<rect x="89.6" y="184.5" width="4.3" height="4.3" fill="#f7d402" stroke="#debe01"/>
<rect x="74.7" y="193.9" width="4.3" height="4.3" fill="#f9ea04" stroke="#e0d203"/>
<rect x="176.8" y="136.0" width="4.3" height="4.3" fill="#f14b10" stroke="#d8430e"/>
<rect x="166.5" y="166.8" width="4.3" height="4.3" fill="#f16410" stroke="#d85a0e"/>
<rect x="219.8" y="97.8" width="4.3" height="4.3" fill="#ed1a11" stroke="#d5170f"/>
<rect x="167.5" y="91.9" width="4.3" height="4.3" fill="#f16210" stroke="#d8580e"/>
<rect x="98.2" y="175.0" width="4.3" height="4.3" fill="#f4c304" stroke="#dbaf03"/>
<rect x="152.5" y="171.9" width="4.3" height="4.3" fill="#f17e10" stroke="#d8710e"/>
<rect x="151.9" y="147.1" width="4.3" height="4.3" fill="#f17f10" stroke="#d8720e"/>
<rect x="155.3" y="127.8" width="4.3" height="4.3" fill="#f17b10" stroke="#d86e0e"/>
<rect x="136.6" y="200.1" width="4.3" height="4.3" fill="#f29210" stroke="#d9830e"/>
<rect x="57.2" y="185.2" width="4.3" height="4.3" fill="#2020da" stroke="#1c1cc4"/>
<rect x="121.9" y="190.5" width="4.3" height="4.3" fill="#f2a30e" stroke="#d9920c"/>
<rect x="119.4" y="184.3" width="4.3" height="4.3" fill="#f2a50e" stroke="#d9940c"/>
<rect x="176.6" y="149.4" width="4.3" height="4.3" fill="#f14c10" stroke="#d8440e"/>
<rect x="87.8" y="221.1" width="4.3" height="4.3" fill="#f8d801" stroke="#dfc200"/>
<rect x="55.5" y="186.5" width="4.3" height="4.3" fill="#2020da" stroke="#1c1cc4"/>
<rect x="131.4" y="217.1" width="4.3" height="4.3" fill="#f29810" stroke="#d9880e"/>
<rect x="199.6" y="120.4" width="4.3" height="4.3" fill="#ef2511" stroke="#d7210f"/>
<rect x="131.7" y="137.5" width="4.3" height="4.3" fill="#f29810" stroke="#d9880e"/>
<rect x="59.8" y="163.7" width="4.3" height="4.3" fill="#7b7b9c" stroke="#6e6e8c"/>
<rect x="101.0" y="167.0" width="4.3" height="4.3" fill="#f4bf06" stroke="#dbab05"/>
<rect x="65.3" y="219.1" width="4.3" height="4.3" fill="#f8f209" stroke="#dfd908"/>
<rect x="121.5" y="200.2" width="4.3" height="4.3" fill="#f2a30e" stroke="#d9920c"/>
<rect x="65.9" y="225.8" width="4.3" height="4.3" fill="#f8f209" stroke="#dfd908"/>
<rect x="95.7" y="190.7" width="4.3" height="4.3" fill="#f5c804" stroke="#dcb403"/>
<rect x="57.3" y="203.4" width="4.3" height="4.3" fill="#2020da" stroke="#1c1cc4"/>
<rect x="71.9" y="223.6" width="4.3" height="4.3" fill="#f9ec06" stroke="#e0d405"/>
<rect x="96.7" y="150.6" width="4.3" height="4.3" fill="#f4c504" stroke="#dbb103"/>
<rect x="232.8" y="77.0" width="4.3" height="4.3" fill="#eb1710" stroke="#d3140e"/>
<rect x="172.7" y="124.9" width="4.3" height="4.3" fill="#f15510" stroke="#d84c0e"/>
<rect x="128.0" y="221.2" width="4.3" height="4.3" fill="#f29c0f" stroke="#d98c0d"/>
<rect x="60.8" y="226.0" width="4.3" height="4.3" fill="#a5a568" stroke="#94945d"/>
<rect x="140.4" y="140.5" width="4.3" height="4.3" fill="#f28d10" stroke="#d97e0e"/>
<rect x="148.3" y="150.1" width="4.3" height="4.3" fill="#f18310" stroke="#d8750e"/>
<rect x="227.5" y="73.3" width="4.3" height="4.3" fill="#ec1811" stroke="#d4150f"/>
<rect x="67.1" y="206.7" width="4.3" height="4.3" fill="#f8f108" stroke="#dfd807"/>
<rect x="92.9" y="145.4" width="4.3" height="4.3" fill="#f6ce03" stroke="#ddb902"/>
<rect x="104.6" y="148.3" width="4.3" height="4.3" fill="#f3ba07" stroke="#daa706"/>
<rect x="163.2" y="114.0" width="4.3" height="4.3" fill="#f16b10" stroke="#d8600e"/>
<rect x="140.7" y="184.6" width="4.3" height="4.3" fill="#f28d10" stroke="#d97e0e"/>
<rect x="59.9" y="153.3" width="4.3" height="4.3" fill="#7f7f98" stroke="#727288"/>
<rect x="129.7" y="199.4" width="4.3" height="4.3" fill="#f29a10" stroke="#d98a0e"/>
<rect x="203.2" y="112.8" width="4.3" height="4.3" fill="#ee2012" stroke="#d61c10"/>
<rect x="102.1" y="223.4" width="4.3" height="4.3" fill="#f4bd06" stroke="#dbaa05"/>
<rect x="134.8" y="165.5" width="4.3" height="4.3" fill="#f29410" stroke="#d9850e"/>
<rect x="116.0" y="187.1" width="4.3" height="4.3" fill="#f2aa0d" stroke="#d9990b"/>
<rect x="209.3" y="125.3" width="4.3" height="4.3" fill="#ee1d12" stroke="#d61a10"/>
<rect x="77.4" y="200.7" width="4.3" height="4.3" fill="#f9e703" stroke="#e0cf02"/>
<rect x="73.0" y="166.0" width="4.3" height="4.3" fill="#f9eb05" stroke="#e0d304"/>
<rect x="73.3" y="146.8" width="4.3" height="4.3" fill="#f9eb05" stroke="#e0d304"/>
<rect x="58.5" y="226.5" width="4.3" height="4.3" fill="#4242c3" stroke="#3b3baf"/>
<rect x="68.7" y="191.3" width="4.3" height="4.3" fill="#f9ef07" stroke="#e0d706"/>
<rect x="80.7" y="188.7" width="4.3" height="4.3" fill="#fae401" stroke="#e1cd00"/>
<rect x="98.7" y="180.5" width="4.3" height="4.3" fill="#f4c205" stroke="#dbae04"/>
<rect x="163.8" y="109.1" width="4.3" height="4.3" fill="#f16910" stroke="#d85e0e"/>
<rect x="80.8" y="198.3" width="4.3" height="4.3" fill="#fae401" stroke="#e1cd00"/>
<rect x="191.9" y="86.7" width="4.3" height="4.3" fill="#f03010" stroke="#d82b0e"/>
<rect x="212.7" y="76.7" width="4.3" height="4.3" fill="#ed1c11" stroke="#d5190f"/>
<rect x="102.0" y="214.8" width="4.3" height="4.3" fill="#f4bd06" stroke="#dbaa05"/>
<rect x="153.7" y="166.4" width="4.3" height="4.3" fill="#f17d10" stroke="#d8700e"/>
<rect x="37.5" y="237.6" width="4.3" height="4.3" fill="#1f1fda" stroke="#1b1bc4"/>
<rect x="145.7" y="126.8" width="4.3" height="4.3" fill="#f18610" stroke="#d8780e"/>
<rect x="94.8" y="193.7" width="4.3" height="4.3" fill="#f5c903" stroke="#dcb402"/>
<rect x="104.1" y="151.3" width="4.3" height="4.3" fill="#f3bb07" stroke="#daa806"/>
<rect x="134.0" y="173.9" width="4.3" height="4.3" fill="#f29510" stroke="#d9860e"/>
<rect x="249.3" y="69.9" width="4.3" height="4.3" fill="#ea130f" stroke="#d2110d"/>
<rect x="149.9" y="122.0" width="4.3" height="4.3" fill="#f18110" stroke="#d8740e"/>
<rect x="146.4" y="208.8" width="4.3" height="4.3" fill="#f18610" stroke="#d8780e"/>
<rect x="190.0" y="126.6" width="4.3" height="4.3" fill="#f03210" stroke="#d82d0e"/>
<rect x="56.5" y="195.7" width="4.3" height="4.3" fill="#2020da" stroke="#1c1cc4"/>
<rect x="218.1" y="112.3" width="4.3" height="4.3" fill="#ed1b11" stroke="#d5180f"/>
<rect x="166.0" y="129.1" width="4.3" height="4.3" fill="#f16510" stroke="#d85a0e"/>
<rect x="105.4" y="215.1" width="4.3" height="4.3" fill="#f3b908" stroke="#daa607"/>
<rect x="135.7" y="143.2" width="4.3" height="4.3" fill="#f29310" stroke="#d9840e"/>
<rect x="61.4" y="200.9" width="4.3" height="4.3" fill="#b9b94e" stroke="#a6a646"/>
<rect x="97.7" y="217.1" width="4.3" height="4.3" fill="#f4c404" stroke="#dbb003"/>
<rect x="74.0" y="211.3" width="4.3" height="4.3" fill="#f9ea05" stroke="#e0d204"/>
<rect x="231.7" y="71.5" width="4.3" height="4.3" fill="#eb1710" stroke="#d3140e"/>
<rect x="90.3" y="186.9" width="4.3" height="4.3" fill="#f7d302" stroke="#debd01"/>
<rect x="168.7" y="111.3" width="4.3" height="4.3" fill="#f15f10" stroke="#d8550e"/>
<rect x="175.9" y="143.5" width="4.3" height="4.3" fill="#f14d10" stroke="#d8450e"/>
<rect x="103.8" y="159.8" width="4.3" height="4.3" fill="#f3bb07" stroke="#daa806"/>
<rect x="134.1" y="177.2" width="4.3" height="4.3" fill="#f29510" stroke="#d9860e"/>
<rect x="157.7" y="154.1" width="4.3" height="4.3" fill="#f17610" stroke="#d86a0e"/>
<rect x="220.6" y="82.0" width="4.3" height="4.3" fill="#ec1a11" stroke="#d4170f"/>
<rect x="95.5" y="166.1" width="4.3" height="4.3" fill="#f5c803" stroke="#dcb402"/>
<rect x="190.3" y="139.8" width="4.3" height="4.3" fill="#f03210" stroke="#d82d0e"/>
<rect x="160.2" y="142.6" width="4.3" height="4.3" fill="#f17110" stroke="#d8650e"/>
<rect x="53.1" y="207.6" width="4.3" height="4.3" fill="#2020da" stroke="#1c1cc4"/>
<rect x="74.2" y="205.0" width="4.3" height="4.3" fill="#f9ea05" stroke="#e0d204"/>
<rect x="127.0" y="134.8" width="4.3" height="4.3" fill="#f29d0f" stroke="#d98d0d"/>
<rect x="85.0" y="206.9" width="4.3" height="4.3" fill="#f9de01" stroke="#e0c700"/>
<rect x="78.0" y="196.4" width="4.3" height="4.3" fill="#f9e703" stroke="#e0cf02"/>
<rect x="126.8" y="146.5" width="4.3" height="4.3" fill="#f29d0f" stroke="#d98d0d"/>
<rect x="192.8" y="98.0" width="4.3" height="4.3" fill="#f02e10" stroke="#d8290e"/>
<rect x="92.9" y="218.8" width="4.3" height="4.3" fill="#f6cd03" stroke="#ddb802"/>
<rect x="99.3" y="153.2" width="4.3" height="4.3" fill="#f4c105" stroke="#dbad04"/>
<rect x="203.6" y="99.8" width="4.3" height="4.3" fill="#ee1f12" stroke="#d61b10"/>
<rect x="82.7" y="207.1" width="4.3" height="4.3" fill="#fae200" stroke="#e1cb00"/>
<rect x="98.3" y="168.9" width="4.3" height="4.3" fill="#f4c304" stroke="#dbaf03"/>
<rect x="152.8" y="155.0" width="4.3" height="4.3" fill="#f17e10" stroke="#d8710e"/>
<rect x="70.6" y="174.4" width="4.3" height="4.3" fill="#f9ed06" stroke="#e0d505"/>
<rect x="172.7" y="148.9" width="4.3" height="4.3" fill="#f15510" stroke="#d84c0e"/>
<rect x="48.1" y="228.7" width="4.3" height="4.3" fill="#2020da" stroke="#1c1cc4"/>
<rect x="116.0" y="215.3" width="4.3" height="4.3" fill="#f2aa0d" stroke="#d9990b"/>
<rect x="151.5" y="120.5" width="4.3" height="4.3" fill="#f17f10" stroke="#d8720e"/>
<rect x="202.8" y="97.3" width="4.3" height="4.3" fill="#ee2012" stroke="#d61c10"/>
<rect x="81.5" y="188.8" width="4.3" height="4.3" fill="#fae301" stroke="#e1cc00"/>
<rect x="71.4" y="200.9" width="4.3" height="4.3" fill="#f9ed06" stroke="#e0d505"/>
<rect x="189.7" y="122.2" width="4.3" height="4.3" fill="#f03310" stroke="#d82d0e"/>
<rect x="115.1" y="197.2" width="4.3" height="4.3" fill="#f2ab0c" stroke="#d9990a"/>
<rect x="71.7" y="221.3" width="4.3" height="4.3" fill="#f9ec06" stroke="#e0d405"/>
<rect x="90.3" y="194.4" width="4.3" height="4.3" fill="#f7d302" stroke="#debd01"/>
<rect x="142.9" y="197.1" width="4.3" height="4.3" fill="#f28a10" stroke="#d97c0e"/>
<rect x="130.1" y="198.7" width="4.3" height="4.3" fill="#f29910" stroke="#d9890e"/>
<rect x="60.1" y="221.6" width="4.3" height="4.3" fill="#88888b" stroke="#7a7a7d"/>
<rect x="182.9" y="111.3" width="4.3" height="4.3" fill="#f14010" stroke="#d8390e"/>
<rect x="94.5" y="153.2" width="4.3" height="4.3" fill="#f5ca03" stroke="#dcb502"/>
<rect x="93.1" y="164.4" width="4.3" height="4.3" fill="#f6cd03" stroke="#ddb802"/>
<rect x="79.0" y="182.9" width="4.3" height="4.3" fill="#fae602" stroke="#e1cf01"/>
<rect x="48.9" y="201.7" width="4.3" height="4.3" fill="#2020da" stroke="#1c1cc4"/>
<rect x="63.5" y="210.2" width="4.3" height="4.3" fill="#f8f40a" stroke="#dfdb09"/>
<rect x="217.6" y="78.9" width="4.3" height="4.3" fill="#ed1b11" stroke="#d5180f"/>
<rect x="185.6" y="107.9" width="4.3" height="4.3" fill="#f03b10" stroke="#d8350e"/>
<rect x="143.3" y="147.2" width="4.3" height="4.3" fill="#f28910" stroke="#d97b0e"/>
<rect x="161.7" y="138.6" width="4.3" height="4.3" fill="#f16e10" stroke="#d8630e"/>
<rect x="120.2" y="222.6" width="4.3" height="4.3" fill="#f2a40e" stroke="#d9930c"/>
<rect x="124.2" y="161.8" width="4.3" height="4.3" fill="#f2a00f" stroke="#d9900d"/>
<rect x="231.7" y="67.5" width="4.3" height="4.3" fill="#eb1710" stroke="#d3140e"/>
<rect x="138.9" y="151.0" width="4.3" height="4.3" fill="#f28f10" stroke="#d9800e"/>
<rect x="137.6" y="173.3" width="4.3" height="4.3" fill="#f29010" stroke="#d9810e"/>
<rect x="148.5" y="124.6" width="4.3" height="4.3" fill="#f18310" stroke="#d8750e"/>
<rect x="69.4" y="211.9" width="4.3" height="4.3" fill="#f9ef07" stroke="#e0d706"/>
<rect x="75.6" y="200.0" width="4.3" height="4.3" fill="#f9e904" stroke="#e0d103"/>
<rect x="162.3" y="149.9" width="4.3" height="4.3" fill="#f16d10" stroke="#d8620e"/>
<rect x="188.4" y="112.7" width="4.3" height="4.3" fill="#f03510" stroke="#d82f0e"/>
<rect x="139.1" y="186.1" width="4.3" height="4.3" fill="#f28f10" stroke="#d9800e"/>
<rect x="134.1" y="127.2" width="4.3" height="4.3" fill="#f29510" stroke="#d9860e"/>
<rect x="129.3" y="206.9" width="4.3" height="4.3" fill="#f29a0f" stroke="#d98a0d"/>
<rect x="203.4" y="114.0" width="4.3" height="4.3" fill="#ee1f12" stroke="#d61b10"/>
<rect x="158.5" y="169.5" width="4.3" height="4.3" fill="#f17410" stroke="#d8680e"/>
<rect x="147.6" y="148.2" width="4.3" height="4.3" fill="#f18410" stroke="#d8760e"/>
<rect x="95.9" y="217.3" width="4.3" height="4.3" fill="#f5c704" stroke="#dcb303"/>
<rect x="211.1" y="92.7" width="4.3" height="4.3" fill="#ed1c12" stroke="#d51910"/>
<rect x="185.9" y="152.2" width="4.3" height="4.3" fill="#f03a10" stroke="#d8340e"/>
<rect x="107.0" y="145.6" width="4.3" height="4.3" fill="#f3b609" stroke="#daa308"/>
<rect x="101.3" y="161.5" width="4.3" height="4.3" fill="#f4be06" stroke="#dbab05"/>
<rect x="136.7" y="172.7" width="4.3" height="4.3" fill="#f29110" stroke="#d9820e"/>
<rect x="125.1" y="166.9" width="4.3" height="4.3" fill="#f29f0f" stroke="#d98f0d"/>
<rect x="167.1" y="146.9" width="4.3" height="4.3" fill="#f16310" stroke="#d8590e"/>
<rect x="211.2" y="102.6" width="4.3" height="4.3" fill="#ed1c12" stroke="#d51910"/>
<rect x="81.7" y="211.9" width="4.3" height="4.3" fill="#fae301" stroke="#e1cc00"/>
<rect x="159.9" y="107.0" width="4.3" height="4.3" fill="#f17210" stroke="#d8660e"/>
<rect x="119.8" y="148.6" width="4.3" height="4.3" fill="#f2a50e" stroke="#d9940c"/>
<rect x="56.7" y="196.2" width="4.3" height="4.3" fill="#2020da" stroke="#1c1cc4"/>
<rect x="178.9" y="117.8" width="4.3" height="4.3" fill="#f14710" stroke="#d83f0e"/>
<rect x="174.3" y="120.9" width="4.3" height="4.3" fill="#f15110" stroke="#d8480e"/>
<rect x="74.1" y="162.9" width="4.3" height="4.3" fill="#f9ea05" stroke="#e0d204"/>
<rect x="120.6" y="208.2" width="4.3" height="4.3" fill="#f2a40e" stroke="#d9930c"/>
<rect x="187.0" y="120.9" width="4.3" height="4.3" fill="#f03810" stroke="#d8320e"/>
<rect x="160.7" y="117.0" width="4.3" height="4.3" fill="#f17010" stroke="#d8640e"/>
<rect x="185.5" y="134.6" width="4.3" height="4.3" fill="#f03b10" stroke="#d8350e"/>
<rect x="166.1" y="107.8" width="4.3" height="4.3" fill="#f16510" stroke="#d85a0e"/>
<rect x="243.7" y="68.8" width="4.3" height="4.3" fill="#ea1410" stroke="#d2120e"/>
<rect x="91.2" y="145.6" width="4.3" height="4.3" fill="#f7d102" stroke="#debc01"/>
<rect x="62.6" y="209.7" width="4.3" height="4.3" fill="#e0de23" stroke="#c9c71f"/>
<rect x="145.4" y="184.1" width="4.3" height="4.3" fill="#f18710" stroke="#d8790e"/>
<rect x="75.3" y="186.3" width="4.3" height="4.3" fill="#f9e904" stroke="#e0d103"/>
<rect x="194.3" y="88.5" width="4.3" height="4.3" fill="#ef2c11" stroke="#d7270f"/>
<rect x="215.3" y="91.9" width="4.3" height="4.3" fill="#ed1b11" stroke="#d5180f"/>
<rect x="141.4" y="181.2" width="4.3" height="4.3" fill="#f28c10" stroke="#d97e0e"/>
<rect x="74.3" y="191.3" width="4.3" height="4.3" fill="#f9ea04" stroke="#e0d203"/>
<rect x="112.6" y="145.3" width="4.3" height="4.3" fill="#f3af0b" stroke="#da9d09"/>
<rect x="119.6" y="144.6" width="4.3" height="4.3" fill="#f2a50e" stroke="#d9940c"/>
<rect x="101.3" y="209.7" width="4.3" height="4.3" fill="#f4bf06" stroke="#dbab05"/>
<rect x="62.1" y="206.3" width="4.3" height="4.3" fill="#d3d231" stroke="#bdbd2c"/>
<rect x="186.5" y="95.2" width="4.3" height="4.3" fill="#f03910" stroke="#d8330e"/>
<rect x="85.4" y="210.9" width="4.3" height="4.3" fill="#f9dd01" stroke="#e0c600"/>
<rect x="128.8" y="164.2" width="4.3" height="4.3" fill="#f29b0f" stroke="#d98b0d"/>
<rect x="234.5" y="66.7" width="4.3" height="4.3" fill="#eb1610" stroke="#d3130e"/>
<rect x="198.7" y="132.8" width="4.3" height="4.3" fill="#ef2611" stroke="#d7220f"/>
<rect x="194.6" y="89.5" width="4.3" height="4.3" fill="#ef2c11" stroke="#d7270f"/>
<rect x="81.5" y="189.9" width="4.3" height="4.3" fill="#fae301" stroke="#e1cc00"/>
<rect x="153.6" y="177.6" width="4.3" height="4.3" fill="#f17d10" stroke="#d8700e"/>
<rect x="128.9" y="206.1" width="4.3" height="4.3" fill="#f29b0f" stroke="#d98b0d"/>
<rect x="118.3" y="219.4" width="4.3" height="4.3" fill="#f2a70e" stroke="#d9960c"/>
<rect x="187.0" y="135.7" width="4.3" height="4.3" fill="#f03810" stroke="#d8320e"/>
<rect x="105.4" y="221.0" width="4.3" height="4.3" fill="#f3b908" stroke="#daa607"/>
<rect x="142.6" y="131.4" width="4.3" height="4.3" fill="#f28a10" stroke="#d97c0e"/>
<rect x="179.2" y="121.3" width="4.3" height="4.3" fill="#f14610" stroke="#d83f0e"/>
<rect x="156.3" y="137.8" width="4.3" height="4.3" fill="#f17910" stroke="#d86c0e"/>
<rect x="123.4" y="200.3" width="4.3" height="4.3" fill="#f2a10f" stroke="#d9900d"/>
<rect x="119.8" y="214.6" width="4.3" height="4.3" fill="#f2a50e" stroke="#d9940c"/>
<rect x="164.9" y="169.1" width="4.3" height="4.3" fill="#f16710" stroke="#d85c0e"/>
<rect x="220.5" y="90.7" width="4.3" height="4.3" fill="#ed1a11" stroke="#d5170f"/>
<rect x="107.3" y="161.7" width="4.3" height="4.3" fill="#f3b609" stroke="#daa308"/>
<rect x="172.7" y="115.6" width="4.3" height="4.3" fill="#f15510" stroke="#d84c0e"/>
<rect x="204.0" y="112.2" width="4.3" height="4.3" fill="#ee1f12" stroke="#d61b10"/>
<rect x="98.6" y="185.3" width="4.3" height="4.3" fill="#f4c205" stroke="#dbae04"/>
<rect x="175.6" y="116.9" width="4.3" height="4.3" fill="#f14e10" stroke="#d8460e"/>
<rect x="137.0" y="194.2" width="4.3" height="4.3" fill="#f29110" stroke="#d9820e"/>
<rect x="87.6" y="206.7" width="4.3" height="4.3" fill="#f8d901" stroke="#dfc300"/>
<rect x="202.0" y="118.7" width="4.3" height="4.3" fill="#ee2112" stroke="#d61d10"/>
<rect x="75.7" y="205.1" width="4.3" height="4.3" fill="#f9e904" stroke="#e0d103"/>
<rect x="192.0" y="130.0" width="4.3" height="4.3" fill="#f02f10" stroke="#d82a0e"/>
<rect x="163.0" y="155.6" width="4.3" height="4.3" fill="#f16b10" stroke="#d8600e"/>
<rect x="240.2" y="71.6" width="4.3" height="4.3" fill="#eb1510" stroke="#d3120e"/>
<rect x="225.3" y="77.7" width="4.3" height="4.3" fill="#ec1911" stroke="#d4160f"/>
<rect x="141.8" y="199.5" width="4.3" height="4.3" fill="#f28b10" stroke="#d97d0e"/>
<rect x="80.6" y="163.6" width="4.3" height="4.3" fill="#fae401" stroke="#e1cd00"/>
<rect x="55.2" y="190.8" width="4.3" height="4.3" fill="#2020da" stroke="#1c1cc4"/>
<rect x="97.8" y="201.2" width="4.3" height="4.3" fill="#f4c304" stroke="#dbaf03"/>
<rect x="75.2" y="155.0" width="4.3" height="4.3" fill="#f9e904" stroke="#e0d103"/>
<rect x="84.4" y="181.5" width="4.3" height="4.3" fill="#f9df00" stroke="#e0c800"/>
<rect x="113.5" y="219.0" width="4.3" height="4.3" fill="#f2ad0c" stroke="#d99b0a"/>
<rect x="163.7" y="141.8" width="4.3" height="4.3" fill="#f16a10" stroke="#d85f0e"/>
<rect x="169.9" y="116.9" width="4.3" height="4.3" fill="#f15c10" stroke="#d8520e"/>
<rect x="125.4" y="133.9" width="4.3" height="4.3" fill="#f29f0f" stroke="#d98f0d"/>
<rect x="124.8" y="183.1" width="4.3" height="4.3" fill="#f29f0f" stroke="#d98f0d"/>
<rect x="80.3" y="210.9" width="4.3" height="4.3" fill="#fae501" stroke="#e1ce00"/>
<rect x="137.5" y="160.9" width="4.3" height="4.3" fill="#f29110" stroke="#d9820e"/>
<rect x="76.2" y="214.1" width="4.3" height="4.3" fill="#f9e804" stroke="#e0d003"/>
<rect x="88.1" y="222.5" width="4.3" height="4.3" fill="#f8d701" stroke="#dfc100"/>
<rect x="137.8" y="160.2" width="4.3" height="4.3" fill="#f29010" stroke="#d9810e"/>
<rect x="107.0" y="197.4" width="4.3" height="4.3" fill="#f3b708" stroke="#daa407"/>
<rect x="109.4" y="216.4" width="4.3" height="4.3" fill="#f3b30a" stroke="#daa109"/>
<rect x="176.3" y="117.1" width="4.3" height="4.3" fill="#f14c10" stroke="#d8440e"/>
<rect x="203.4" y="101.1" width="4.3" height="4.3" fill="#ee1f12" stroke="#d61b10"/>
<rect x="159.8" y="163.5" width="4.3" height="4.3" fill="#f17210" stroke="#d8660e"/>
<rect x="116.0" y="222.2" width="4.3" height="4.3" fill="#f2aa0d" stroke="#d9990b"/>
<rect x="175.3" y="104.4" width="4.3" height="4.3" fill="#f14f10" stroke="#d8470e"/>
<rect x="90.9" y="156.5" width="4.3" height="4.3" fill="#f7d202" stroke="#debd01"/>
<rect x="56.2" y="211.1" width="4.3" height="4.3" fill="#2020da" stroke="#1c1cc4"/>
<rect x="118.2" y="180.6" width="4.3" height="4.3" fill="#f2a70e" stroke="#d9960c"/>
<rect x="161.4" y="111.1" width="4.3" height="4.3" fill="#f16f10" stroke="#d8630e"/>
<rect x="149.4" y="124.9" width="4.3" height="4.3" fill="#f18210" stroke="#d8750e"/>
<rect x="177.3" y="111.3" width="4.3" height="4.3" fill="#f14a10" stroke="#d8420e"/>
<rect x="99.4" y="206.3" width="4.3" height="4.3" fill="#f4c105" stroke="#dbad04"/>
<rect x="114.2" y="164.5" width="4.3" height="4.3" fill="#f2ac0c" stroke="#d99a0a"/>
<rect x="140.6" y="130.8" width="4.3" height="4.3" fill="#f28d10" stroke="#d97e0e"/>
<rect x="75.9" y="172.8" width="4.3" height="4.3" fill="#f9e904" stroke="#e0d103"/>
<rect x="226.4" y="88.2" width="4.3" height="4.3" fill="#ec1911" stroke="#d4160f"/>
<rect x="154.4" y="118.1" width="4.3" height="4.3" fill="#f17c10" stroke="#d86f0e"/>
<rect x="105.1" y="158.5" width="4.3" height="4.3" fill="#f3b908" stroke="#daa607"/>
<rect x="92.4" y="154.8" width="4.3" height="4.3" fill="#f6ce03" stroke="#ddb902"/>
<rect x="168.2" y="117.6" width="4.3" height="4.3" fill="#f16010" stroke="#d8560e"/>
<rect x="95.8" y="197.9" width="4.3" height="4.3" fill="#f5c704" stroke="#dcb303"/>
<rect x="144.5" y="190.1" width="4.3" height="4.3" fill="#f28810" stroke="#d97a0e"/>
<rect x="225.8" y="82.6" width="4.3" height="4.3" fill="#ec1911" stroke="#d4160f"/>
<rect x="147.6" y="127.3" width="4.3" height="4.3" fill="#f18410" stroke="#d8760e"/>
<rect x="78.8" y="208.2" width="4.3" height="4.3" fill="#fae602" stroke="#e1cf01"/>
<rect x="159.7" y="117.4" width="4.3" height="4.3" fill="#f17210" stroke="#d8660e"/>
<rect x="203.4" y="83.1" width="4.3" height="4.3" fill="#ee1f12" stroke="#d61b10"/>
<rect x="165.2" y="127.9" width="4.3" height="4.3" fill="#f16610" stroke="#d85b0e"/>
<rect x="58.4" y="211.8" width="4.3" height="4.3" fill="#3d3dc7" stroke="#3636b3"/>
<rect x="127.6" y="186.4" width="4.3" height="4.3" fill="#f29c0f" stroke="#d98c0d"/>
<rect x="64.1" y="164.9" width="4.3" height="4.3" fill="#f8f30a" stroke="#dfda09"/>
<rect x="195.6" y="111.3" width="4.3" height="4.3" fill="#ef2a11" stroke="#d7250f"/>
<rect x="111.7" y="193.3" width="4.3" height="4.3" fill="#f3b00b" stroke="#da9e09"/>
<rect x="97.3" y="176.2" width="4.3" height="4.3" fill="#f4c404" stroke="#dbb003"/>
<rect x="61.1" y="201.9" width="4.3" height="4.3" fill="#afaf5b" stroke="#9d9d51"/>
<rect x="176.7" y="135.2" width="4.3" height="4.3" fill="#f14b10" stroke="#d8430e"/>
<rect x="139.2" y="181.2" width="4.3" height="4.3" fill="#f28e10" stroke="#d97f0e"/>
<rect x="62.9" y="191.3" width="4.3" height="4.3" fill="#e9e61a" stroke="#d1cf17"/>
<rect x="189.8" y="101.8" width="4.3" height="4.3" fill="#f03310" stroke="#d82d0e"/>
<rect x="152.0" y="158.1" width="4.3" height="4.3" fill="#f17f10" stroke="#d8720e"/>
<rect x="188.3" y="128.1" width="4.3" height="4.3" fill="#f03610" stroke="#d8300e"/>
<rect x="90.2" y="199.5" width="4.3" height="4.3" fill="#f7d302" stroke="#debd01"/>
<rect x="87.4" y="221.4" width="4.3" height="4.3" fill="#f8d901" stroke="#dfc300"/>
<rect x="121.6" y="152.7" width="4.3" height="4.3" fill="#f2a30e" stroke="#d9920c"/>
<rect x="126.8" y="181.7" width="4.3" height="4.3" fill="#f29d0f" stroke="#d98d0d"/>
<rect x="73.6" y="220.1" width="4.3" height="4.3" fill="#f9eb05" stroke="#e0d304"/>
<rect x="124.4" y="162.1" width="4.3" height="4.3" fill="#f2a00f" stroke="#d9900d"/>
<rect x="141.8" y="139.7" width="4.3" height="4.3" fill="#f28b10" stroke="#d97d0e"/>
<rect x="143.7" y="178.6" width="4.3" height="4.3" fill="#f28910" stroke="#d97b0e"/>
<rect x="154.5" y="134.2" width="4.3" height="4.3" fill="#f17c10" stroke="#d86f0e"/>
<rect x="236.4" y="67.7" width="4.3" height="4.3" fill="#eb1610" stroke="#d3130e"/>
<rect x="155.5" y="137.6" width="4.3" height="4.3" fill="#f17a10" stroke="#d86d0e"/>
<rect x="135.2" y="210.1" width="4.3" height="4.3" fill="#f29310" stroke="#d9840e"/>
<rect x="137.8" y="145.9" width="4.3" height="4.3" fill="#f29010" stroke="#d9810e"/>
<rect x="61.6" y="180.6" width="4.3" height="4.3" fill="#c2c243" stroke="#aeae3c"/>
<rect x="68.8" y="203.3" width="4.3" height="4.3" fill="#f9ef07" stroke="#e0d706"/>
<rect x="89.8" y="152.9" width="4.3" height="4.3" fill="#f7d402" stroke="#debe01"/>
<rect x="122.0" y="193.1" width="4.3" height="4.3" fill="#f2a20e" stroke="#d9910c"/>
<rect x="179.8" y="113.4" width="4.3" height="4.3" fill="#f14510" stroke="#d83e0e"/>
<rect x="187.5" y="134.5" width="4.3" height="4.3" fill="#f03710" stroke="#d8310e"/>
<rect x="104.7" y="158.9" width="4.3" height="4.3" fill="#f3ba07" stroke="#daa706"/>
<rect x="59.8" y="175.2" width="4.3" height="4.3" fill="#7d7d9a" stroke="#70708a"/>
<rect x="112.2" y="217.7" width="4.3" height="4.3" fill="#f3af0b" stroke="#da9d09"/>
<rect x="125.2" y="190.6" width="4.3" height="4.3" fill="#f29f0f" stroke="#d98f0d"/>
<rect x="97.1" y="223.3" width="4.3" height="4.3" fill="#f4c504" stroke="#dbb103"/>
<rect x="169.5" y="114.9" width="4.3" height="4.3" fill="#f15d10" stroke="#d8530e"/>
<rect x="217.6" y="89.1" width="4.3" height="4.3" fill="#ed1b11" stroke="#d5180f"/>
<rect x="203.1" y="96.7" width="4.3" height="4.3" fill="#ee2012" stroke="#d61c10"/>
<rect x="148.4" y="165.3" width="4.3" height="4.3" fill="#f18310" stroke="#d8750e"/>
<rect x="70.9" y="195.7" width="4.3" height="4.3" fill="#f9ed06" stroke="#e0d505"/>
<rect x="78.7" y="183.6" width="4.3" height="4.3" fill="#fae602" stroke="#e1cf01"/>
<rect x="221.0" y="75.9" width="4.3" height="4.3" fill="#ec1a11" stroke="#d4170f"/>
<rect x="93.5" y="166.4" width="4.3" height="4.3" fill="#f6cc03" stroke="#ddb702"/>
<rect x="213.8" y="84.3" width="4.3" height="4.3" fill="#ed1c11" stroke="#d5190f"/>
<rect x="165.6" y="107.0" width="4.3" height="4.3" fill="#f16610" stroke="#d85b0e"/>
<rect x="181.7" y="115.6" width="4.3" height="4.3" fill="#f14210" stroke="#d83b0e"/>
<rect x="102.4" y="159.3" width="4.3" height="4.3" fill="#f4bd06" stroke="#dbaa05"/>
<rect x="146.1" y="148.2" width="4.3" height="4.3" fill="#f18610" stroke="#d8780e"/>
<rect x="99.5" y="213.2" width="4.3" height="4.3" fill="#f4c105" stroke="#dbad04"/>
<rect x="67.5" y="211.1" width="4.3" height="4.3" fill="#f8f008" stroke="#dfd807"/>
<rect x="99.5" y="152.5" width="4.3" height="4.3" fill="#f4c105" stroke="#dbad04"/>
<rect x="94.5" y="169.6" width="4.3" height="4.3" fill="#f5ca03" stroke="#dcb502"/>
<rect x="149.0" y="163.7" width="4.3" height="4.3" fill="#f18210" stroke="#d8750e"/>
<rect x="106.5" y="210.7" width="4.3" height="4.3" fill="#f3b708" stroke="#daa407"/>
<rect x="128.1" y="177.7" width="4.3" height="4.3" fill="#f29c0f" stroke="#d98c0d"/>
<rect x="193.0" y="132.2" width="4.3" height="4.3" fill="#f02e10" stroke="#d8290e"/>
<rect x="87.7" y="179.3" width="4.3" height="4.3" fill="#f8d801" stroke="#dfc200"/>
<rect x="146.5" y="153.5" width="4.3" height="4.3" fill="#f18610" stroke="#d8780e"/>
<rect x="152.0" y="171.9" width="4.3" height="4.3" fill="#f17f10" stroke="#d8720e"/>
<rect x="100.2" y="179.8" width="4.3" height="4.3" fill="#f4c005" stroke="#dbac04"/>
<rect x="166.7" y="106.0" width="4.3" height="4.3" fill="#f16310" stroke="#d8590e"/>
<rect x="128.5" y="170.2" width="4.3" height="4.3" fill="#f29b0f" stroke="#d98b0d"/>
<rect x="142.9" y="183.9" width="4.3" height="4.3" fill="#f28a10" stroke="#d97c0e"/>
<rect x="218.1" y="87.1" width="4.3" height="4.3" fill="#ed1b11" stroke="#d5180f"/>
<rect x="142.2" y="145.2" width="4.3" height="4.3" fill="#f28b10" stroke="#d97d0e"/>
<rect x="90.9" y="156.5" width="4.3" height="4.3" fill="#f7d202" stroke="#debd01"/>
<rect x="169.9" y="111.8" width="4.3" height="4.3" fill="#f15c10" stroke="#d8520e"/>
<rect x="160.8" y="117.2" width="4.3" height="4.3" fill="#f17010" stroke="#d8640e"/>
<rect x="83.5" y="214.4" width="4.3" height="4.3" fill="#fae100" stroke="#e1ca00"/>
<rect x="206.7" y="112.9" width="4.3" height="4.3" fill="#ee1d12" stroke="#d61a10"/>
<rect x="88.4" y="186.2" width="4.3" height="4.3" fill="#f8d701" stroke="#dfc100"/>
<rect x="122.4" y="185.6" width="4.3" height="4.3" fill="#f2a20f" stroke="#d9910d"/>
<rect x="92.4" y="155.9" width="4.3" height="4.3" fill="#f6cf03" stroke="#ddba02"/>
<rect x="57.5" y="222.6" width="4.3" height="4.3" fill="#2020da" stroke="#1c1cc4"/>
<rect x="136.9" y="210.0" width="4.3" height="4.3" fill="#f29110" stroke="#d9820e"/>
<rect x="217.8" y="75.0" width="4.3" height="4.3" fill="#ed1b11" stroke="#d5180f"/>
<rect x="120.1" y="147.1" width="4.3" height="4.3" fill="#f2a50e" stroke="#d9940c"/>
<rect x="180.8" y="115.5" width="4.3" height="4.3" fill="#f14410" stroke="#d83d0e"/>
<rect x="186.8" y="90.0" width="4.3" height="4.3" fill="#f03810" stroke="#d8320e"/>
<rect x="149.5" y="139.6" width="4.3" height="4.3" fill="#f18210" stroke="#d8750e"/>
<rect x="144.0" y="158.9" width="4.3" height="4.3" fill="#f28910" stroke="#d97b0e"/>
<rect x="132.5" y="158.1" width="4.3" height="4.3" fill="#f29710" stroke="#d9870e"/>
<rect x="159.5" y="138.8" width="4.3" height="4.3" fill="#f17210" stroke="#d8660e"/>
<rect x="197.6" y="110.5" width="4.3" height="4.3" fill="#ef2811" stroke="#d7240f"/>
<rect x="186.6" y="117.1" width="4.3" height="4.3" fill="#f03910" stroke="#d8330e"/>
<rect x="94.4" y="199.9" width="4.3" height="4.3" fill="#f5ca03" stroke="#dcb502"/>
<rect x="115.5" y="147.2" width="4.3" height="4.3" fill="#f2ab0c" stroke="#d9990a"/>
<rect x="60.2" y="198.6" width="4.3" height="4.3" fill="#8d8d86" stroke="#7e7e78"/>
<rect x="89.0" y="152.9" width="4.3" height="4.3" fill="#f8d602" stroke="#dfc001"/>
<rect x="59.5" y="208.8" width="4.3" height="4.3" fill="#7070a5" stroke="#646494"/>
<rect x="195.0" y="132.2" width="4.3" height="4.3" fill="#ef2b11" stroke="#d7260f"/>
<rect x="161.6" y="163.8" width="4.3" height="4.3" fill="#f16e10" stroke="#d8630e"/>
<rect x="125.4" y="135.3" width="4.3" height="4.3" fill="#f29f0f" stroke="#d98f0d"/>
<rect x="212.5" y="109.2" width="4.3" height="4.3" fill="#ed1c11" stroke="#d5190f"/>
<rect x="116.3" y="183.6" width="4.3" height="4.3" fill="#f2aa0d" stroke="#d9990b"/>
<rect x="124.5" y="167.7" width="4.3" height="4.3" fill="#f2a00f" stroke="#d9900d"/>
<rect x="78.1" y="170.7" width="4.3" height="4.3" fill="#f9e703" stroke="#e0cf02"/>
<rect x="55.4" y="206.4" width="4.3" height="4.3" fill="#2020da" stroke="#1c1cc4"/>
<rect x="147.3" y="156.0" width="4.3" height="4.3" fill="#f18510" stroke="#d8770e"/>
<rect x="167.6" y="116.4" width="4.3" height="4.3" fill="#f16110" stroke="#d8570e"/>
<rect x="188.3" y="116.9" width="4.3" height="4.3" fill="#f03510" stroke="#d82f0e"/>
<rect x="182.9" y="103.4" width="4.3" height="4.3" fill="#f14010" stroke="#d8390e"/>
<rect x="239.4" y="74.3" width="4.3" height="4.3" fill="#eb1510" stroke="#d3120e"/>
<rect x="237.2" y="71.2" width="4.3" height="4.3" fill="#eb1610" stroke="#d3130e"/>
<rect x="60.3" y="176.2" width="4.3" height="4.3" fill="#8d8d85" stroke="#7e7e77"/>
<rect x="105.0" y="200.8" width="4.3" height="4.3" fill="#f3b908" stroke="#daa607"/>
<rect x="54.2" y="201.2" width="4.3" height="4.3" fill="#2020da" stroke="#1c1cc4"/>
<rect x="97.1" y="206.8" width="4.3" height="4.3" fill="#f4c504" stroke="#dbb103"/>
<rect x="137.7" y="160.1" width="4.3" height="4.3" fill="#f29010" stroke="#d9810e"/>
<rect x="125.8" y="220.7" width="4.3" height="4.3" fill="#f29e0f" stroke="#d98e0d"/>
<rect x="75.2" y="180.7" width="4.3" height="4.3" fill="#f9e904" stroke="#e0d103"/>
<rect x="98.5" y="173.6" width="4.3" height="4.3" fill="#f4c205" stroke="#dbae04"/>
<rect x="95.2" y="184.2" width="4.3" height="4.3" fill="#f5c903" stroke="#dcb402"/>
<rect x="169.3" y="158.5" width="4.3" height="4.3" fill="#f15d10" stroke="#d8530e"/>
<rect x="64.8" y="189.2" width="4.3" height="4.3" fill="#f8f309" stroke="#dfda08"/>
<rect x="47.3" y="226.3" width="4.3" height="4.3" fill="#1f1fda" stroke="#1b1bc4"/>
<rect x="218.6" y="96.7" width="4.3" height="4.3" fill="#ed1a11" stroke="#d5170f"/>
<rect x="68.5" y="221.7" width="4.3" height="4.3" fill="#f9ef07" stroke="#e0d706"/>
<rect x="101.4" y="182.7" width="4.3" height="4.3" fill="#f4be06" stroke="#dbab05"/>
<rect x="74.2" y="168.4" width="4.3" height="4.3" fill="#f9ea05" stroke="#e0d204"/>
<rect x="56.2" y="170.6" width="4.3" height="4.3" fill="#2020da" stroke="#1c1cc4"/>
<rect x="144.0" y="150.3" width="4.3" height="4.3" fill="#f28910" stroke="#d97b0e"/>
<rect x="207.3" y="112.8" width="4.3" height="4.3" fill="#ee1d12" stroke="#d61a10"/>
<rect x="206.9" y="120.9" width="4.3" height="4.3" fill="#ee1d12" stroke="#d61a10"/>
<rect x="103.2" y="216.8" width="4.3" height="4.3" fill="#f3bc07" stroke="#daa906"/>
<rect x="93.9" y="168.8" width="4.3" height="4.3" fill="#f5cb03" stroke="#dcb602"/>
<rect x="86.6" y="153.7" width="4.3" height="4.3" fill="#f9db01" stroke="#e0c500"/>
<rect x="74.8" y="193.1" width="4.3" height="4.3" fill="#f9ea04" stroke="#e0d203"/>
<rect x="120.2" y="157.7" width="4.3" height="4.3" fill="#f2a40e" stroke="#d9930c"/>
<rect x="49.4" y="187.2" width="4.3" height="4.3" fill="#2020da" stroke="#1c1cc4"/>
<rect x="173.1" y="171.9" width="4.3" height="4.3" fill="#f15410" stroke="#d84b0e"/>
<rect x="116.2" y="181.7" width="4.3" height="4.3" fill="#f2aa0d" stroke="#d9990b"/>
<rect x="149.2" y="135.4" width="4.3" height="4.3" fill="#f18210" stroke="#d8750e"/>
<rect x="100.8" y="173.4" width="4.3" height="4.3" fill="#f4bf06" stroke="#dbab05"/>
<rect x="187.7" y="94.4" width="4.3" height="4.3" fill="#f03710" stroke="#d8310e"/>
<rect x="80.7" y="182.0" width="4.3" height="4.3" fill="#fae401" stroke="#e1cd00"/>
<rect x="128.6" y="177.7" width="4.3" height="4.3" fill="#f29b0f" stroke="#d98b0d"/>
<rect x="58.0" y="194.7" width="4.3" height="4.3" fill="#2d2dd2" stroke="#2828bd"/>
<rect x="47.6" y="189.3" width="4.3" height="4.3" fill="#1f1fda" stroke="#1b1bc4"/>
<rect x="234.7" y="78.9" width="4.3" height="4.3" fill="#eb1610" stroke="#d3130e"/>
<rect x="182.8" y="119.4" width="4.3" height="4.3" fill="#f14010" stroke="#d8390e"/>
<rect x="97.2" y="223.2" width="4.3" height="4.3" fill="#f4c404" stroke="#dbb003"/>
<rect x="209.9" y="115.3" width="4.3" height="4.3" fill="#ed1d12" stroke="#d51a10"/>
<rect x="245.3" y="70.0" width="4.3" height="4.3" fill="#ea140f" stroke="#d2120d"/>
<rect x="161.2" y="118.6" width="4.3" height="4.3" fill="#f16f10" stroke="#d8630e"/>
<rect x="191.1" y="145.0" width="4.3" height="4.3" fill="#f03110" stroke="#d82c0e"/>
<rect x="164.2" y="160.5" width="4.3" height="4.3" fill="#f16910" stroke="#d85e0e"/>
<rect x="128.2" y="150.1" width="4.3" height="4.3" fill="#f29b0f" stroke="#d98b0d"/>
<rect x="195.2" y="133.3" width="4.3" height="4.3" fill="#ef2b11" stroke="#d7260f"/>
<rect x="66.6" y="186.3" width="4.3" height="4.3" fill="#f8f108" stroke="#dfd807"/>
<rect x="133.1" y="174.3" width="4.3" height="4.3" fill="#f29610" stroke="#d9870e"/>
<rect x="80.1" y="190.3" width="4.3" height="4.3" fill="#fae502" stroke="#e1ce01"/>
<rect x="140.3" y="191.9" width="4.3" height="4.3" fill="#f28d10" stroke="#d97e0e"/>
<rect x="113.0" y="176.6" width="4.3" height="4.3" fill="#f3ae0b" stroke="#da9c09"/>
<rect x="153.1" y="143.0" width="4.3" height="4.3" fill="#f17d10" stroke="#d8700e"/>
<rect x="191.9" y="109.8" width="4.3" height="4.3" fill="#f03010" stroke="#d82b0e"/>
<rect x="150.0" y="143.9" width="4.3" height="4.3" fill="#f18110" stroke="#d8740e"/>
<rect x="141.3" y="158.1" width="4.3" height="4.3" fill="#f28c10" stroke="#d97e0e"/>
<rect x="141.5" y="166.8" width="4.3" height="4.3" fill="#f28c10" stroke="#d97e0e"/>
<rect x="197.7" y="109.0" width="4.3" height="4.3" fill="#ef2711" stroke="#d7230f"/>
<rect x="231.0" y="73.5" width="4.3" height="4.3" fill="#ec1710" stroke="#d4140e"/>
<rect x="54.3" y="219.5" width="4.3" height="4.3" fill="#2020da" stroke="#1c1cc4"/>
<rect x="143.7" y="153.4" width="4.3" height="4.3" fill="#f28910" stroke="#d97b0e"/>
<rect x="105.6" y="219.8" width="4.3" height="4.3" fill="#f3b908" stroke="#daa607"/>
<rect x="130.1" y="215.7" width="4.3" height="4.3" fill="#f29910" stroke="#d9890e"/>
<rect x="113.2" y="199.2" width="4.3" height="4.3" fill="#f3ae0b" stroke="#da9c09"/>
<rect x="81.5" y="164.1" width="4.3" height="4.3" fill="#fae401" stroke="#e1cd00"/>
<rect x="83.9" y="205.0" width="4.3" height="4.3" fill="#fae000" stroke="#e1c900"/>
<rect x="241.1" y="64.6" width="4.3" height="4.3" fill="#eb1510" stroke="#d3120e"/>
<rect x="100.6" y="170.6" width="4.3" height="4.3" fill="#f4c005" stroke="#dbac04"/>
<rect x="102.9" y="149.2" width="4.3" height="4.3" fill="#f3bc07" stroke="#daa906"/>
<rect x="165.2" y="139.6" width="4.3" height="4.3" fill="#f16710" stroke="#d85c0e"/>
<rect x="160.4" y="117.8" width="4.3" height="4.3" fill="#f17110" stroke="#d8650e"/>
<rect x="155.9" y="125.4" width="4.3" height="4.3" fill="#f17a10" stroke="#d86d0e"/>
<rect x="211.8" y="98.6" width="4.3" height="4.3" fill="#ed1c12" stroke="#d51910"/>
<rect x="86.3" y="158.8" width="4.3" height="4.3" fill="#f9db01" stroke="#e0c500"/>
<rect x="133.0" y="182.4" width="4.3" height="4.3" fill="#f29610" stroke="#d9870e"/>
<rect x="102.6" y="162.3" width="4.3" height="4.3" fill="#f4bd06" stroke="#dbaa05"/>
<rect x="130.0" y="151.7" width="4.3" height="4.3" fill="#f29910" stroke="#d9890e"/>
<rect x="226.5" y="85.6" width="4.3" height="4.3" fill="#ec1811" stroke="#d4150f"/>
<rect x="52.8" y="171.4" width="4.3" height="4.3" fill="#2020da" stroke="#1c1cc4"/>
<rect x="96.3" y="163.0" width="4.3" height="4.3" fill="#f4c604" stroke="#dbb203"/>
<rect x="60.5" y="195.5" width="4.3" height="4.3" fill="#97977a" stroke="#87876d"/>
<rect x="46.4" y="212.7" width="4.3" height="4.3" fill="#1f1fda" stroke="#1b1bc4"/>
<rect x="85.2" y="194.9" width="4.3" height="4.3" fill="#f9de01" stroke="#e0c700"/>
<rect x="52.9" y="185.0" width="4.3" height="4.3" fill="#2020da" stroke="#1c1cc4"/>
<rect x="112.8" y="168.0" width="4.3" height="4.3" fill="#f3ae0b" stroke="#da9c09"/>
<rect x="166.3" y="184.3" width="4.3" height="4.3" fill="#f16410" stroke="#d85a0e"/>
<rect x="157.8" y="172.6" width="4.3" height="4.3" fill="#f17610" stroke="#d86a0e"/>
<rect x="136.9" y="154.7" width="4.3" height="4.3" fill="#f29110" stroke="#d9820e"/>
<rect x="203.9" y="97.9" width="4.3" height="4.3" fill="#ee1f12" stroke="#d61b10"/>
<rect x="251.6" y="60.8" width="4.3" height="4.3" fill="#ea120f" stroke="#d2100d"/>
<rect x="150.5" y="110.9" width="4.3" height="4.3" fill="#f18110" stroke="#d8740e"/>
<rect x="101.6" y="223.3" width="4.3" height="4.3" fill="#f4be06" stroke="#dbab05"/>
<rect x="113.5" y="142.7" width="4.3" height="4.3" fill="#f2ad0c" stroke="#d99b0a"/>
<rect x="99.4" y="184.6" width="4.3" height="4.3" fill="#f4c105" stroke="#dbad04"/>
<rect x="246.5" y="60.2" width="4.3" height="4.3" fill="#ea140f" stroke="#d2120d"/>
<rect x="83.8" y="197.6" width="4.3" height="4.3" fill="#fae100" stroke="#e1ca00"/>
<rect x="130.3" y="133.6" width="4.3" height="4.3" fill="#f29910" stroke="#d9890e"/>
<rect x="154.2" y="145.7" width="4.3" height="4.3" fill="#f17c10" stroke="#d86f0e"/>
<rect x="56.6" y="172.6" width="4.3" height="4.3" fill="#2020da" stroke="#1c1cc4"/>
<rect x="150.8" y="135.4" width="4.3" height="4.3" fill="#f18010" stroke="#d8730e"/>
<rect x="115.9" y="156.7" width="4.3" height="4.3" fill="#f2aa0d" stroke="#d9990b"/>
<rect x="77.4" y="176.7" width="4.3" height="4.3" fill="#f9e703" stroke="#e0cf02"/>
<rect x="129.5" y="198.9" width="4.3" height="4.3" fill="#f29a0f" stroke="#d98a0d"/>
<rect x="200.0" y="115.0" width="4.3" height="4.3" fill="#ef2411" stroke="#d7200f"/>
<rect x="104.9" y="222.7" width="4.3" height="4.3" fill="#f3b908" stroke="#daa607"/>
<rect x="116.3" y="131.5" width="4.3" height="4.3" fill="#f2aa0d" stroke="#d9990b"/>
<rect x="149.4" y="160.9" width="4.3" height="4.3" fill="#f18210" stroke="#d8750e"/>
<rect x="145.0" y="147.2" width="4.3" height="4.3" fill="#f18710" stroke="#d8790e"/>
<rect x="150.7" y="175.6" width="4.3" height="4.3" fill="#f18010" stroke="#d8730e"/>
<rect x="192.0" y="123.9" width="4.3" height="4.3" fill="#f02f10" stroke="#d82a0e"/>
<rect x="96.0" y="189.3" width="4.3" height="4.3" fill="#f5c704" stroke="#dcb303"/>
<rect x="138.2" y="176.6" width="4.3" height="4.3" fill="#f29010" stroke="#d9810e"/>
<rect x="160.7" y="133.9" width="4.3" height="4.3" fill="#f17010" stroke="#d8640e"/>
<rect x="176.9" y="112.8" width="4.3" height="4.3" fill="#f14b10" stroke="#d8430e"/>
<rect x="190.1" y="103.5" width="4.3" height="4.3" fill="#f03210" stroke="#d82d0e"/>
<rect x="129.3" y="136.7" width="4.3" height="4.3" fill="#f29a0f" stroke="#d98a0d"/>
<rect x="44.4" y="221.2" width="4.3" height="4.3" fill="#1f1fda" stroke="#1b1bc4"/>
<rect x="226.4" y="88.6" width="4.3" height="4.3" fill="#ec1911" stroke="#d4160f"/>
<rect x="135.8" y="126.0" width="4.3" height="4.3" fill="#f29310" stroke="#d9840e"/>
<rect x="209.3" y="98.1" width="4.3" height="4.3" fill="#ee1d12" stroke="#d61a10"/>
<rect x="205.6" y="88.3" width="4.3" height="4.3" fill="#ee1e12" stroke="#d61b10"/>
<rect x="245.4" y="67.1" width="4.3" height="4.3" fill="#ea140f" stroke="#d2120d"/>
<rect x="121.9" y="155.7" width="4.3" height="4.3" fill="#f2a20e" stroke="#d9910c"/>
<rect x="72.2" y="165.1" width="4.3" height="4.3" fill="#f9ec06" stroke="#e0d405"/>
<rect x="124.3" y="162.3" width="4.3" height="4.3" fill="#f2a00f" stroke="#d9900d"/>
<rect x="128.9" y="147.5" width="4.3" height="4.3" fill="#f29b0f" stroke="#d98b0d"/>
<rect x="199.0" y="98.7" width="4.3" height="4.3" fill="#ef2611" stroke="#d7220f"/>
<rect x="212.3" y="87.2" width="4.3" height="4.3" fill="#ed1c12" stroke="#d51910"/>
<rect x="190.2" y="87.2" width="4.3" height="4.3" fill="#f03210" stroke="#d82d0e"/>
<rect x="204.7" y="117.5" width="4.3" height="4.3" fill="#ee1e12" stroke="#d61b10"/>
<rect x="92.8" y="161.1" width="4.3" height="4.3" fill="#f6ce03" stroke="#ddb902"/>
<rect x="156.6" y="150.4" width="4.3" height="4.3" fill="#f17910" stroke="#d86c0e"/>
<rect x="61.6" y="200.8" width="4.3" height="4.3" fill="#c5c540" stroke="#b1b139"/>
<rect x="214.8" y="82.3" width="4.3" height="4.3" fill="#ed1b11" stroke="#d5180f"/>
<rect x="101.1" y="199.6" width="4.3" height="4.3" fill="#f4bf06" stroke="#dbab05"/>
<rect x="111.5" y="125.0" width="4.3" height="4.3" fill="#f3b00b" stroke="#da9e09"/>
<rect x="182.2" y="148.5" width="4.3" height="4.3" fill="#f14110" stroke="#d83a0e"/>
<rect x="138.9" y="152.9" width="4.3" height="4.3" fill="#f28f10" stroke="#d9800e"/>
<rect x="182.2" y="135.1" width="4.3" height="4.3" fill="#f14110" stroke="#d83a0e"/>
<rect x="213.6" y="107.0" width="4.3" height="4.3" fill="#ed1c11" stroke="#d5190f"/>
<rect x="47.9" y="189.0" width="4.3" height="4.3" fill="#1f1fda" stroke="#1b1bc4"/>
<rect x="203.9" y="120.2" width="4.3" height="4.3" fill="#ee1f12" stroke="#d61b10"/>
<rect x="52.4" y="217.2" width="4.3" height="4.3" fill="#2020da" stroke="#1c1cc4"/>
<rect x="134.7" y="204.6" width="4.3" height="4.3" fill="#f29410" stroke="#d9850e"/>
<rect x="142.9" y="122.8" width="4.3" height="4.3" fill="#f28a10" stroke="#d97c0e"/>
<rect x="159.7" y="147.4" width="4.3" height="4.3" fill="#f17210" stroke="#d8660e"/>
<rect x="232.1" y="81.4" width="4.3" height="4.3" fill="#eb1710" stroke="#d3140e"/>
<rect x="103.2" y="192.3" width="4.3" height="4.3" fill="#f3bc07" stroke="#daa906"/>
<rect x="197.1" y="85.9" width="4.3" height="4.3" fill="#ef2811" stroke="#d7240f"/>
<rect x="160.3" y="151.5" width="4.3" height="4.3" fill="#f17110" stroke="#d8650e"/>
<rect x="67.2" y="224.0" width="4.3" height="4.3" fill="#f8f108" stroke="#dfd807"/>
<rect x="68.6" y="212.8" width="4.3" height="4.3" fill="#f9ef07" stroke="#e0d706"/>
<rect x="58.9" y="189.5" width="4.3" height="4.3" fill="#5353b8" stroke="#4a4aa5"/>
<rect x="244.4" y="65.0" width="4.3" height="4.3" fill="#ea1410" stroke="#d2120e"/>
<rect x="159.0" y="163.4" width="4.3" height="4.3" fill="#f17410" stroke="#d8680e"/>
<rect x="135.7" y="204.0" width="4.3" height="4.3" fill="#f29310" stroke="#d9840e"/>
<rect x="197.5" y="122.4" width="4.3" height="4.3" fill="#ef2811" stroke="#d7240f"/>
<rect x="178.8" y="150.0" width="4.3" height="4.3" fill="#f14710" stroke="#d83f0e"/>
<rect x="178.6" y="101.0" width="4.3" height="4.3" fill="#f14810" stroke="#d8400e"/>
<rect x="58.4" y="178.4" width="4.3" height="4.3" fill="#3e3ec6" stroke="#3737b2"/>
<rect x="211.8" y="98.9" width="4.3" height="4.3" fill="#ed1c12" stroke="#d51910"/>
<rect x="114.9" y="195.7" width="4.3" height="4.3" fill="#f2ab0c" stroke="#d9990a"/>
<rect x="88.4" y="216.2" width="4.3" height="4.3" fill="#f8d701" stroke="#dfc100"/>
<rect x="167.8" y="123.4" width="4.3" height="4.3" fill="#f16110" stroke="#d8570e"/>
<rect x="111.8" y="163.7" width="4.3" height="4.3" fill="#f3b00b" stroke="#da9e09"/>
<rect x="52.1" y="229.3" width="4.3" height="4.3" fill="#2020da" stroke="#1c1cc4"/>
<rect x="215.3" y="100.8" width="4.3" height="4.3" fill="#ed1b11" stroke="#d5180f"/>
<rect x="235.6" y="68.3" width="4.3" height="4.3" fill="#eb1610" stroke="#d3130e"/>
<rect x="111.3" y="136.3" width="4.3" height="4.3" fill="#f3b00b" stroke="#da9e09"/>
<rect x="126.6" y="182.0" width="4.3" height="4.3" fill="#f29d0f" stroke="#d98d0d"/>
<rect x="165.1" y="115.3" width="4.3" height="4.3" fill="#f16710" stroke="#d85c0e"/>
<rect x="187.5" y="135.8" width="4.3" height="4.3" fill="#f03710" stroke="#d8310e"/>
<rect x="83.1" y="219.4" width="4.3" height="4.3" fill="#fae200" stroke="#e1cb00"/>
<rect x="120.0" y="206.0" width="4.3" height="4.3" fill="#f2a50e" stroke="#d9940c"/>
<rect x="186.8" y="106.5" width="4.3" height="4.3" fill="#f03810" stroke="#d8320e"/>
<rect x="81.3" y="190.8" width="4.3" height="4.3" fill="#fae401" stroke="#e1cd00"/>
<rect x="122.3" y="177.8" width="4.3" height="4.3" fill="#f2a20e" stroke="#d9910c"/>
<rect x="193.2" y="88.3" width="4.3" height="4.3" fill="#f02e10" stroke="#d8290e"/>
<rect x="165.8" y="129.1" width="4.3" height="4.3" fill="#f16510" stroke="#d85a0e"/>
<rect x="169.5" y="138.9" width="4.3" height="4.3" fill="#f15d10" stroke="#d8530e"/>
<rect x="110.0" y="205.0" width="4.3" height="4.3" fill="#f3b20a" stroke="#daa009"/>
<rect x="95.9" y="193.4" width="4.3" height="4.3" fill="#f5c704" stroke="#dcb303"/>
<rect x="122.1" y="162.0" width="4.3" height="4.3" fill="#f2a20e" stroke="#d9910c"/>
<rect x="47.8" y="219.0" width="4.3" height="4.3" fill="#1f1fda" stroke="#1b1bc4"/>
<rect x="113.8" y="141.7" width="4.3" height="4.3" fill="#f2ad0c" stroke="#d99b0a"/>
<rect x="196.3" y="129.8" width="4.3" height="4.3" fill="#ef2911" stroke="#d7240f"/>
<rect x="198.6" y="117.3" width="4.3" height="4.3" fill="#ef2611" stroke="#d7220f"/>
<rect x="120.7" y="151.9" width="4.3" height="4.3" fill="#f2a40e" stroke="#d9930c"/>
<rect x="85.2" y="151.0" width="4.3" height="4.3" fill="#f9de01" stroke="#e0c700"/>
<rect x="84.4" y="176.3" width="4.3" height="4.3" fill="#f9df00" stroke="#e0c800"/>
<rect x="189.8" y="131.8" width="4.3" height="4.3" fill="#f03310" stroke="#d82d0e"/>
<rect x="65.4" y="184.1" width="4.3" height="4.3" fill="#f8f209" stroke="#dfd908"/>
<rect x="75.3" y="162.4" width="4.3" height="4.3" fill="#f9e904" stroke="#e0d103"/>
<rect x="127.6" y="163.5" width="4.3" height="4.3" fill="#f29c0f" stroke="#d98c0d"/>
<rect x="135.5" y="127.9" width="4.3" height="4.3" fill="#f29310" stroke="#d9840e"/>
<rect x="197.7" y="87.2" width="4.3" height="4.3" fill="#ef2711" stroke="#d7230f"/>
<rect x="141.3" y="136.5" width="4.3" height="4.3" fill="#f28c10" stroke="#d97e0e"/>
<rect x="132.5" y="148.4" width="4.3" height="4.3" fill="#f29710" stroke="#d9870e"/>
<rect x="156.2" y="174.5" width="4.3" height="4.3" fill="#f17910" stroke="#d86c0e"/>
<rect x="93.3" y="183.3" width="4.3" height="4.3" fill="#f6cd03" stroke="#ddb802"/>
<rect x="195.1" y="95.4" width="4.3" height="4.3" fill="#ef2b11" stroke="#d7260f"/>
<rect x="123.8" y="182.0" width="4.3" height="4.3" fill="#f2a00f" stroke="#d9900d"/>
<rect x="66.3" y="193.4" width="4.3" height="4.3" fill="#f8f109" stroke="#dfd808"/>
<rect x="137.1" y="196.5" width="4.3" height="4.3" fill="#f29110" stroke="#d9820e"/>
<rect x="67.2" y="192.8" width="4.3" height="4.3" fill="#f8f108" stroke="#dfd807"/>
<rect x="203.1" y="107.5" width="4.3" height="4.3" fill="#ee2012" stroke="#d61c10"/>
<rect x="234.3" y="103.2" width="4.3" height="4.3" fill="#eb1710" stroke="#d3140e"/>
<rect x="217.3" y="142.4" width="4.3" height="4.3" fill="#ed1b11" stroke="#d5180f"/>
<rect x="200.8" y="151.3" width="4.3" height="4.3" fill="#ef2311" stroke="#d71f0f"/>
<rect x="201.5" y="166.7" width="4.3" height="4.3" fill="#ee2212" stroke="#d61e10"/>
<rect x="208.0" y="199.7" width="4.3" height="4.3" fill="#ee1d12" stroke="#d61a10"/>
<rect x="185.8" y="219.2" width="4.3" height="4.3" fill="#f03a10" stroke="#d8340e"/>
<rect x="192.0" y="184.2" width="4.3" height="4.3" fill="#f02f10" stroke="#d82a0e"/>
<rect x="172.2" y="194.2" width="4.3" height="4.3" fill="#f15610" stroke="#d84d0e"/>
<rect x="143.9" y="227.7" width="4.3" height="4.3" fill="#f28910" stroke="#d97b0e"/>
<rect x="153.2" y="222.0" width="4.3" height="4.3" fill="#f17d10" stroke="#d8700e"/>
<rect x="57.1" y="137.0" width="4.3" height="4.3" fill="#2020da" stroke="#1c1cc4"/>
<rect x="53.2" y="141.8" width="4.3" height="4.3" fill="#2020da" stroke="#1c1cc4"/>
<rect x="74.0" y="134.7" width="4.3" height="4.3" fill="#f9ea05" stroke="#e0d204"/>
<rect x="73.2" y="143.7" width="4.3" height="4.3" fill="#f9eb05" stroke="#e0d304"/>
<rect x="87.8" y="129.8" width="4.3" height="4.3" fill="#f8d801" stroke="#dfc200"/>
<rect x="85.2" y="140.2" width="4.3" height="4.3" fill="#f9de01" stroke="#e0c700"/>
<rect x="99.3" y="127.4" width="4.3" height="4.3" fill="#f4c105" stroke="#dbad04"/>
<rect x="105.5" y="123.6" width="4.3" height="4.3" fill="#f3b908" stroke="#daa607"/>
<rect x="119.3" y="108.2" width="4.3" height="4.3" fill="#f2a50e" stroke="#d9940c"/>
<rect x="133.2" y="108.2" width="4.3" height="4.3" fill="#f29610" stroke="#d9870e"/>
<rect x="128.7" y="114.3" width="4.3" height="4.3" fill="#f29b0f" stroke="#d98b0d"/>
<rect x="119.3" y="119.8" width="4.3" height="4.3" fill="#f2a50e" stroke="#d9940c"/>
<rect x="125.5" y="121.3" width="4.3" height="4.3" fill="#f29e0f" stroke="#d98e0d"/>
<rect x="113.2" y="125.9" width="4.3" height="4.3" fill="#f3ae0b" stroke="#da9c09"/>
<rect x="172.4" y="82.4" width="4.3" height="4.3" fill="#f15610" stroke="#d84d0e"/>
<rect x="188.7" y="81.2" width="4.3" height="4.3" fill="#f03510" stroke="#d82f0e"/>
<rect x="169.0" y="94.8" width="4.3" height="4.3" fill="#f15e10" stroke="#d8540e"/>
<rect x="177.0" y="90.9" width="4.3" height="4.3" fill="#f14b10" stroke="#d8430e"/>
<rect x="180.8" y="93.2" width="4.3" height="4.3" fill="#f14310" stroke="#d83c0e"/>
<rect x="157.8" y="100.9" width="4.3" height="4.3" fill="#f17610" stroke="#d86a0e"/>
<rect x="164.0" y="103.2" width="4.3" height="4.3" fill="#f16910" stroke="#d85e0e"/>
<rect x="149.3" y="107.8" width="4.3" height="4.3" fill="#f18210" stroke="#d8750e"/>
<rect x="133.2" y="107.0" width="4.3" height="4.3" fill="#f29610" stroke="#d9870e"/>
<rect x="143.2" y="110.9" width="4.3" height="4.3" fill="#f28a10" stroke="#d97c0e"/>
<rect x="154.0" y="107.8" width="4.3" height="4.3" fill="#f17c10" stroke="#d86f0e"/>
<rect x="147.4" y="189.4" width="4.3" height="4.3" fill="#f18410" stroke="#d8760e"/>
<rect x="159.5" y="189.4" width="4.3" height="4.3" fill="#f17210" stroke="#d8660e"/>
<rect x="165.7" y="197.5" width="4.3" height="4.3" fill="#f16610" stroke="#d85b0e"/>
<rect x="171.8" y="193.4" width="4.3" height="4.3" fill="#f15710" stroke="#d84e0e"/>
<rect x="151.4" y="197.5" width="4.3" height="4.3" fill="#f17f10" stroke="#d8720e"/>
<rect x="155.5" y="202.7" width="4.3" height="4.3" fill="#f17a10" stroke="#d86d0e"/>
<rect x="166.7" y="208.8" width="4.3" height="4.3" fill="#f16310" stroke="#d8590e"/>
<rect x="152.4" y="210.8" width="4.3" height="4.3" fill="#f17e10" stroke="#d8710e"/>
<rect x="154.5" y="215.8" width="4.3" height="4.3" fill="#f17c10" stroke="#d86f0e"/>
<rect x="143.3" y="217.8" width="4.3" height="4.3" fill="#f28910" stroke="#d97b0e"/>
<rect x="152.4" y="221.8" width="4.3" height="4.3" fill="#f17e10" stroke="#d8710e"/>
<rect x="144.3" y="226.9" width="4.3" height="4.3" fill="#f28810" stroke="#d97a0e"/>
<rect x="166.7" y="178.2" width="4.3" height="4.3" fill="#f16310" stroke="#d8590e"/>
<rect x="171.8" y="177.2" width="4.3" height="4.3" fill="#f15710" stroke="#d84e0e"/>
<rect x="153.4" y="174.2" width="4.3" height="4.3" fill="#f17d10" stroke="#d8700e"/>
<rect x="185.9" y="159.0" width="4.3" height="4.3" fill="#f03a10" stroke="#d8340e"/>
<rect x="188.9" y="167.2" width="4.3" height="4.3" fill="#f03410" stroke="#d82e0e"/>
<rect x="200.2" y="150.8" width="4.3" height="4.3" fill="#ef2411" stroke="#d7200f"/>
<rect x="201.2" y="166.2" width="4.3" height="4.3" fill="#ee2312" stroke="#d61f10"/>
<rect x="191.0" y="184.3" width="4.3" height="4.3" fill="#f03110" stroke="#d82c0e"/>
<rect x="134.0" y="219.8" width="4.3" height="4.3" fill="#f29510" stroke="#d9860e"/>
<rect x="143.2" y="218.2" width="4.3" height="4.3" fill="#f28a10" stroke="#d97c0e"/>
<rect x="152.4" y="214.3" width="4.3" height="4.3" fill="#f17e10" stroke="#d8710e"/>
<rect x="128.7" y="222.0" width="4.3" height="4.3" fill="#f29b0f" stroke="#d98b0d"/>
<rect x="193.5" y="141.3" width="4.3" height="4.3" fill="#f02d10" stroke="#d8280e"/>
<rect x="206.9" y="122.5" width="4.3" height="4.3" fill="#ee1d12" stroke="#d61a10"/>
<rect x="213.0" y="121.8" width="4.3" height="4.3" fill="#ed1c11" stroke="#d5190f"/>
<rect x="210.3" y="126.5" width="4.3" height="4.3" fill="#ed1d12" stroke="#d51a10"/>
<line x1="-7.48" y1="281.18" x2="306.46" y2="14.10" stroke="#d8e070" stroke-opacity="0.15" stroke-width="0.8"/>
<line x1="-7.48" y1="261.94" x2="306.46" y2="-5.14" stroke="#3a8c40" stroke-opacity="1" stroke-width="1.1"/>
<line x1="-7.48" y1="300.42" x2="306.46" y2="33.34" stroke="#3a8c40" stroke-opacity="1" stroke-width="1.1"/>
</g>
<rect x="32.6" y="50.3" width="230.2" height="196.7" fill="none" stroke="#6a6a6a" stroke-width="1.3"/>
<line x1="49.6" y1="247.0" x2="49.6" y2="249.0" stroke="#555" stroke-width="0.8"/>
<text x="49.6" y="256.6" text-anchor="middle" font-size="6.4" font-weight="bold" fill="#222">2</text>
<line x1="30.6" y1="232.6" x2="32.6" y2="232.6" stroke="#555" stroke-width="0.8"/>
<text x="30.1" y="234.9" text-anchor="end" font-size="6.4" font-weight="bold" fill="#222">2</text>
<line x1="78.1" y1="247.0" x2="78.1" y2="249.0" stroke="#555" stroke-width="0.8"/>
<text x="78.1" y="256.6" text-anchor="middle" font-size="6.4" font-weight="bold" fill="#222">4</text>
<line x1="30.6" y1="208.3" x2="32.6" y2="208.3" stroke="#555" stroke-width="0.8"/>
<text x="30.1" y="210.6" text-anchor="end" font-size="6.4" font-weight="bold" fill="#222">4</text>
<line x1="106.7" y1="247.0" x2="106.7" y2="249.0" stroke="#555" stroke-width="0.8"/>
<text x="106.7" y="256.6" text-anchor="middle" font-size="6.4" font-weight="bold" fill="#222">6</text>
<line x1="30.6" y1="184.1" x2="32.6" y2="184.1" stroke="#555" stroke-width="0.8"/>
<text x="30.1" y="186.4" text-anchor="end" font-size="6.4" font-weight="bold" fill="#222">6</text>
<line x1="135.2" y1="247.0" x2="135.2" y2="249.0" stroke="#555" stroke-width="0.8"/>
<text x="135.2" y="256.6" text-anchor="middle" font-size="6.4" font-weight="bold" fill="#222">8</text>
<line x1="30.6" y1="159.8" x2="32.6" y2="159.8" stroke="#555" stroke-width="0.8"/>
<text x="30.1" y="162.1" text-anchor="end" font-size="6.4" font-weight="bold" fill="#222">8</text>
<line x1="163.8" y1="247.0" x2="163.8" y2="249.0" stroke="#555" stroke-width="0.8"/>
<text x="163.8" y="256.6" text-anchor="middle" font-size="6.4" font-weight="bold" fill="#222">10</text>
<line x1="30.6" y1="135.5" x2="32.6" y2="135.5" stroke="#555" stroke-width="0.8"/>
<text x="30.1" y="137.8" text-anchor="end" font-size="6.4" font-weight="bold" fill="#222">10</text>
<line x1="192.3" y1="247.0" x2="192.3" y2="249.0" stroke="#555" stroke-width="0.8"/>
<text x="192.3" y="256.6" text-anchor="middle" font-size="6.4" font-weight="bold" fill="#222">12</text>
<line x1="30.6" y1="111.2" x2="32.6" y2="111.2" stroke="#555" stroke-width="0.8"/>
<text x="30.1" y="113.5" text-anchor="end" font-size="6.4" font-weight="bold" fill="#222">12</text>
<line x1="220.8" y1="247.0" x2="220.8" y2="249.0" stroke="#555" stroke-width="0.8"/>
<text x="220.8" y="256.6" text-anchor="middle" font-size="6.4" font-weight="bold" fill="#222">14</text>
<line x1="30.6" y1="86.9" x2="32.6" y2="86.9" stroke="#555" stroke-width="0.8"/>
<text x="30.1" y="89.2" text-anchor="end" font-size="6.4" font-weight="bold" fill="#222">14</text>
<line x1="249.4" y1="247.0" x2="249.4" y2="249.0" stroke="#555" stroke-width="0.8"/>
<text x="249.4" y="256.6" text-anchor="middle" font-size="6.4" font-weight="bold" fill="#222">16</text>
<line x1="30.6" y1="62.7" x2="32.6" y2="62.7" stroke="#555" stroke-width="0.8"/>
<text x="30.1" y="65.0" text-anchor="end" font-size="6.4" font-weight="bold" fill="#222">16</text>
<text x="35.6" y="63.5" font-size="14" font-weight="bold" font-style="italic" textLength="30.5" lengthAdjust="spacingAndGlyphs">Spib</text>
<text x="67.2" y="59.6" font-size="8.5" font-weight="bold" font-style="italic" textLength="9.5" lengthAdjust="spacingAndGlyphs">-/-</text>
<text x="233.5" y="240.2" font-size="14.3" font-weight="bold" textLength="22.6" lengthAdjust="spacingAndGlyphs">WT</text>
<text x="236.6" y="47.9" font-size="14.6" font-weight="bold" textLength="16" lengthAdjust="spacingAndGlyphs">×3</text>
<text x="265.8" y="72.4" font-size="14.6" font-weight="bold" textLength="16" lengthAdjust="spacingAndGlyphs">×3</text>
<text x="107.3" y="271" font-size="14.6" font-weight="bold" textLength="87.4" lengthAdjust="spacingAndGlyphs">log intensity</text>
<text transform="translate(18.2,189.6) rotate(-90)" font-size="14.6" font-weight="bold" textLength="88.2" lengthAdjust="spacingAndGlyphs">log intensity</text>
<g fill="#262682" stroke="#262682" stroke-width="0.25" font-size="11" font-weight="bold" font-style="italic">
<text x="239.1" y="101.4" textLength="22.8" lengthAdjust="spacingAndGlyphs">Klk1</text>
<text x="223.3" y="125.4" textLength="35" lengthAdjust="spacingAndGlyphs">Klra17</text>
<text x="223.9" y="146.4" textLength="25.6" lengthAdjust="spacingAndGlyphs">Mgl1</text>
<text x="208.2" y="171" textLength="36.9" lengthAdjust="spacingAndGlyphs">Slamf9</text>
<text x="210.6" y="196" textLength="40.7" lengthAdjust="spacingAndGlyphs">Cd209d</text>
<text x="190.5" y="217.4" textLength="39.8" lengthAdjust="spacingAndGlyphs">Cd209a</text>
<text x="100" y="243" textLength="26.9" lengthAdjust="spacingAndGlyphs">Odz4</text>
<text x="138.5" y="243" textLength="36" lengthAdjust="spacingAndGlyphs">Clec4g</text>
</g>
<g stroke="#1e1e78" stroke-width="1" fill="#1e1e78">
<line x1="228.4" y1="112.7" x2="231.2" y2="116.6"/>
<path d="M225.6 107.8 L230.9 111.4 L226.2 114.2 Z" stroke="none"/>
<line x1="128.8" y1="236.6" x2="139.5" y2="232.5"/>
<path d="M145.2 230.7 L138.2 229.4 L140.6 235.8 Z" stroke="none"/>
<line x1="156.1" y1="236.8" x2="156.1" y2="232"/>
<path d="M156.1 227.2 L152.9 233.2 L159.3 233.2 Z" stroke="none"/>
</g>
<!-- Panel B -->
<text x="3.0" y="287.7" font-size="17.6" font-weight="bold">B</text>
<text transform="translate(11.9,420.3) rotate(-90)" font-size="13" font-weight="bold" textLength="123" lengthAdjust="spacingAndGlyphs">Relative expression</text>
<g font-size="8.8" font-weight="bold" text-anchor="end">
<text x="35.6" y="311.3">1.5</text>
<text x="35.6" y="344.7">1.0</text>
<text x="35.6" y="378.5">0.5</text>
<text x="35.6" y="412.5">0</text>
</g>
<path d="M41.1 308.4 H38.9 V409.3 H69.4 V407.1" fill="none" stroke="#000" stroke-width="1.4"/>
<line x1="38.9" y1="375.7" x2="40.9" y2="375.7" stroke="#000" stroke-width="1"/>
<line x1="38.9" y1="342.0" x2="40.9" y2="342.0" stroke="#000" stroke-width="1"/>
<rect x="44.5" y="340.7" width="10.5" height="68.6" fill="#000"/>
<path d="M49.8 340.7 V337.3 M45.1 337.3 H54.4" stroke="#000" stroke-width="1.4" fill="none"/>
<rect x="55.1" y="336.2" width="7.7" height="73.1" fill="#fff" stroke="#000" stroke-width="1.3"/>
<path d="M59.2 336.2 V329.5 M56.0 329.5 H62.9" stroke="#000" stroke-width="1.4" fill="none"/>
<text x="46.5" y="303.5" textLength="16.9" lengthAdjust="spacingAndGlyphs" font-size="11.5" font-weight="bold" font-style="italic">Irf8</text>
<path d="M75.5 308.4 H73.3 V409.3 H104.0 V407.1" fill="none" stroke="#000" stroke-width="1.4"/>
<line x1="73.3" y1="375.7" x2="75.3" y2="375.7" stroke="#000" stroke-width="1"/>
<line x1="73.3" y1="342.0" x2="75.3" y2="342.0" stroke="#000" stroke-width="1"/>
<rect x="79.6" y="339.7" width="10.4" height="69.6" fill="#000"/>
<path d="M84.8 339.7 V337.3 M80.2 337.3 H89.4" stroke="#000" stroke-width="1.4" fill="none"/>
<rect x="90.1" y="335.3" width="6.9" height="74.0" fill="#fff" stroke="#000" stroke-width="1.3"/>
<path d="M93.8 335.3 V331.2 M91.0 331.2 H97.1" stroke="#000" stroke-width="1.4" fill="none"/>
<text x="81.5" y="303.5" textLength="22.1" lengthAdjust="spacingAndGlyphs" font-size="11.5" font-weight="bold" font-style="italic">Tcf4</text>
<path d="M111.0 308.4 H108.8 V409.3 H138.5 V407.1" fill="none" stroke="#000" stroke-width="1.4"/>
<line x1="108.8" y1="375.7" x2="110.8" y2="375.7" stroke="#000" stroke-width="1"/>
<line x1="108.8" y1="342.0" x2="110.8" y2="342.0" stroke="#000" stroke-width="1"/>
<rect x="115.4" y="338.0" width="10.1" height="71.3" fill="#000"/>
<path d="M120.5 338.0 V335.9 M116.0 335.9 H124.9" stroke="#000" stroke-width="1.4" fill="none"/>
<rect x="125.6" y="360.2" width="6.4" height="49.1" fill="#fff" stroke="#000" stroke-width="1.3"/>
<path d="M129.1 360.2 V353.4 M126.5 353.4 H132.1" stroke="#000" stroke-width="1.4" fill="none"/>
<text x="116.2" y="303.5" textLength="16.7" lengthAdjust="spacingAndGlyphs" font-size="11.5" font-weight="bold" font-style="italic">Tlr7</text>
<path d="M147.7 308.4 H145.5 V409.3 H176.0 V407.1" fill="none" stroke="#000" stroke-width="1.4"/>
<line x1="145.5" y1="375.7" x2="147.5" y2="375.7" stroke="#000" stroke-width="1"/>
<line x1="145.5" y1="342.0" x2="147.5" y2="342.0" stroke="#000" stroke-width="1"/>
<rect x="152.0" y="338.0" width="10.0" height="71.3" fill="#000"/>
<path d="M157.0 338.0 V335.9 M152.6 335.9 H161.4" stroke="#000" stroke-width="1.4" fill="none"/>
<rect x="162.1" y="358.2" width="6.8" height="51.1" fill="#fff" stroke="#000" stroke-width="1.3"/>
<line x1="162.0" y1="358.6" x2="169.5" y2="358.6" stroke="#000" stroke-width="2.4"/>
<text x="153.1" y="303.5" textLength="20.2" lengthAdjust="spacingAndGlyphs" font-size="11.5" font-weight="bold" font-style="italic">Tlr9</text>
<path d="M183.9 308.4 H181.7 V409.3 H214.5 V407.1" fill="none" stroke="#000" stroke-width="1.4"/>
<line x1="181.7" y1="375.7" x2="183.7" y2="375.7" stroke="#000" stroke-width="1"/>
<line x1="181.7" y1="342.0" x2="183.7" y2="342.0" stroke="#000" stroke-width="1"/>
<rect x="188.0" y="340.0" width="11.0" height="69.3" fill="#000"/>
<path d="M193.5 340.0 V337.3 M188.6 337.3 H198.4" stroke="#000" stroke-width="1.4" fill="none"/>
<rect x="199.1" y="369.6" width="8.2" height="39.7" fill="#fff" stroke="#000" stroke-width="1.3"/>
<line x1="199.0" y1="370.0" x2="207.9" y2="370.0" stroke="#000" stroke-width="2.4"/>
<text x="190.2" y="303.5" textLength="17.7" lengthAdjust="spacingAndGlyphs" font-size="11.5" font-weight="bold" font-style="italic">Irf7</text>
<path d="M220.7 308.4 H218.5 V409.3 H250.0 V407.1" fill="none" stroke="#000" stroke-width="1.4"/>
<line x1="218.5" y1="375.7" x2="220.5" y2="375.7" stroke="#000" stroke-width="1"/>
<line x1="218.5" y1="342.0" x2="220.5" y2="342.0" stroke="#000" stroke-width="1"/>
<rect x="225.8" y="340.7" width="10.4" height="68.6" fill="#000"/>
<path d="M231.0 340.7 V335.9 M226.4 335.9 H235.6" stroke="#000" stroke-width="1.4" fill="none"/>
<rect x="236.3" y="393.8" width="7.5" height="15.5" fill="#fff" stroke="#000" stroke-width="1.3"/>
<line x1="236.2" y1="394.2" x2="244.4" y2="394.2" stroke="#000" stroke-width="2.4"/>
<text x="220.5" y="303.5" textLength="34.6" lengthAdjust="spacingAndGlyphs" font-size="11.5" font-weight="bold" font-style="italic">Klra17</text>
<path d="M262.0 308.4 H259.8 V409.3 H291.5 V407.1" fill="none" stroke="#000" stroke-width="1.4"/>
<line x1="259.8" y1="375.7" x2="261.8" y2="375.7" stroke="#000" stroke-width="1"/>
<line x1="259.8" y1="342.0" x2="261.8" y2="342.0" stroke="#000" stroke-width="1"/>
<rect x="266.6" y="341.3" width="9.7" height="68.0" fill="#000"/>
<path d="M271.5 341.3 V337.3 M267.2 337.3 H275.7" stroke="#000" stroke-width="1.4" fill="none"/>
<rect x="276.4" y="396.5" width="8.1" height="12.8" fill="#fff" stroke="#000" stroke-width="1.3"/>
<path d="M280.8 396.5 V381.0 M277.3 381.0 H284.6" stroke="#000" stroke-width="1.4" fill="none"/>
<text x="259.7" y="303.5" textLength="38.2" lengthAdjust="spacingAndGlyphs" font-size="11.5" font-weight="bold" font-style="italic">Clec4g</text>
<path d="M301.6 308.4 H299.4 V409.3 H330.5 V407.1" fill="none" stroke="#000" stroke-width="1.4"/>
<line x1="299.4" y1="375.7" x2="301.4" y2="375.7" stroke="#000" stroke-width="1"/>
<line x1="299.4" y1="342.0" x2="301.4" y2="342.0" stroke="#000" stroke-width="1"/>
<rect x="305.5" y="340.0" width="10.6" height="69.3" fill="#000"/>
<path d="M310.8 340.0 V336.6 M306.1 336.6 H315.5" stroke="#000" stroke-width="1.4" fill="none"/>
<rect x="316.2" y="400.6" width="8.1" height="8.7" fill="#fff" stroke="#000" stroke-width="1.3"/>
<line x1="316.1" y1="401.0" x2="324.9" y2="401.0" stroke="#000" stroke-width="2.4"/>
<text x="304.0" y="303.5" textLength="23.0" lengthAdjust="spacingAndGlyphs" font-size="11.5" font-weight="bold" font-style="italic">Klk1</text>
<path d="M339.7 308.4 H337.5 V409.3 H372.0 V407.1" fill="none" stroke="#000" stroke-width="1.4"/>
<line x1="337.5" y1="375.7" x2="339.5" y2="375.7" stroke="#000" stroke-width="1"/>
<line x1="337.5" y1="342.0" x2="339.5" y2="342.0" stroke="#000" stroke-width="1"/>
<rect x="344.4" y="340.0" width="11.8" height="69.3" fill="#000"/>
<path d="M350.3 340.0 V322.5 M345.0 322.5 H355.6" stroke="#000" stroke-width="1.4" fill="none"/>
<rect x="356.3" y="405.9" width="8.0" height="3.4" fill="#fff" stroke="#000" stroke-width="1.3"/>
<line x1="356.2" y1="406.3" x2="364.9" y2="406.3" stroke="#000" stroke-width="2.4"/>
<text x="334.8" y="303.5" textLength="42.7" lengthAdjust="spacingAndGlyphs" font-size="11.5" font-weight="bold" font-style="italic">Cd209d</text>
<rect x="152" y="422.7" width="12.9" height="12.7" fill="#000"/>
<text x="168.6" y="433.3" font-size="11.5" font-weight="bold" textLength="17.2" lengthAdjust="spacingAndGlyphs">WT</text>
<rect x="196" y="422.4" width="12.8" height="12.8" fill="#fff" stroke="#000" stroke-width="1.4"/>
<text x="214.1" y="432.9" font-size="11.8" font-weight="bold" font-style="italic" textLength="23.3" lengthAdjust="spacingAndGlyphs">Spib</text>
<text x="238" y="429.3" font-size="7" font-weight="bold" font-style="italic" textLength="7.6" lengthAdjust="spacingAndGlyphs">-/-</text>
<!-- Panel C -->
<text x="365.6" y="19.8" font-size="17.6" font-weight="bold">C</text>
<path d="M408.65000000000003 42 V22.5 H421.35 V42 M446.75 42 V19.9 H459.45 V42 M434.05 42 V15.6 H453.1 V19.9 M415.0 22.5 V10.7 H443.57500000000005 V15.6 M429.2875 10.7 V6.9 H472.15 V42 M450.71875 6.9 V2.5" fill="none" stroke="#000" stroke-width="1.5"/>
<defs><linearGradient id="cb" x1="0" y1="0" x2="0" y2="1">
<stop offset="0" stop-color="#ee1c1c"/>
<stop offset="0.18" stop-color="#f0501c"/>
<stop offset="0.36" stop-color="#f2a020"/>
<stop offset="0.52" stop-color="#f6ec10"/>
<stop offset="0.6" stop-color="#eee818"/>
<stop offset="0.7" stop-color="#a8a468"/>
<stop offset="0.82" stop-color="#6868a8"/>
<stop offset="0.96" stop-color="#2020e0"/>
<stop offset="1" stop-color="#1c1ce4"/>
</linearGradient></defs>
<rect x="379.5" y="56.8" width="11.5" height="86.7" fill="url(#cb)"/>
<text x="371.6" y="51.2" font-size="11.2" font-weight="bold">High</text>
<text x="373.8" y="153" font-size="11" font-weight="bold">Low</text>
<text transform="translate(374.6,132.2) rotate(-90)" font-size="11.5" font-weight="bold" textLength="61.9" lengthAdjust="spacingAndGlyphs">Expression</text>
<rect x="402.30" y="41.80" width="76.20" height="350.50" fill="#f8f008"/>
<rect x="402.30" y="41.80" width="12.75" height="6.31" fill="#f8e010"/>
<rect x="415.00" y="41.80" width="12.75" height="6.31" fill="#ccc630"/>
<rect x="427.70" y="41.80" width="12.75" height="6.31" fill="#f29c22"/>
<rect x="440.40" y="41.80" width="12.75" height="6.31" fill="#ccc630"/>
<rect x="453.10" y="41.80" width="12.75" height="6.31" fill="#b4ae46"/>
<rect x="465.80" y="41.80" width="12.75" height="6.31" fill="#f6c81c"/>
<rect x="402.30" y="48.06" width="12.75" height="6.31" fill="#f9f108"/>
<rect x="415.00" y="48.06" width="12.75" height="6.31" fill="#f9f108"/>
<rect x="427.70" y="48.06" width="12.75" height="6.31" fill="#f9f108"/>
<rect x="440.40" y="48.06" width="12.75" height="6.31" fill="#f9f108"/>
<rect x="453.10" y="48.06" width="12.75" height="6.31" fill="#f9f108"/>
<rect x="465.80" y="48.06" width="12.75" height="6.31" fill="#f9f108"/>
<rect x="402.30" y="54.32" width="12.75" height="6.31" fill="#f9f108"/>
<rect x="415.00" y="54.32" width="12.75" height="6.31" fill="#f6c81c"/>
<rect x="427.70" y="54.32" width="12.75" height="6.31" fill="#ccc630"/>
<rect x="440.40" y="54.32" width="12.75" height="6.31" fill="#f9f108"/>
<rect x="453.10" y="54.32" width="12.75" height="6.31" fill="#f9f108"/>
<rect x="465.80" y="54.32" width="12.75" height="6.31" fill="#f9f108"/>
<rect x="402.30" y="60.58" width="12.75" height="6.31" fill="#f6c81c"/>
<rect x="415.00" y="60.58" width="12.75" height="6.31" fill="#f9f108"/>
<rect x="427.70" y="60.58" width="12.75" height="6.31" fill="#ccc630"/>
<rect x="440.40" y="60.58" width="12.75" height="6.31" fill="#ccc630"/>
<rect x="453.10" y="60.58" width="12.75" height="6.31" fill="#f9f108"/>
<rect x="465.80" y="60.58" width="12.75" height="6.31" fill="#ccc630"/>
<rect x="402.30" y="66.84" width="12.75" height="6.31" fill="#f9f108"/>
<rect x="415.00" y="66.84" width="12.75" height="6.31" fill="#f9f108"/>
<rect x="427.70" y="66.84" width="12.75" height="6.31" fill="#f9f108"/>
<rect x="440.40" y="66.84" width="12.75" height="6.31" fill="#f9f108"/>
<rect x="453.10" y="66.84" width="12.75" height="6.31" fill="#f9f108"/>
<rect x="465.80" y="66.84" width="12.75" height="6.31" fill="#f6c81c"/>
<rect x="402.30" y="73.09" width="12.75" height="6.31" fill="#ccc630"/>
<rect x="415.00" y="73.09" width="12.75" height="6.31" fill="#ccc630"/>
<rect x="427.70" y="73.09" width="12.75" height="6.31" fill="#f6c81c"/>
<rect x="440.40" y="73.09" width="12.75" height="6.31" fill="#f8e010"/>
<rect x="453.10" y="73.09" width="12.75" height="6.31" fill="#f9f108"/>
<rect x="465.80" y="73.09" width="12.75" height="6.31" fill="#f9f108"/>
<rect x="402.30" y="79.35" width="12.75" height="6.31" fill="#f9f108"/>
<rect x="415.00" y="79.35" width="12.75" height="6.31" fill="#f6c81c"/>
<rect x="427.70" y="79.35" width="12.75" height="6.31" fill="#b4ae46"/>
<rect x="440.40" y="79.35" width="12.75" height="6.31" fill="#f9f108"/>
<rect x="453.10" y="79.35" width="12.75" height="6.31" fill="#b4ae46"/>
<rect x="465.80" y="79.35" width="12.75" height="6.31" fill="#f9f108"/>
<rect x="402.30" y="85.61" width="12.75" height="6.31" fill="#f9f108"/>
<rect x="415.00" y="85.61" width="12.75" height="6.31" fill="#f9f108"/>
<rect x="427.70" y="85.61" width="12.75" height="6.31" fill="#f9f108"/>
<rect x="440.40" y="85.61" width="12.75" height="6.31" fill="#f9f108"/>
<rect x="453.10" y="85.61" width="12.75" height="6.31" fill="#f9f108"/>
<rect x="465.80" y="85.61" width="12.75" height="6.31" fill="#f8e010"/>
<rect x="402.30" y="91.87" width="12.75" height="6.31" fill="#b4ae46"/>
<rect x="415.00" y="91.87" width="12.75" height="6.31" fill="#ccc630"/>
<rect x="427.70" y="91.87" width="12.75" height="6.31" fill="#f9f108"/>
<rect x="440.40" y="91.87" width="12.75" height="6.31" fill="#b4ae46"/>
<rect x="453.10" y="91.87" width="12.75" height="6.31" fill="#f6c81c"/>
<rect x="465.80" y="91.87" width="12.75" height="6.31" fill="#f9f108"/>
<rect x="402.30" y="98.13" width="12.75" height="6.31" fill="#f9f108"/>
<rect x="415.00" y="98.13" width="12.75" height="6.31" fill="#f9f108"/>
<rect x="427.70" y="98.13" width="12.75" height="6.31" fill="#f9f108"/>
<rect x="440.40" y="98.13" width="12.75" height="6.31" fill="#f9f108"/>
<rect x="453.10" y="98.13" width="12.75" height="6.31" fill="#f9f108"/>
<rect x="465.80" y="98.13" width="12.75" height="6.31" fill="#f9f108"/>
<rect x="402.30" y="104.39" width="12.75" height="6.31" fill="#ccc630"/>
<rect x="415.00" y="104.39" width="12.75" height="6.31" fill="#b4ae46"/>
<rect x="427.70" y="104.39" width="12.75" height="6.31" fill="#f9f108"/>
<rect x="440.40" y="104.39" width="12.75" height="6.31" fill="#f8e010"/>
<rect x="453.10" y="104.39" width="12.75" height="6.31" fill="#f9f108"/>
<rect x="465.80" y="104.39" width="12.75" height="6.31" fill="#f9f108"/>
<rect x="402.30" y="110.65" width="12.75" height="6.31" fill="#f9f108"/>
<rect x="415.00" y="110.65" width="12.75" height="6.31" fill="#f9f108"/>
<rect x="427.70" y="110.65" width="12.75" height="6.31" fill="#f9f108"/>
<rect x="440.40" y="110.65" width="12.75" height="6.31" fill="#f9f108"/>
<rect x="453.10" y="110.65" width="12.75" height="6.31" fill="#f9f108"/>
<rect x="465.80" y="110.65" width="12.75" height="6.31" fill="#f05616"/>
<rect x="402.30" y="116.91" width="12.75" height="6.31" fill="#f9f108"/>
<rect x="415.00" y="116.91" width="12.75" height="6.31" fill="#f9f108"/>
<rect x="427.70" y="116.91" width="12.75" height="6.31" fill="#f9f108"/>
<rect x="440.40" y="116.91" width="12.75" height="6.31" fill="#f9f108"/>
<rect x="453.10" y="116.91" width="12.75" height="6.31" fill="#f9f108"/>
<rect x="465.80" y="116.91" width="12.75" height="6.31" fill="#f05616"/>
<rect x="402.30" y="123.17" width="12.75" height="6.31" fill="#f9f108"/>
<rect x="415.00" y="123.17" width="12.75" height="6.31" fill="#f9f108"/>
<rect x="427.70" y="123.17" width="12.75" height="6.31" fill="#f8e010"/>
<rect x="440.40" y="123.17" width="12.75" height="6.31" fill="#f9f108"/>
<rect x="453.10" y="123.17" width="12.75" height="6.31" fill="#f8e010"/>
<rect x="465.80" y="123.17" width="12.75" height="6.31" fill="#f05616"/>
<rect x="402.30" y="129.43" width="12.75" height="6.31" fill="#f9f108"/>
<rect x="415.00" y="129.43" width="12.75" height="6.31" fill="#f9f108"/>
<rect x="427.70" y="129.43" width="12.75" height="6.31" fill="#f9f108"/>
<rect x="440.40" y="129.43" width="12.75" height="6.31" fill="#f9f108"/>
<rect x="453.10" y="129.43" width="12.75" height="6.31" fill="#f9f108"/>
<rect x="465.80" y="129.43" width="12.75" height="6.31" fill="#ea1c16"/>
<rect x="402.30" y="135.68" width="12.75" height="6.31" fill="#f9f108"/>
<rect x="415.00" y="135.68" width="12.75" height="6.31" fill="#f9f108"/>
<rect x="427.70" y="135.68" width="12.75" height="6.31" fill="#f9f108"/>
<rect x="440.40" y="135.68" width="12.75" height="6.31" fill="#f9f108"/>
<rect x="453.10" y="135.68" width="12.75" height="6.31" fill="#f9f108"/>
<rect x="465.80" y="135.68" width="12.75" height="6.31" fill="#ea1c16"/>
<rect x="402.30" y="141.94" width="12.75" height="6.31" fill="#f29c22"/>
<rect x="415.00" y="141.94" width="12.75" height="6.31" fill="#f9f108"/>
<rect x="427.70" y="141.94" width="12.75" height="6.31" fill="#f9f108"/>
<rect x="440.40" y="141.94" width="12.75" height="6.31" fill="#f9f108"/>
<rect x="453.10" y="141.94" width="12.75" height="6.31" fill="#f9f108"/>
<rect x="465.80" y="141.94" width="12.75" height="6.31" fill="#f05616"/>
<rect x="402.30" y="148.20" width="12.75" height="6.31" fill="#f9f108"/>
<rect x="415.00" y="148.20" width="12.75" height="6.31" fill="#f9f108"/>
<rect x="427.70" y="148.20" width="12.75" height="6.31" fill="#f9f108"/>
<rect x="440.40" y="148.20" width="12.75" height="6.31" fill="#f9f108"/>
<rect x="453.10" y="148.20" width="12.75" height="6.31" fill="#f9f108"/>
<rect x="465.80" y="148.20" width="12.75" height="6.31" fill="#ea1c16"/>
<rect x="402.30" y="154.46" width="12.75" height="6.31" fill="#f9f108"/>
<rect x="415.00" y="154.46" width="12.75" height="6.31" fill="#f9f108"/>
<rect x="427.70" y="154.46" width="12.75" height="6.31" fill="#f9f108"/>
<rect x="440.40" y="154.46" width="12.75" height="6.31" fill="#f9f108"/>
<rect x="453.10" y="154.46" width="12.75" height="6.31" fill="#f9f108"/>
<rect x="465.80" y="154.46" width="12.75" height="6.31" fill="#ea1c16"/>
<rect x="402.30" y="160.72" width="12.75" height="6.31" fill="#f9f108"/>
<rect x="415.00" y="160.72" width="12.75" height="6.31" fill="#f9f108"/>
<rect x="427.70" y="160.72" width="12.75" height="6.31" fill="#f9f108"/>
<rect x="440.40" y="160.72" width="12.75" height="6.31" fill="#f9f108"/>
<rect x="453.10" y="160.72" width="12.75" height="6.31" fill="#f9f108"/>
<rect x="465.80" y="160.72" width="12.75" height="6.31" fill="#ea1c16"/>
<rect x="402.30" y="166.98" width="12.75" height="6.31" fill="#f9f108"/>
<rect x="415.00" y="166.98" width="12.75" height="6.31" fill="#f6c81c"/>
<rect x="427.70" y="166.98" width="12.75" height="6.31" fill="#f9f108"/>
<rect x="440.40" y="166.98" width="12.75" height="6.31" fill="#f9f108"/>
<rect x="453.10" y="166.98" width="12.75" height="6.31" fill="#f9f108"/>
<rect x="465.80" y="166.98" width="12.75" height="6.31" fill="#ea1c16"/>
<rect x="402.30" y="173.24" width="12.75" height="6.31" fill="#f9f108"/>
<rect x="415.00" y="173.24" width="12.75" height="6.31" fill="#f1781c"/>
<rect x="427.70" y="173.24" width="12.75" height="6.31" fill="#f9f108"/>
<rect x="440.40" y="173.24" width="12.75" height="6.31" fill="#f9f108"/>
<rect x="453.10" y="173.24" width="12.75" height="6.31" fill="#f9f108"/>
<rect x="465.80" y="173.24" width="12.75" height="6.31" fill="#ea1c16"/>
<rect x="402.30" y="179.50" width="12.75" height="6.31" fill="#f9f108"/>
<rect x="415.00" y="179.50" width="12.75" height="6.31" fill="#f05616"/>
<rect x="427.70" y="179.50" width="12.75" height="6.31" fill="#ccc630"/>
<rect x="440.40" y="179.50" width="12.75" height="6.31" fill="#ccc630"/>
<rect x="453.10" y="179.50" width="12.75" height="6.31" fill="#ded824"/>
<rect x="465.80" y="179.50" width="12.75" height="6.31" fill="#ea1c16"/>
<rect x="402.30" y="185.76" width="12.75" height="6.31" fill="#f9f108"/>
<rect x="415.00" y="185.76" width="12.75" height="6.31" fill="#f9f108"/>
<rect x="427.70" y="185.76" width="12.75" height="6.31" fill="#f9f108"/>
<rect x="440.40" y="185.76" width="12.75" height="6.31" fill="#f9f108"/>
<rect x="453.10" y="185.76" width="12.75" height="6.31" fill="#f9f108"/>
<rect x="465.80" y="185.76" width="12.75" height="6.31" fill="#f6c81c"/>
<rect x="402.30" y="192.01" width="12.75" height="6.31" fill="#f9f108"/>
<rect x="415.00" y="192.01" width="12.75" height="6.31" fill="#f9f108"/>
<rect x="427.70" y="192.01" width="12.75" height="6.31" fill="#f9f108"/>
<rect x="440.40" y="192.01" width="12.75" height="6.31" fill="#f9f108"/>
<rect x="453.10" y="192.01" width="12.75" height="6.31" fill="#f9f108"/>
<rect x="465.80" y="192.01" width="12.75" height="6.31" fill="#f9f108"/>
<rect x="402.30" y="198.27" width="12.75" height="6.31" fill="#f9f108"/>
<rect x="415.00" y="198.27" width="12.75" height="6.31" fill="#f9f108"/>
<rect x="427.70" y="198.27" width="12.75" height="6.31" fill="#f9f108"/>
<rect x="440.40" y="198.27" width="12.75" height="6.31" fill="#f8e010"/>
<rect x="453.10" y="198.27" width="12.75" height="6.31" fill="#b4ae46"/>
<rect x="465.80" y="198.27" width="12.75" height="6.31" fill="#f9f108"/>
<rect x="402.30" y="204.53" width="12.75" height="6.31" fill="#ccc630"/>
<rect x="415.00" y="204.53" width="12.75" height="6.31" fill="#ded824"/>
<rect x="427.70" y="204.53" width="12.75" height="6.31" fill="#f8e010"/>
<rect x="440.40" y="204.53" width="12.75" height="6.31" fill="#f9f108"/>
<rect x="453.10" y="204.53" width="12.75" height="6.31" fill="#f6c81c"/>
<rect x="465.80" y="204.53" width="12.75" height="6.31" fill="#f9f108"/>
<rect x="402.30" y="210.79" width="12.75" height="6.31" fill="#ded824"/>
<rect x="415.00" y="210.79" width="12.75" height="6.31" fill="#f9f108"/>
<rect x="427.70" y="210.79" width="12.75" height="6.31" fill="#f9f108"/>
<rect x="440.40" y="210.79" width="12.75" height="6.31" fill="#f6c81c"/>
<rect x="453.10" y="210.79" width="12.75" height="6.31" fill="#f29c22"/>
<rect x="465.80" y="210.79" width="12.75" height="6.31" fill="#f9f108"/>
<rect x="402.30" y="217.05" width="12.75" height="6.31" fill="#f6c81c"/>
<rect x="415.00" y="217.05" width="12.75" height="6.31" fill="#f9f108"/>
<rect x="427.70" y="217.05" width="12.75" height="6.31" fill="#f8e010"/>
<rect x="440.40" y="217.05" width="12.75" height="6.31" fill="#b4ae46"/>
<rect x="453.10" y="217.05" width="12.75" height="6.31" fill="#ccc630"/>
<rect x="465.80" y="217.05" width="12.75" height="6.31" fill="#ea1c16"/>
<rect x="402.30" y="223.31" width="12.75" height="6.31" fill="#f05616"/>
<rect x="415.00" y="223.31" width="12.75" height="6.31" fill="#f9f108"/>
<rect x="427.70" y="223.31" width="12.75" height="6.31" fill="#f9f108"/>
<rect x="440.40" y="223.31" width="12.75" height="6.31" fill="#f9f108"/>
<rect x="453.10" y="223.31" width="12.75" height="6.31" fill="#f9f108"/>
<rect x="465.80" y="223.31" width="12.75" height="6.31" fill="#f05616"/>
<rect x="402.30" y="229.57" width="12.75" height="6.31" fill="#f05616"/>
<rect x="415.00" y="229.57" width="12.75" height="6.31" fill="#f9f108"/>
<rect x="427.70" y="229.57" width="12.75" height="6.31" fill="#f9f108"/>
<rect x="440.40" y="229.57" width="12.75" height="6.31" fill="#f9f108"/>
<rect x="453.10" y="229.57" width="12.75" height="6.31" fill="#f9f108"/>
<rect x="465.80" y="229.57" width="12.75" height="6.31" fill="#f05616"/>
<rect x="402.30" y="235.83" width="12.75" height="6.31" fill="#f05616"/>
<rect x="415.00" y="235.83" width="12.75" height="6.31" fill="#f9f108"/>
<rect x="427.70" y="235.83" width="12.75" height="6.31" fill="#f9f108"/>
<rect x="440.40" y="235.83" width="12.75" height="6.31" fill="#f9f108"/>
<rect x="453.10" y="235.83" width="12.75" height="6.31" fill="#f9f108"/>
<rect x="465.80" y="235.83" width="12.75" height="6.31" fill="#f6c81c"/>
<rect x="402.30" y="242.09" width="12.75" height="6.31" fill="#f05616"/>
<rect x="415.00" y="242.09" width="12.75" height="6.31" fill="#f29c22"/>
<rect x="427.70" y="242.09" width="12.75" height="6.31" fill="#f9f108"/>
<rect x="440.40" y="242.09" width="12.75" height="6.31" fill="#ccc630"/>
<rect x="453.10" y="242.09" width="12.75" height="6.31" fill="#ded824"/>
<rect x="465.80" y="242.09" width="12.75" height="6.31" fill="#b4ae46"/>
<rect x="402.30" y="248.34" width="12.75" height="6.31" fill="#f9f108"/>
<rect x="415.00" y="248.34" width="12.75" height="6.31" fill="#f9f108"/>
<rect x="427.70" y="248.34" width="12.75" height="6.31" fill="#f9f108"/>
<rect x="440.40" y="248.34" width="12.75" height="6.31" fill="#f9f108"/>
<rect x="453.10" y="248.34" width="12.75" height="6.31" fill="#f9f108"/>
<rect x="465.80" y="248.34" width="12.75" height="6.31" fill="#ea1c16"/>
<rect x="402.30" y="254.60" width="12.75" height="6.31" fill="#f29c22"/>
<rect x="415.00" y="254.60" width="12.75" height="6.31" fill="#f9f108"/>
<rect x="427.70" y="254.60" width="12.75" height="6.31" fill="#ded824"/>
<rect x="440.40" y="254.60" width="12.75" height="6.31" fill="#ded824"/>
<rect x="453.10" y="254.60" width="12.75" height="6.31" fill="#f9f108"/>
<rect x="465.80" y="254.60" width="12.75" height="6.31" fill="#ea1c16"/>
<rect x="402.30" y="260.86" width="12.75" height="6.31" fill="#f29c22"/>
<rect x="415.00" y="260.86" width="12.75" height="6.31" fill="#f29c22"/>
<rect x="427.70" y="260.86" width="12.75" height="6.31" fill="#f8e010"/>
<rect x="440.40" y="260.86" width="12.75" height="6.31" fill="#f8e010"/>
<rect x="453.10" y="260.86" width="12.75" height="6.31" fill="#b4ae46"/>
<rect x="465.80" y="260.86" width="12.75" height="6.31" fill="#2424e0"/>
<rect x="402.30" y="267.12" width="12.75" height="6.31" fill="#b4ae46"/>
<rect x="415.00" y="267.12" width="12.75" height="6.31" fill="#76769e"/>
<rect x="427.70" y="267.12" width="12.75" height="6.31" fill="#f8e010"/>
<rect x="440.40" y="267.12" width="12.75" height="6.31" fill="#b4ae46"/>
<rect x="453.10" y="267.12" width="12.75" height="6.31" fill="#f1781c"/>
<rect x="465.80" y="267.12" width="12.75" height="6.31" fill="#f6c81c"/>
<rect x="402.30" y="273.38" width="12.75" height="6.31" fill="#ea1c16"/>
<rect x="415.00" y="273.38" width="12.75" height="6.31" fill="#f9f108"/>
<rect x="427.70" y="273.38" width="12.75" height="6.31" fill="#f9f108"/>
<rect x="440.40" y="273.38" width="12.75" height="6.31" fill="#f9f108"/>
<rect x="453.10" y="273.38" width="12.75" height="6.31" fill="#f9f108"/>
<rect x="465.80" y="273.38" width="12.75" height="6.31" fill="#ea1c16"/>
<rect x="402.30" y="279.64" width="12.75" height="6.31" fill="#f9f108"/>
<rect x="415.00" y="279.64" width="12.75" height="6.31" fill="#f9f108"/>
<rect x="427.70" y="279.64" width="12.75" height="6.31" fill="#f9f108"/>
<rect x="440.40" y="279.64" width="12.75" height="6.31" fill="#f9f108"/>
<rect x="453.10" y="279.64" width="12.75" height="6.31" fill="#ea1c16"/>
<rect x="465.80" y="279.64" width="12.75" height="6.31" fill="#ea1c16"/>
<rect x="402.30" y="285.90" width="12.75" height="6.31" fill="#f9f108"/>
<rect x="415.00" y="285.90" width="12.75" height="6.31" fill="#f9f108"/>
<rect x="427.70" y="285.90" width="12.75" height="6.31" fill="#f9f108"/>
<rect x="440.40" y="285.90" width="12.75" height="6.31" fill="#f9f108"/>
<rect x="453.10" y="285.90" width="12.75" height="6.31" fill="#ea1c16"/>
<rect x="465.80" y="285.90" width="12.75" height="6.31" fill="#ea1c16"/>
<rect x="402.30" y="292.16" width="12.75" height="6.31" fill="#f1781c"/>
<rect x="415.00" y="292.16" width="12.75" height="6.31" fill="#f6c81c"/>
<rect x="427.70" y="292.16" width="12.75" height="6.31" fill="#6262ac"/>
<rect x="440.40" y="292.16" width="12.75" height="6.31" fill="#6262ac"/>
<rect x="453.10" y="292.16" width="12.75" height="6.31" fill="#f29c22"/>
<rect x="465.80" y="292.16" width="12.75" height="6.31" fill="#f9f108"/>
<rect x="402.30" y="298.42" width="12.75" height="6.31" fill="#f29c22"/>
<rect x="415.00" y="298.42" width="12.75" height="6.31" fill="#f6c81c"/>
<rect x="427.70" y="298.42" width="12.75" height="6.31" fill="#2424e0"/>
<rect x="440.40" y="298.42" width="12.75" height="6.31" fill="#2424e0"/>
<rect x="453.10" y="298.42" width="12.75" height="6.31" fill="#f1781c"/>
<rect x="465.80" y="298.42" width="12.75" height="6.31" fill="#f9f108"/>
<rect x="402.30" y="304.68" width="12.75" height="6.31" fill="#f29c22"/>
<rect x="415.00" y="304.68" width="12.75" height="6.31" fill="#ea1c16"/>
<rect x="427.70" y="304.68" width="12.75" height="6.31" fill="#969680"/>
<rect x="440.40" y="304.68" width="12.75" height="6.31" fill="#f9f108"/>
<rect x="453.10" y="304.68" width="12.75" height="6.31" fill="#2424e0"/>
<rect x="465.80" y="304.68" width="12.75" height="6.31" fill="#f9f108"/>
<rect x="402.30" y="310.93" width="12.75" height="6.31" fill="#3e3ecd"/>
<rect x="415.00" y="310.93" width="12.75" height="6.31" fill="#2424e0"/>
<rect x="427.70" y="310.93" width="12.75" height="6.31" fill="#f29c22"/>
<rect x="440.40" y="310.93" width="12.75" height="6.31" fill="#f9f108"/>
<rect x="453.10" y="310.93" width="12.75" height="6.31" fill="#f1781c"/>
<rect x="465.80" y="310.93" width="12.75" height="6.31" fill="#969680"/>
<rect x="402.30" y="317.19" width="12.75" height="6.31" fill="#ea1c16"/>
<rect x="415.00" y="317.19" width="12.75" height="6.31" fill="#ea1c16"/>
<rect x="427.70" y="317.19" width="12.75" height="6.31" fill="#f8e010"/>
<rect x="440.40" y="317.19" width="12.75" height="6.31" fill="#6262ac"/>
<rect x="453.10" y="317.19" width="12.75" height="6.31" fill="#6262ac"/>
<rect x="465.80" y="317.19" width="12.75" height="6.31" fill="#f9f108"/>
<rect x="402.30" y="323.45" width="12.75" height="6.31" fill="#ea1c16"/>
<rect x="415.00" y="323.45" width="12.75" height="6.31" fill="#ea1c16"/>
<rect x="427.70" y="323.45" width="12.75" height="6.31" fill="#969680"/>
<rect x="440.40" y="323.45" width="12.75" height="6.31" fill="#6262ac"/>
<rect x="453.10" y="323.45" width="12.75" height="6.31" fill="#969680"/>
<rect x="465.80" y="323.45" width="12.75" height="6.31" fill="#f8e010"/>
<rect x="402.30" y="329.71" width="12.75" height="6.31" fill="#ea1c16"/>
<rect x="415.00" y="329.71" width="12.75" height="6.31" fill="#f9f108"/>
<rect x="427.70" y="329.71" width="12.75" height="6.31" fill="#f9f108"/>
<rect x="440.40" y="329.71" width="12.75" height="6.31" fill="#f9f108"/>
<rect x="453.10" y="329.71" width="12.75" height="6.31" fill="#f9f108"/>
<rect x="465.80" y="329.71" width="12.75" height="6.31" fill="#ea1c16"/>
<rect x="402.30" y="335.97" width="12.75" height="6.31" fill="#f05616"/>
<rect x="415.00" y="335.97" width="12.75" height="6.31" fill="#f29c22"/>
<rect x="427.70" y="335.97" width="12.75" height="6.31" fill="#ccc630"/>
<rect x="440.40" y="335.97" width="12.75" height="6.31" fill="#2424e0"/>
<rect x="453.10" y="335.97" width="12.75" height="6.31" fill="#2424e0"/>
<rect x="465.80" y="335.97" width="12.75" height="6.31" fill="#f29c22"/>
<rect x="402.30" y="342.23" width="12.75" height="6.31" fill="#f8e010"/>
<rect x="415.00" y="342.23" width="12.75" height="6.31" fill="#f29c22"/>
<rect x="427.70" y="342.23" width="12.75" height="6.31" fill="#f9f108"/>
<rect x="440.40" y="342.23" width="12.75" height="6.31" fill="#2424e0"/>
<rect x="453.10" y="342.23" width="12.75" height="6.31" fill="#2424e0"/>
<rect x="465.80" y="342.23" width="12.75" height="6.31" fill="#f9f108"/>
<rect x="402.30" y="348.49" width="12.75" height="6.31" fill="#f8e010"/>
<rect x="415.00" y="348.49" width="12.75" height="6.31" fill="#f29c22"/>
<rect x="427.70" y="348.49" width="12.75" height="6.31" fill="#f9f108"/>
<rect x="440.40" y="348.49" width="12.75" height="6.31" fill="#2424e0"/>
<rect x="453.10" y="348.49" width="12.75" height="6.31" fill="#2424e0"/>
<rect x="465.80" y="348.49" width="12.75" height="6.31" fill="#ccc630"/>
<rect x="402.30" y="354.75" width="12.75" height="6.31" fill="#f8e010"/>
<rect x="415.00" y="354.75" width="12.75" height="6.31" fill="#f9f108"/>
<rect x="427.70" y="354.75" width="12.75" height="6.31" fill="#f29c22"/>
<rect x="440.40" y="354.75" width="12.75" height="6.31" fill="#2424e0"/>
<rect x="453.10" y="354.75" width="12.75" height="6.31" fill="#2424e0"/>
<rect x="465.80" y="354.75" width="12.75" height="6.31" fill="#969680"/>
<rect x="402.30" y="361.01" width="12.75" height="6.31" fill="#f8e010"/>
<rect x="415.00" y="361.01" width="12.75" height="6.31" fill="#f9f108"/>
<rect x="427.70" y="361.01" width="12.75" height="6.31" fill="#6262ac"/>
<rect x="440.40" y="361.01" width="12.75" height="6.31" fill="#2424e0"/>
<rect x="453.10" y="361.01" width="12.75" height="6.31" fill="#2424e0"/>
<rect x="465.80" y="361.01" width="12.75" height="6.31" fill="#f9f108"/>
<rect x="402.30" y="367.26" width="12.75" height="6.31" fill="#f8e010"/>
<rect x="415.00" y="367.26" width="12.75" height="6.31" fill="#f9f108"/>
<rect x="427.70" y="367.26" width="12.75" height="6.31" fill="#6262ac"/>
<rect x="440.40" y="367.26" width="12.75" height="6.31" fill="#2424e0"/>
<rect x="453.10" y="367.26" width="12.75" height="6.31" fill="#2424e0"/>
<rect x="465.80" y="367.26" width="12.75" height="6.31" fill="#f9f108"/>
<rect x="402.30" y="373.52" width="12.75" height="6.31" fill="#f8e010"/>
<rect x="415.00" y="373.52" width="12.75" height="6.31" fill="#f9f108"/>
<rect x="427.70" y="373.52" width="12.75" height="6.31" fill="#6262ac"/>
<rect x="440.40" y="373.52" width="12.75" height="6.31" fill="#2424e0"/>
<rect x="453.10" y="373.52" width="12.75" height="6.31" fill="#2424e0"/>
<rect x="465.80" y="373.52" width="12.75" height="6.31" fill="#f9f108"/>
<rect x="402.30" y="379.78" width="12.75" height="6.31" fill="#ea1c16"/>
<rect x="415.00" y="379.78" width="12.75" height="6.31" fill="#ea1c16"/>
<rect x="427.70" y="379.78" width="12.75" height="6.31" fill="#ccc630"/>
<rect x="440.40" y="379.78" width="12.75" height="6.31" fill="#f9f108"/>
<rect x="453.10" y="379.78" width="12.75" height="6.31" fill="#f9f108"/>
<rect x="465.80" y="379.78" width="12.75" height="6.31" fill="#ea1c16"/>
<rect x="402.30" y="386.04" width="12.75" height="6.31" fill="#ea1c16"/>
<rect x="415.00" y="386.04" width="12.75" height="6.31" fill="#ea1c16"/>
<rect x="427.70" y="386.04" width="12.75" height="6.31" fill="#f9f108"/>
<rect x="440.40" y="386.04" width="12.75" height="6.31" fill="#f9f108"/>
<rect x="453.10" y="386.04" width="12.75" height="6.31" fill="#f9f108"/>
<rect x="465.80" y="386.04" width="12.75" height="6.31" fill="#ea1c16"/>
<line x1="415.00" y1="41.80" x2="415.00" y2="392.30" stroke="#fcfad8" stroke-width="0.9"/>
<line x1="427.70" y1="41.80" x2="427.70" y2="392.30" stroke="#fcfad8" stroke-width="0.9"/>
<line x1="440.40" y1="41.80" x2="440.40" y2="392.30" stroke="#fcfad8" stroke-width="0.9"/>
<line x1="453.10" y1="41.80" x2="453.10" y2="392.30" stroke="#fcfad8" stroke-width="0.9"/>
<line x1="465.80" y1="41.80" x2="465.80" y2="392.30" stroke="#fcfad8" stroke-width="0.9"/>
<line x1="402.30" y1="48.06" x2="478.50" y2="48.06" stroke="#ffffff" stroke-opacity="0.3" stroke-width="0.6"/>
<line x1="402.30" y1="54.32" x2="478.50" y2="54.32" stroke="#ffffff" stroke-opacity="0.3" stroke-width="0.6"/>
<line x1="402.30" y1="60.58" x2="478.50" y2="60.58" stroke="#ffffff" stroke-opacity="0.3" stroke-width="0.6"/>
<line x1="402.30" y1="66.84" x2="478.50" y2="66.84" stroke="#ffffff" stroke-opacity="0.3" stroke-width="0.6"/>
<line x1="402.30" y1="73.09" x2="478.50" y2="73.09" stroke="#ffffff" stroke-opacity="0.3" stroke-width="0.6"/>
<line x1="402.30" y1="79.35" x2="478.50" y2="79.35" stroke="#ffffff" stroke-opacity="0.3" stroke-width="0.6"/>
<line x1="402.30" y1="85.61" x2="478.50" y2="85.61" stroke="#ffffff" stroke-opacity="0.3" stroke-width="0.6"/>
<line x1="402.30" y1="91.87" x2="478.50" y2="91.87" stroke="#ffffff" stroke-opacity="0.3" stroke-width="0.6"/>
<line x1="402.30" y1="98.13" x2="478.50" y2="98.13" stroke="#ffffff" stroke-opacity="0.3" stroke-width="0.6"/>
<line x1="402.30" y1="104.39" x2="478.50" y2="104.39" stroke="#ffffff" stroke-opacity="0.3" stroke-width="0.6"/>
<line x1="402.30" y1="110.65" x2="478.50" y2="110.65" stroke="#ffffff" stroke-opacity="0.3" stroke-width="0.6"/>
<line x1="402.30" y1="116.91" x2="478.50" y2="116.91" stroke="#ffffff" stroke-opacity="0.3" stroke-width="0.6"/>
<line x1="402.30" y1="123.17" x2="478.50" y2="123.17" stroke="#ffffff" stroke-opacity="0.3" stroke-width="0.6"/>
<line x1="402.30" y1="129.43" x2="478.50" y2="129.43" stroke="#ffffff" stroke-opacity="0.3" stroke-width="0.6"/>
<line x1="402.30" y1="135.68" x2="478.50" y2="135.68" stroke="#ffffff" stroke-opacity="0.3" stroke-width="0.6"/>
<line x1="402.30" y1="141.94" x2="478.50" y2="141.94" stroke="#ffffff" stroke-opacity="0.3" stroke-width="0.6"/>
<line x1="402.30" y1="148.20" x2="478.50" y2="148.20" stroke="#ffffff" stroke-opacity="0.3" stroke-width="0.6"/>
<line x1="402.30" y1="154.46" x2="478.50" y2="154.46" stroke="#ffffff" stroke-opacity="0.3" stroke-width="0.6"/>
<line x1="402.30" y1="160.72" x2="478.50" y2="160.72" stroke="#ffffff" stroke-opacity="0.3" stroke-width="0.6"/>
<line x1="402.30" y1="166.98" x2="478.50" y2="166.98" stroke="#ffffff" stroke-opacity="0.3" stroke-width="0.6"/>
<line x1="402.30" y1="173.24" x2="478.50" y2="173.24" stroke="#ffffff" stroke-opacity="0.3" stroke-width="0.6"/>
<line x1="402.30" y1="179.50" x2="478.50" y2="179.50" stroke="#ffffff" stroke-opacity="0.3" stroke-width="0.6"/>
<line x1="402.30" y1="185.76" x2="478.50" y2="185.76" stroke="#ffffff" stroke-opacity="0.3" stroke-width="0.6"/>
<line x1="402.30" y1="192.01" x2="478.50" y2="192.01" stroke="#ffffff" stroke-opacity="0.3" stroke-width="0.6"/>
<line x1="402.30" y1="198.27" x2="478.50" y2="198.27" stroke="#ffffff" stroke-opacity="0.3" stroke-width="0.6"/>
<line x1="402.30" y1="204.53" x2="478.50" y2="204.53" stroke="#ffffff" stroke-opacity="0.3" stroke-width="0.6"/>
<line x1="402.30" y1="210.79" x2="478.50" y2="210.79" stroke="#ffffff" stroke-opacity="0.3" stroke-width="0.6"/>
<line x1="402.30" y1="217.05" x2="478.50" y2="217.05" stroke="#ffffff" stroke-opacity="0.3" stroke-width="0.6"/>
<line x1="402.30" y1="223.31" x2="478.50" y2="223.31" stroke="#ffffff" stroke-opacity="0.3" stroke-width="0.6"/>
<line x1="402.30" y1="229.57" x2="478.50" y2="229.57" stroke="#ffffff" stroke-opacity="0.3" stroke-width="0.6"/>
<line x1="402.30" y1="235.83" x2="478.50" y2="235.83" stroke="#ffffff" stroke-opacity="0.3" stroke-width="0.6"/>
<line x1="402.30" y1="242.09" x2="478.50" y2="242.09" stroke="#ffffff" stroke-opacity="0.3" stroke-width="0.6"/>
<line x1="402.30" y1="248.34" x2="478.50" y2="248.34" stroke="#ffffff" stroke-opacity="0.3" stroke-width="0.6"/>
<line x1="402.30" y1="254.60" x2="478.50" y2="254.60" stroke="#ffffff" stroke-opacity="0.3" stroke-width="0.6"/>
<line x1="402.30" y1="260.86" x2="478.50" y2="260.86" stroke="#ffffff" stroke-opacity="0.3" stroke-width="0.6"/>
<line x1="402.30" y1="267.12" x2="478.50" y2="267.12" stroke="#ffffff" stroke-opacity="0.3" stroke-width="0.6"/>
<line x1="402.30" y1="273.38" x2="478.50" y2="273.38" stroke="#ffffff" stroke-opacity="0.3" stroke-width="0.6"/>
<line x1="402.30" y1="279.64" x2="478.50" y2="279.64" stroke="#ffffff" stroke-opacity="0.3" stroke-width="0.6"/>
<line x1="402.30" y1="285.90" x2="478.50" y2="285.90" stroke="#ffffff" stroke-opacity="0.3" stroke-width="0.6"/>
<line x1="402.30" y1="292.16" x2="478.50" y2="292.16" stroke="#ffffff" stroke-opacity="0.3" stroke-width="0.6"/>
<line x1="402.30" y1="298.42" x2="478.50" y2="298.42" stroke="#ffffff" stroke-opacity="0.3" stroke-width="0.6"/>
<line x1="402.30" y1="304.68" x2="478.50" y2="304.68" stroke="#ffffff" stroke-opacity="0.3" stroke-width="0.6"/>
<line x1="402.30" y1="310.93" x2="478.50" y2="310.93" stroke="#ffffff" stroke-opacity="0.3" stroke-width="0.6"/>
<line x1="402.30" y1="317.19" x2="478.50" y2="317.19" stroke="#ffffff" stroke-opacity="0.3" stroke-width="0.6"/>
<line x1="402.30" y1="323.45" x2="478.50" y2="323.45" stroke="#ffffff" stroke-opacity="0.3" stroke-width="0.6"/>
<line x1="402.30" y1="329.71" x2="478.50" y2="329.71" stroke="#ffffff" stroke-opacity="0.3" stroke-width="0.6"/>
<line x1="402.30" y1="335.97" x2="478.50" y2="335.97" stroke="#ffffff" stroke-opacity="0.3" stroke-width="0.6"/>
<line x1="402.30" y1="342.23" x2="478.50" y2="342.23" stroke="#ffffff" stroke-opacity="0.3" stroke-width="0.6"/>
<line x1="402.30" y1="348.49" x2="478.50" y2="348.49" stroke="#ffffff" stroke-opacity="0.3" stroke-width="0.6"/>
<line x1="402.30" y1="354.75" x2="478.50" y2="354.75" stroke="#ffffff" stroke-opacity="0.3" stroke-width="0.6"/>
<line x1="402.30" y1="361.01" x2="478.50" y2="361.01" stroke="#ffffff" stroke-opacity="0.3" stroke-width="0.6"/>
<line x1="402.30" y1="367.26" x2="478.50" y2="367.26" stroke="#ffffff" stroke-opacity="0.3" stroke-width="0.6"/>
<line x1="402.30" y1="373.52" x2="478.50" y2="373.52" stroke="#ffffff" stroke-opacity="0.3" stroke-width="0.6"/>
<line x1="402.30" y1="379.78" x2="478.50" y2="379.78" stroke="#ffffff" stroke-opacity="0.3" stroke-width="0.6"/>
<line x1="402.30" y1="386.04" x2="478.50" y2="386.04" stroke="#ffffff" stroke-opacity="0.3" stroke-width="0.6"/>
<line x1="402.30" y1="42.10" x2="478.50" y2="42.10" stroke="#6a6420" stroke-width="0.8"/>
<g font-size="5.75" font-weight="bold" font-style="italic">
<text x="480" y="47.40">Epcam</text>
<text x="480" y="53.66" textLength="38" lengthAdjust="spacingAndGlyphs">2210012G08Rik</text>
<text x="480" y="59.92">Ccdc12</text>
<text x="480" y="66.18">Kdm6b</text>
<text x="480" y="72.44">Odz4</text>
<text x="480" y="78.69">Ddx46</text>
<text x="480" y="84.95">Klf6</text>
<text x="480" y="91.21">Lgr5</text>
<text x="480" y="97.47">Rnf20</text>
<text x="480" y="103.73">Nrxn2</text>
<text x="480" y="109.99">Armc3</text>
<text x="480" y="116.25">Odz4</text>
<text x="480" y="122.51">Odz4</text>
<text x="480" y="128.77">Dll1</text>
<text x="480" y="135.03">Bmp6</text>
<text x="480" y="141.28">Clec4g</text>
<text x="480" y="147.54">Mgl2</text>
<text x="480" y="153.80">Ptprf</text>
<text x="480" y="160.06">Rad51l1</text>
<text x="480" y="166.32">P2ry12</text>
<text x="480" y="172.58">Cd209e</text>
<text x="480" y="178.84">Net1</text>
<text x="480" y="185.10">Gna15</text>
<text x="480" y="191.36">Slc22a12</text>
<text x="480" y="197.61">Nav2</text>
<text x="480" y="203.87">Mbd2</text>
<text x="480" y="210.13">Zc3h13</text>
<text x="480" y="216.39">Lrrfip1</text>
<text x="480" y="222.65">Slamf9</text>
<text x="480" y="228.91">Clec4g</text>
<text x="480" y="235.17">Col17a1</text>
<text x="480" y="241.43">Arhgap5</text>
<text x="480" y="247.69">Egr1</text>
<text x="480" y="253.94">Cd209d</text>
<text x="480" y="260.20">Kdr</text>
<text x="480" y="266.46">Egr2</text>
<text x="480" y="272.72">Gem</text>
<text x="480" y="278.98">Mgl1</text>
<text x="480" y="285.24">Ccr2</text>
<text x="480" y="291.50">Ccr5</text>
<text x="480" y="297.76">Cd244</text>
<text x="480" y="304.02">Cd244</text>
<text x="480" y="310.28">Fam46c</text>
<text x="480" y="316.53">Ikzf3</text>
<text x="480" y="322.79">EG622976</text>
<text x="480" y="329.05">Atf3</text>
<text x="480" y="335.31">Cd209a</text>
<text x="480" y="341.57">Lilrb3</text>
<text x="480" y="347.83">March1</text>
<text x="480" y="354.09">March1</text>
<text x="480" y="360.35">Apoe</text>
<text x="480" y="366.61">Hspa1b</text>
<text x="480" y="372.86">Hspa1b</text>
<text x="480" y="379.12">Hspa1a</text>
<text x="480" y="385.38">P2ry6</text>
<text x="480" y="391.64">AF251705</text>
</g>
<g font-size="8.4" font-weight="bold">
<text transform="translate(411.4,442) rotate(-90)">CD11b<tspan font-size="5.5" dy="-3">+</tspan><tspan dy="3"> cDC</tspan></text>
<text transform="translate(424.1,432) rotate(-90)">CD8<tspan font-size="5.5" dy="-3">+</tspan><tspan dy="3"> cDC</tspan></text>
<text transform="translate(436.8,399) rotate(-90)">B</text>
<text transform="translate(449.5,420.5) rotate(-90)">CD8<tspan font-size="5.5" dy="-3">+</tspan><tspan dy="3"> T</tspan></text>
<text transform="translate(462.2,404.4) rotate(-90)">NK</text>
<text transform="translate(475,409) rotate(-90)">pDC</text>
</g>
</svg>
</body></html>
